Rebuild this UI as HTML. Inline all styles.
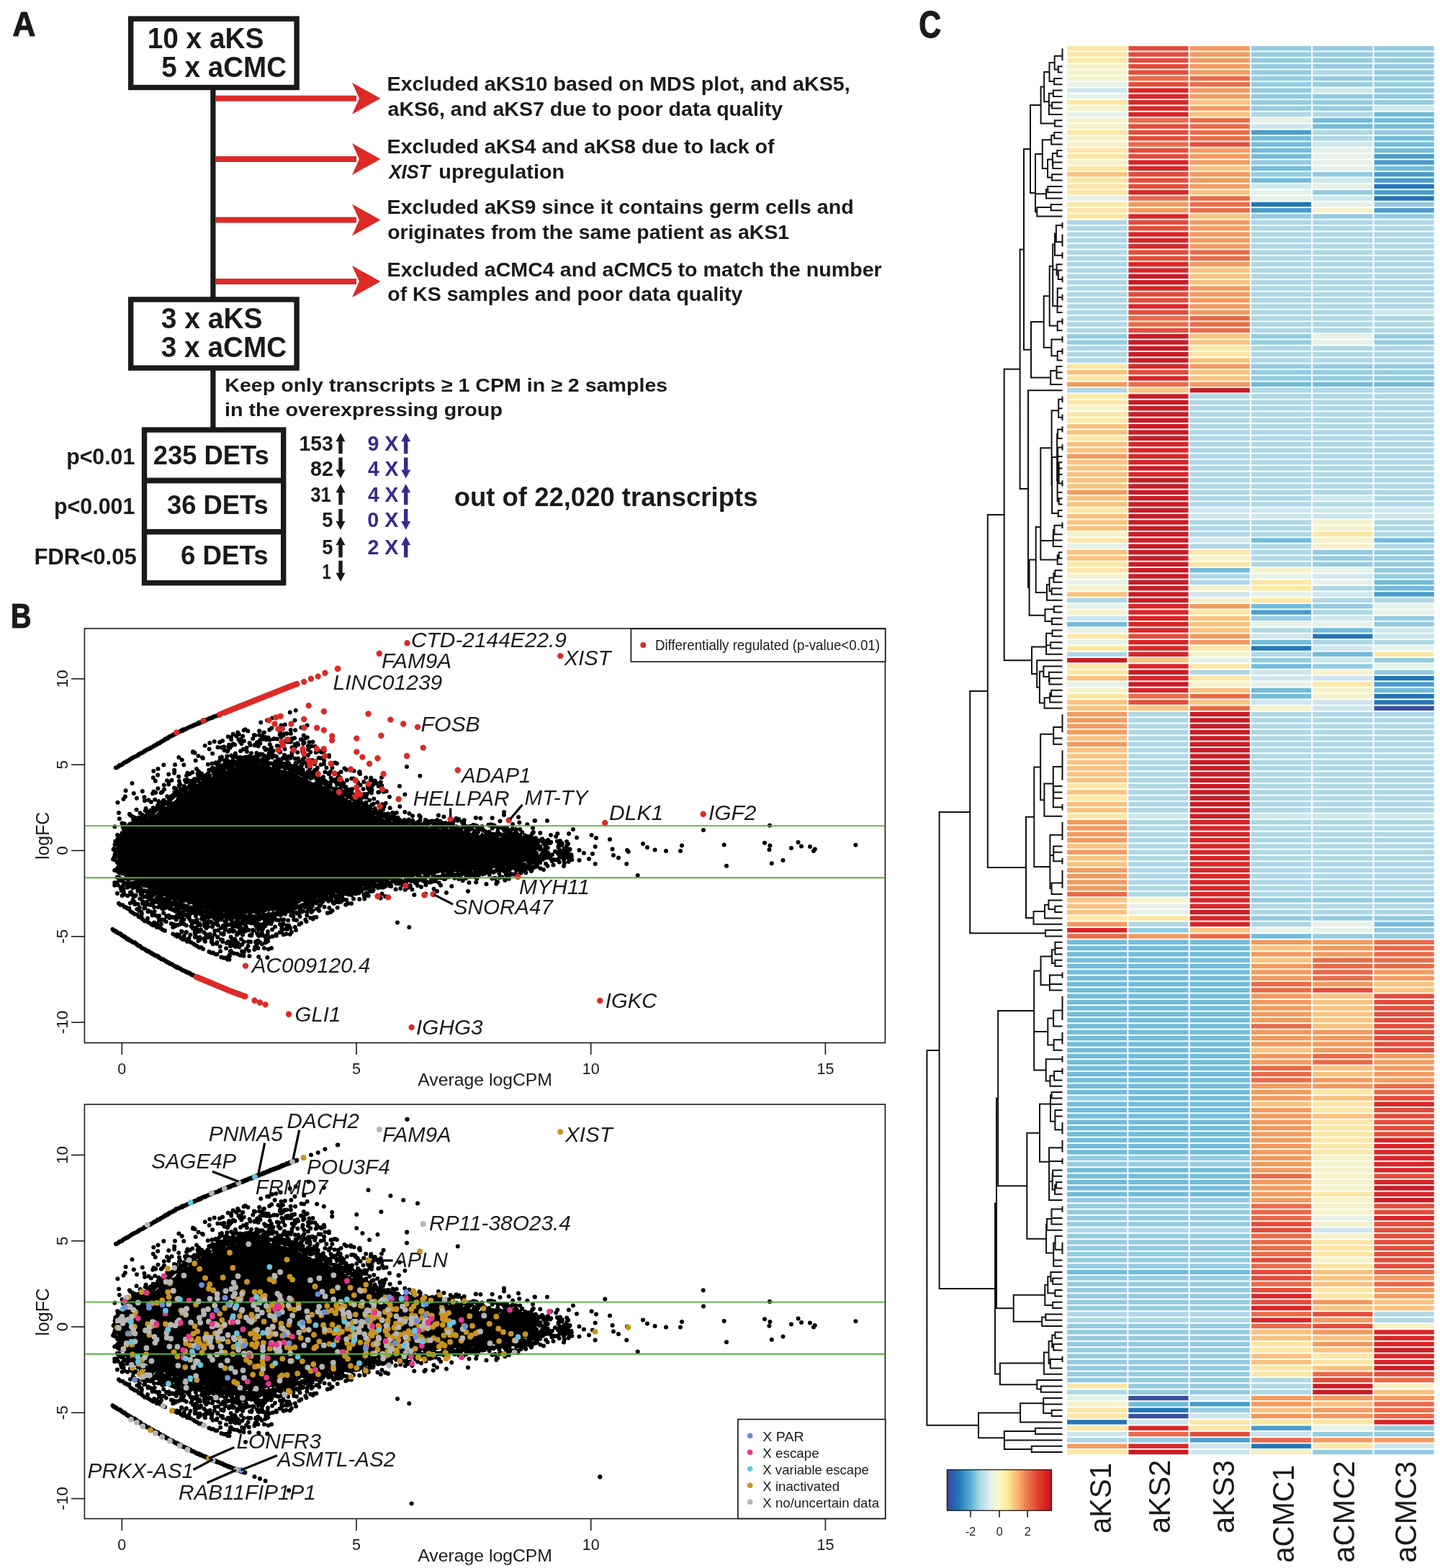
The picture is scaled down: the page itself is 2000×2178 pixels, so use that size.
<!DOCTYPE html>
<html><head><meta charset="utf-8"><title>Figure</title><style>
html,body{margin:0;padding:0;background:#fff;width:2000px;height:2178px;overflow:hidden}
svg{display:block}
.b{font-family:"Liberation Sans",Arial,sans-serif;font-weight:bold}
.r{font-family:"Liberation Sans",Arial,sans-serif;fill:#1a1a1a}
</style></head><body>
<svg width="2000" height="2178" viewBox="0 0 2000 2178">
<rect width="2000" height="2178" fill="#fff"/>
<text x="17.50" y="50.20" class="b" font-size="47.97" fill="#1a1a1a" textLength="31.80" lengthAdjust="spacingAndGlyphs" stroke="#1a1a1a" stroke-width="1.2">A</text>
<rect x="181.70" y="26.10" width="230.40" height="95.40" fill="none" stroke="#1a1a1a" stroke-width="7.4"/>
<rect x="181.70" y="416.00" width="230.40" height="95.10" fill="none" stroke="#1a1a1a" stroke-width="7.4"/>
<rect x="200.50" y="597.10" width="193.20" height="212.60" fill="none" stroke="#1a1a1a" stroke-width="7.4"/>
<rect x="197" y="663.6" width="200" height="7.8" fill="#1a1a1a"/>
<rect x="197" y="734.9" width="200" height="7.6" fill="#1a1a1a"/>
<rect x="292.3" y="124" width="7.2" height="290" fill="#1a1a1a"/>
<rect x="292.3" y="514" width="7.2" height="81" fill="#1a1a1a"/>
<rect x="299" y="132.7" width="196" height="8" fill="#dc2a26"/>
<path d="M489 114.7 L528.5 136.7 L489 158.7 L499 136.7 Z" fill="#dc2a26"/>
<rect x="299" y="217.0" width="196" height="8" fill="#dc2a26"/>
<path d="M489 199.0 L528.5 221.0 L489 243.0 L499 221.0 Z" fill="#dc2a26"/>
<rect x="299" y="301.5" width="196" height="8" fill="#dc2a26"/>
<path d="M489 283.5 L528.5 305.5 L489 327.5 L499 305.5 Z" fill="#dc2a26"/>
<rect x="299" y="387.0" width="196" height="8" fill="#dc2a26"/>
<path d="M489 369.0 L528.5 391.0 L489 413.0 L499 391.0 Z" fill="#dc2a26"/>
<text x="204.67" y="66.80" class="b" font-size="40.12" fill="#1a1a1a" textLength="161.77" lengthAdjust="spacingAndGlyphs">10 x aKS</text>
<text x="224.34" y="107.10" class="b" font-size="40.12" fill="#1a1a1a" textLength="173.78" lengthAdjust="spacingAndGlyphs">5 x aCMC</text>
<text x="223.83" y="456.10" class="b" font-size="40.12" fill="#1a1a1a" textLength="140.77" lengthAdjust="spacingAndGlyphs">3 x aKS</text>
<text x="223.83" y="496.00" class="b" font-size="40.12" fill="#1a1a1a" textLength="174.30" lengthAdjust="spacingAndGlyphs">3 x aCMC</text>
<text x="537.54" y="126.20" class="b" font-size="28.34" fill="#1a1a1a" textLength="643.17" lengthAdjust="spacingAndGlyphs">Excluded aKS10 based on MDS plot, and aKS5,</text>
<text x="538.54" y="160.70" class="b" font-size="28.34" fill="#1a1a1a" textLength="548.63" lengthAdjust="spacingAndGlyphs">aKS6, and aKS7 due to poor data quality</text>
<text x="537.54" y="213.20" class="b" font-size="28.34" fill="#1a1a1a" textLength="538.12" lengthAdjust="spacingAndGlyphs">Excluded aKS4 and aKS8 due to lack of</text>
<text x="537.54" y="297.30" class="b" font-size="28.34" fill="#1a1a1a" textLength="648.11" lengthAdjust="spacingAndGlyphs">Excluded aKS9 since it contains germ cells and</text>
<text x="538.26" y="331.50" class="b" font-size="28.34" fill="#1a1a1a" textLength="557.92" lengthAdjust="spacingAndGlyphs">originates from the same patient as aKS1</text>
<text x="537.54" y="383.80" class="b" font-size="28.34" fill="#1a1a1a" textLength="687.17" lengthAdjust="spacingAndGlyphs">Excluded aCMC4 and aCMC5 to match the number</text>
<text x="538.26" y="418.30" class="b" font-size="28.34" fill="#1a1a1a" textLength="493.12" lengthAdjust="spacingAndGlyphs">of KS samples and poor data quality</text>
<text x="540.16" y="247.50" class="b" font-style="italic" font-size="28.34" fill="#1a1a1a" textLength="57.50" lengthAdjust="spacingAndGlyphs">XIST</text>
<text x="609.27" y="247.50" class="b" font-size="28.34" fill="#1a1a1a" textLength="174.98" lengthAdjust="spacingAndGlyphs">upregulation</text>
<text x="312.24" y="544.20" class="b" font-size="26.16" fill="#1a1a1a" textLength="615.00" lengthAdjust="spacingAndGlyphs">Keep only transcripts ≥ 1 CPM in ≥ 2 samples</text>
<text x="312.09" y="578.30" class="b" font-size="26.16" fill="#1a1a1a" textLength="385.83" lengthAdjust="spacingAndGlyphs">in the overexpressing group</text>
<text x="212.73" y="645.30" class="b" font-size="37.65" fill="#1a1a1a" textLength="160.95" lengthAdjust="spacingAndGlyphs">235 DETs</text>
<text x="231.99" y="713.80" class="b" font-size="37.65" fill="#1a1a1a" textLength="140.74" lengthAdjust="spacingAndGlyphs">36 DETs</text>
<text x="251.02" y="784.00" class="b" font-size="37.65" fill="#1a1a1a" textLength="121.69" lengthAdjust="spacingAndGlyphs">6 DETs</text>
<text x="92.23" y="645.30" class="b" font-size="31.25" fill="#1a1a1a" textLength="95.06" lengthAdjust="spacingAndGlyphs">p&lt;0.01</text>
<text x="75.03" y="713.80" class="b" font-size="31.25" fill="#1a1a1a" textLength="112.30" lengthAdjust="spacingAndGlyphs">p&lt;0.001</text>
<text x="47.38" y="784.00" class="b" font-size="31.25" fill="#1a1a1a" textLength="142.41" lengthAdjust="spacingAndGlyphs">FDR&lt;0.05</text>
<text x="630.74" y="703.10" class="b" font-size="37.06" fill="#1a1a1a" textLength="421.70" lengthAdjust="spacingAndGlyphs">out of 22,020 transcripts</text>
<text x="415.60" y="626.20" class="b" font-size="29.07" fill="#1a1a1a" textLength="47.19" lengthAdjust="spacingAndGlyphs">153</text>
<path d="M470.3 630.2 L470.3 613.2 L466.5 613.2 L473.0 601.2 L479.5 613.2 L475.7 613.2 L475.7 630.2 Z" fill="#1a1a1a"/>
<text x="510.50" y="626.20" class="b" font-size="29.07" fill="#36298f" textLength="42.92" lengthAdjust="spacingAndGlyphs">9 X</text>
<path d="M561.0 630.2 L561.0 613.2 L557.2 613.2 L563.7 601.2 L570.2 613.2 L566.4 613.2 L566.4 630.2 Z" fill="#36298f"/>
<text x="431.04" y="660.50" class="b" font-size="29.07" fill="#1a1a1a" textLength="31.87" lengthAdjust="spacingAndGlyphs">82</text>
<path d="M470.3 635.5 L470.3 652.5 L466.5 652.5 L473.0 664.5 L479.5 652.5 L475.7 652.5 L475.7 635.5 Z" fill="#1a1a1a"/>
<text x="511.08" y="660.50" class="b" font-size="29.07" fill="#36298f" textLength="42.33" lengthAdjust="spacingAndGlyphs">4 X</text>
<path d="M561.0 635.5 L561.0 652.5 L557.2 652.5 L563.7 664.5 L570.2 652.5 L566.4 652.5 L566.4 635.5 Z" fill="#36298f"/>
<text x="431.26" y="697.30" class="b" font-size="29.07" fill="#1a1a1a" textLength="28.44" lengthAdjust="spacingAndGlyphs">31</text>
<path d="M470.3 701.3 L470.3 684.3 L466.5 684.3 L473.0 672.3 L479.5 684.3 L475.7 684.3 L475.7 701.3 Z" fill="#1a1a1a"/>
<text x="511.08" y="697.30" class="b" font-size="29.07" fill="#36298f" textLength="42.33" lengthAdjust="spacingAndGlyphs">4 X</text>
<path d="M561.0 701.3 L561.0 684.3 L557.2 684.3 L563.7 672.3 L570.2 684.3 L566.4 684.3 L566.4 701.3 Z" fill="#36298f"/>
<text x="447.28" y="731.90" class="b" font-size="29.07" fill="#1a1a1a" textLength="15.13" lengthAdjust="spacingAndGlyphs">5</text>
<path d="M470.3 706.9 L470.3 723.9 L466.5 723.9 L473.0 735.9 L479.5 723.9 L475.7 723.9 L475.7 706.9 Z" fill="#1a1a1a"/>
<text x="510.35" y="731.90" class="b" font-size="29.07" fill="#36298f" textLength="43.06" lengthAdjust="spacingAndGlyphs">0 X</text>
<path d="M561.0 706.9 L561.0 723.9 L557.2 723.9 L563.7 735.9 L570.2 723.9 L566.4 723.9 L566.4 706.9 Z" fill="#36298f"/>
<text x="447.28" y="770.30" class="b" font-size="29.07" fill="#1a1a1a" textLength="15.13" lengthAdjust="spacingAndGlyphs">5</text>
<path d="M470.3 774.3 L470.3 757.3 L466.5 757.3 L473.0 745.3 L479.5 757.3 L475.7 757.3 L475.7 774.3 Z" fill="#1a1a1a"/>
<text x="510.50" y="770.30" class="b" font-size="29.07" fill="#36298f" textLength="42.92" lengthAdjust="spacingAndGlyphs">2 X</text>
<path d="M561.0 774.3 L561.0 757.3 L557.2 757.3 L563.7 745.3 L570.2 757.3 L566.4 757.3 L566.4 774.3 Z" fill="#36298f"/>
<text x="447.39" y="803.80" class="b" font-size="29.07" fill="#1a1a1a" textLength="12.19" lengthAdjust="spacingAndGlyphs">1</text>
<path d="M470.3 778.8 L470.3 795.8 L466.5 795.8 L473.0 807.8 L479.5 795.8 L475.7 795.8 L475.7 778.8 Z" fill="#1a1a1a"/>
<text x="14.93" y="871.80" class="b" font-size="47.97" fill="#1a1a1a" textLength="28.53" lengthAdjust="spacingAndGlyphs" stroke="#1a1a1a" stroke-width="1.2">B</text>
<path d="M156.5 1186.8L159.0 1179.3L161.5 1175.7L164.0 1169.7L166.5 1166.3L169.0 1164.5L171.5 1160.1L174.0 1157.0L176.5 1155.0L179.0 1152.9L181.5 1147.6L184.0 1147.3L186.5 1145.8L189.0 1144.4L191.5 1144.0L194.0 1140.6L196.5 1138.5L199.0 1136.6L201.5 1137.1L204.0 1133.8L206.5 1134.9L209.0 1131.6L211.5 1131.5L214.0 1130.6L216.5 1131.1L219.0 1128.6L221.5 1123.2L224.0 1122.6L226.5 1120.0L229.0 1121.1L231.5 1119.5L234.0 1114.9L236.5 1113.4L239.0 1114.1L241.5 1112.6L244.0 1110.9L246.5 1104.4L249.0 1103.5L251.5 1101.1L254.0 1101.5L256.5 1097.1L259.0 1097.8L261.5 1097.4L264.0 1093.3L266.5 1092.0L269.0 1089.3L271.5 1088.6L274.0 1089.1L276.5 1084.8L279.0 1085.0L281.5 1082.4L284.0 1080.0L286.5 1079.3L289.0 1077.5L291.5 1078.9L294.0 1079.6L296.5 1074.4L299.0 1074.0L301.5 1073.4L304.0 1072.6L306.5 1073.2L309.0 1072.3L311.5 1069.4L314.0 1071.1L316.5 1068.8L319.0 1067.0L321.5 1065.1L324.0 1065.0L326.5 1066.0L329.0 1064.3L331.5 1063.9L334.0 1062.3L336.5 1061.3L339.0 1061.8L341.5 1061.6L344.0 1059.4L346.5 1060.1L349.0 1059.7L351.5 1059.3L354.0 1058.9L356.5 1061.0L359.0 1061.3L361.5 1060.5L364.0 1059.2L366.5 1060.5L369.0 1060.6L371.5 1060.7L374.0 1062.8L376.5 1065.5L379.0 1064.6L381.5 1063.2L384.0 1065.9L386.5 1066.8L389.0 1067.9L391.5 1069.2L394.0 1069.6L396.5 1070.0L399.0 1070.7L401.5 1070.7L404.0 1071.4L406.5 1073.6L409.0 1072.6L411.5 1073.5L414.0 1077.0L416.5 1077.9L419.0 1079.5L421.5 1079.2L424.0 1078.4L426.5 1080.8L429.0 1084.2L431.5 1084.8L434.0 1086.7L436.5 1086.6L439.0 1085.4L441.5 1085.5L444.0 1086.3L446.5 1089.5L449.0 1091.9L451.5 1090.9L454.0 1092.3L456.5 1096.0L459.0 1096.4L461.5 1099.0L464.0 1096.1L466.5 1098.0L469.0 1099.8L471.5 1099.8L474.0 1102.8L476.5 1104.4L479.0 1107.9L481.5 1108.3L484.0 1111.6L486.5 1110.5L489.0 1114.0L491.5 1112.3L494.0 1114.0L496.5 1115.2L499.0 1116.4L501.5 1119.4L504.0 1121.4L506.5 1120.0L509.0 1123.0L511.5 1125.4L514.0 1126.8L516.5 1128.6L519.0 1130.9L521.5 1133.1L524.0 1133.2L526.5 1132.2L529.0 1133.5L531.5 1135.9L534.0 1137.7L536.5 1138.4L539.0 1139.6L541.5 1140.8L544.0 1141.0L546.5 1140.1L549.0 1140.5L551.5 1141.8L554.0 1143.6L556.5 1142.4L559.0 1145.4L561.5 1143.3L564.0 1144.7L566.5 1145.0L569.0 1144.5L571.5 1144.5L574.0 1146.1L576.5 1145.3L579.0 1145.9L581.5 1146.0L584.0 1147.5L586.5 1147.0L589.0 1147.9L591.5 1149.4L594.0 1149.1L596.5 1149.5L599.0 1147.1L601.5 1148.7L604.0 1148.7L606.5 1147.5L609.0 1150.1L611.5 1152.0L614.0 1150.0L616.5 1149.3L619.0 1148.6L621.5 1149.4L624.0 1152.1L626.5 1150.0L629.0 1152.1L631.5 1151.2L634.0 1150.4L636.5 1151.9L639.0 1153.2L641.5 1152.4L644.0 1154.0L646.5 1151.9L649.0 1153.6L651.5 1154.6L654.0 1157.0L656.5 1155.3L659.0 1155.6L661.5 1154.9L664.0 1158.3L666.5 1160.3L669.0 1156.0L671.5 1158.1L674.0 1158.6L676.5 1160.1L679.0 1160.0L681.5 1157.6L684.0 1158.5L686.5 1158.4L689.0 1160.4L691.5 1161.8L694.0 1163.1L696.5 1162.4L699.0 1163.0L701.5 1160.5L704.0 1162.8L706.5 1162.3L709.0 1164.2L711.5 1163.7L714.0 1164.6L716.5 1164.5L719.0 1166.2L721.5 1167.0L724.0 1167.0L726.5 1167.5L729.0 1170.6L731.5 1172.5L734.0 1175.5L736.5 1175.6L739.0 1174.1L741.5 1175.1L744.0 1178.4L744.0 1190.4L741.5 1190.6L739.0 1193.1L736.5 1193.8L734.0 1197.1L731.5 1197.1L729.0 1196.7L726.5 1197.5L724.0 1198.1L721.5 1199.8L719.0 1199.5L716.5 1201.1L714.0 1204.0L711.5 1204.9L709.0 1201.0L706.5 1203.6L704.0 1202.4L701.5 1204.6L699.0 1207.6L696.5 1208.4L694.0 1208.1L691.5 1207.7L689.0 1207.8L686.5 1205.6L684.0 1207.1L681.5 1207.3L679.0 1207.7L676.5 1207.9L674.0 1210.3L671.5 1208.6L669.0 1210.5L666.5 1210.1L664.0 1209.5L661.5 1210.9L659.0 1210.1L656.5 1209.3L654.0 1210.4L651.5 1212.0L649.0 1212.2L646.5 1210.3L644.0 1212.1L641.5 1212.9L639.0 1211.0L636.5 1212.1L634.0 1211.6L631.5 1211.3L629.0 1213.8L626.5 1214.8L624.0 1213.2L621.5 1213.5L619.0 1212.6L616.5 1212.8L614.0 1214.9L611.5 1211.7L609.0 1213.6L606.5 1213.2L604.0 1215.9L601.5 1215.4L599.0 1215.6L596.5 1216.4L594.0 1216.2L591.5 1216.3L589.0 1218.2L586.5 1214.1L584.0 1216.7L581.5 1217.8L579.0 1219.0L576.5 1216.7L574.0 1219.6L571.5 1218.9L569.0 1220.2L566.5 1219.9L564.0 1218.3L561.5 1219.8L559.0 1218.4L556.5 1220.3L554.0 1221.2L551.5 1221.0L549.0 1219.3L546.5 1221.6L544.0 1222.1L541.5 1222.0L539.0 1223.8L536.5 1224.0L534.0 1224.3L531.5 1226.3L529.0 1225.6L526.5 1226.5L524.0 1225.8L521.5 1226.3L519.0 1227.3L516.5 1230.5L514.0 1229.9L511.5 1229.9L509.0 1231.3L506.5 1233.6L504.0 1231.2L501.5 1234.2L499.0 1234.4L496.5 1235.3L494.0 1236.7L491.5 1237.0L489.0 1237.4L486.5 1237.5L484.0 1239.2L481.5 1239.6L479.0 1239.1L476.5 1239.8L474.0 1240.6L471.5 1242.6L469.0 1242.6L466.5 1240.8L464.0 1243.2L461.5 1242.3L459.0 1245.1L456.5 1243.8L454.0 1246.6L451.5 1246.3L449.0 1247.8L446.5 1249.5L444.0 1249.3L441.5 1247.8L439.0 1248.1L436.5 1250.7L434.0 1251.4L431.5 1253.6L429.0 1254.6L426.5 1254.1L424.0 1254.4L421.5 1252.9L419.0 1252.2L416.5 1254.2L414.0 1255.4L411.5 1257.3L409.0 1259.0L406.5 1260.3L404.0 1262.1L401.5 1262.6L399.0 1261.8L396.5 1263.4L394.0 1265.3L391.5 1266.1L389.0 1266.6L386.5 1264.8L384.0 1265.9L381.5 1264.7L379.0 1266.1L376.5 1264.7L374.0 1266.4L371.5 1266.1L369.0 1267.1L366.5 1268.2L364.0 1267.9L361.5 1268.8L359.0 1270.1L356.5 1270.5L354.0 1269.6L351.5 1268.5L349.0 1270.5L346.5 1271.0L344.0 1269.6L341.5 1269.4L339.0 1269.8L336.5 1269.8L334.0 1270.9L331.5 1270.8L329.0 1272.0L326.5 1269.9L324.0 1269.7L321.5 1269.0L319.0 1270.8L316.5 1268.1L314.0 1268.7L311.5 1266.8L309.0 1268.1L306.5 1266.2L304.0 1267.4L301.5 1265.4L299.0 1266.1L296.5 1266.3L294.0 1265.7L291.5 1264.1L289.0 1266.1L286.5 1264.9L284.0 1262.8L281.5 1263.5L279.0 1261.9L276.5 1261.8L274.0 1259.9L271.5 1261.1L269.0 1259.6L266.5 1255.7L264.0 1256.2L261.5 1257.3L259.0 1253.3L256.5 1253.7L254.0 1253.9L251.5 1253.6L249.0 1253.9L246.5 1250.4L244.0 1251.5L241.5 1251.7L239.0 1250.5L236.5 1250.6L234.0 1249.8L231.5 1249.7L229.0 1244.7L226.5 1245.5L224.0 1247.1L221.5 1246.0L219.0 1244.8L216.5 1244.4L214.0 1242.5L211.5 1239.3L209.0 1240.6L206.5 1237.9L204.0 1233.0L201.5 1232.9L199.0 1233.1L196.5 1231.2L194.0 1231.8L191.5 1229.2L189.0 1229.1L186.5 1223.1L184.0 1222.3L181.5 1221.8L179.0 1218.3L176.5 1213.5L174.0 1211.3L171.5 1206.2L169.0 1203.7L166.5 1198.8L164.0 1195.8L161.5 1190.7L159.0 1189.1L156.5 1188.5Z" fill="#000"/>
<path d="M157.6 1180.0h0M158.3 1191.0h0M158.1 1178.9h0M157.1 1193.5h0M159.5 1173.3h0M159.5 1193.8h0M160.2 1168.6h0M159.6 1194.5h0M163.1 1159.7h0M163.0 1198.2h0M163.8 1171.3h0M163.5 1197.6h0M164.5 1166.9h0M164.8 1205.7h0M164.6 1163.9h0M165.5 1200.8h0M167.7 1163.1h0M166.7 1202.6h0M168.0 1161.1h0M167.2 1205.2h0M169.9 1159.2h0M170.6 1209.9h0M169.5 1157.2h0M170.1 1213.4h0M172.9 1156.7h0M173.4 1209.2h0M172.2 1152.4h0M171.7 1211.4h0M173.9 1151.2h0M175.3 1215.7h0M175.6 1154.1h0M175.2 1215.9h0M177.4 1150.6h0M177.9 1227.4h0M177.1 1148.7h0M176.3 1220.7h0M179.9 1130.7h0M180.2 1220.8h0M179.4 1146.1h0M178.6 1221.9h0M181.3 1147.5h0M181.1 1228.8h0M181.3 1146.9h0M181.8 1231.2h0M183.6 1143.8h0M184.5 1233.4h0M185.0 1138.2h0M184.0 1226.9h0M186.5 1136.1h0M187.7 1227.3h0M186.2 1143.7h0M186.3 1229.3h0M189.4 1142.1h0M188.2 1230.6h0M188.9 1139.9h0M190.1 1233.1h0M191.6 1138.0h0M192.0 1230.4h0M192.4 1135.8h0M192.3 1236.6h0M193.8 1138.3h0M193.2 1236.0h0M193.1 1140.1h0M193.4 1232.7h0M196.1 1138.7h0M195.4 1234.5h0M195.6 1137.1h0M195.5 1242.1h0M199.0 1137.0h0M198.3 1237.1h0M198.5 1137.1h0M199.5 1255.3h0M201.1 1133.6h0M200.4 1237.0h0M200.9 1135.1h0M201.9 1237.3h0M202.6 1122.9h0M203.7 1238.4h0M203.7 1134.9h0M203.7 1253.1h0M206.7 1128.9h0M205.5 1240.7h0M205.3 1127.7h0M206.1 1244.9h0M208.1 1131.3h0M209.0 1256.9h0M209.1 1125.8h0M209.0 1245.5h0M210.3 1128.1h0M210.5 1241.4h0M209.9 1129.7h0M210.3 1246.0h0M214.1 1127.3h0M214.1 1260.1h0M214.1 1127.8h0M212.6 1243.4h0M215.0 1127.2h0M215.8 1252.7h0M216.3 1125.5h0M215.9 1249.9h0M217.2 1122.1h0M218.8 1250.5h0M218.5 1123.9h0M217.4 1250.6h0M220.1 1118.3h0M221.3 1247.3h0M220.2 1113.0h0M220.8 1246.1h0M222.1 1122.4h0M223.6 1252.8h0M222.1 1116.1h0M223.8 1250.5h0M224.9 1118.2h0M224.5 1247.2h0M226.1 1117.2h0M225.3 1258.0h0M227.5 1111.5h0M228.3 1249.0h0M227.1 1118.3h0M227.1 1251.6h0M229.5 1115.8h0M229.3 1258.6h0M229.7 1115.5h0M230.2 1258.4h0M232.2 1106.2h0M232.4 1252.7h0M232.4 1116.1h0M232.3 1250.5h0M233.8 1107.9h0M234.1 1253.0h0M235.3 1111.1h0M234.5 1253.3h0M237.3 1106.4h0M236.4 1254.4h0M236.7 1111.2h0M237.7 1254.0h0M239.7 1105.0h0M240.4 1254.2h0M239.8 1107.8h0M239.6 1256.5h0M241.9 1105.8h0M242.0 1263.9h0M242.4 1100.5h0M242.9 1253.7h0M244.5 1095.5h0M245.1 1253.8h0M243.6 1104.7h0M243.5 1254.3h0M245.9 1100.7h0M247.4 1263.0h0M246.1 1100.1h0M247.1 1254.6h0M250.0 1089.6h0M248.6 1266.9h0M249.0 1100.7h0M250.2 1261.8h0M250.9 1099.3h0M251.6 1257.1h0M251.0 1100.0h0M252.0 1255.5h0M254.1 1097.4h0M253.0 1257.8h0M254.2 1096.9h0M253.1 1273.0h0M257.0 1083.7h0M255.6 1258.2h0M255.5 1091.9h0M255.9 1257.5h0M258.6 1086.5h0M259.4 1258.9h0M258.1 1086.1h0M258.9 1262.5h0M260.4 1094.1h0M261.6 1260.7h0M260.3 1083.2h0M261.5 1264.9h0M262.8 1084.9h0M262.7 1267.1h0M263.5 1091.0h0M263.7 1269.6h0M265.5 1090.6h0M266.1 1260.8h0M265.2 1090.5h0M265.1 1260.6h0M268.0 1088.3h0M268.9 1261.7h0M268.4 1088.9h0M268.1 1260.4h0M270.3 1088.2h0M271.3 1264.1h0M270.2 1085.7h0M271.7 1261.4h0M273.8 1084.5h0M273.2 1268.7h0M273.0 1084.0h0M273.6 1277.7h0M275.3 1078.2h0M276.0 1266.1h0M275.4 1083.6h0M274.7 1262.6h0M277.1 1078.5h0M277.5 1263.4h0M277.2 1076.5h0M278.7 1267.1h0M280.0 1081.4h0M280.0 1265.7h0M279.7 1080.2h0M279.9 1276.3h0M283.7 1078.2h0M282.3 1277.2h0M282.4 1079.6h0M281.8 1265.7h0M285.1 1077.4h0M284.6 1267.1h0M284.2 1079.0h0M284.4 1266.3h0M286.7 1079.0h0M287.2 1265.9h0M287.8 1076.0h0M288.1 1269.1h0M290.4 1069.4h0M289.8 1267.0h0M291.0 1077.2h0M290.4 1269.5h0M291.5 1069.5h0M293.2 1269.9h0M292.9 1070.0h0M291.7 1268.9h0M294.8 1068.4h0M295.4 1273.5h0M295.0 1066.6h0M295.2 1271.2h0M296.7 1074.4h0M296.5 1268.6h0M296.4 1067.3h0M297.3 1270.8h0M299.9 1069.1h0M299.6 1267.2h0M300.2 1068.1h0M299.6 1270.2h0M302.3 1072.4h0M302.5 1268.7h0M301.1 1071.5h0M302.5 1268.5h0M304.9 1056.9h0M304.4 1269.8h0M304.4 1067.2h0M304.9 1271.7h0M307.1 1070.6h0M306.1 1269.4h0M307.3 1069.4h0M306.9 1268.3h0M308.3 1068.7h0M309.5 1273.3h0M309.6 1068.6h0M309.2 1271.1h0M311.5 1068.6h0M312.4 1269.9h0M312.6 1058.1h0M310.6 1271.4h0M314.6 1054.5h0M313.9 1270.5h0M313.4 1056.7h0M313.4 1272.8h0M315.7 1064.6h0M317.3 1270.1h0M317.0 1064.7h0M317.2 1274.4h0M318.3 1057.7h0M318.8 1270.0h0M317.8 1064.1h0M318.7 1271.3h0M320.5 1064.4h0M320.8 1277.5h0M320.2 1060.5h0M321.9 1270.7h0M324.5 1060.4h0M324.4 1271.8h0M323.3 1063.4h0M324.6 1274.0h0M325.7 1062.4h0M325.6 1271.0h0M325.2 1057.4h0M325.6 1281.7h0M327.9 1062.7h0M328.4 1271.9h0M328.1 1051.4h0M329.2 1277.7h0M331.1 1053.5h0M331.7 1274.4h0M331.2 1063.1h0M331.3 1273.6h0M333.7 1058.6h0M332.8 1271.5h0M334.1 1062.2h0M333.1 1273.0h0M335.2 1056.8h0M336.6 1272.7h0M335.9 1060.7h0M335.7 1273.5h0M337.3 1060.8h0M337.4 1281.1h0M338.0 1060.6h0M338.8 1294.2h0M340.3 1060.4h0M339.8 1272.1h0M340.1 1060.6h0M339.9 1273.0h0M342.9 1051.6h0M343.3 1274.0h0M342.6 1057.4h0M342.6 1273.6h0M344.3 1058.6h0M346.1 1272.5h0M345.2 1056.0h0M345.9 1272.9h0M347.1 1058.6h0M347.4 1274.3h0M348.5 1052.2h0M348.3 1272.0h0M349.1 1054.7h0M350.8 1274.4h0M350.2 1059.6h0M349.8 1282.3h0M353.1 1051.7h0M353.3 1272.9h0M351.6 1058.8h0M352.4 1276.3h0M355.7 1054.2h0M355.1 1277.5h0M354.7 1056.1h0M353.9 1277.8h0M356.7 1049.1h0M357.5 1273.0h0M356.5 1058.0h0M357.5 1276.4h0M358.8 1058.7h0M359.6 1275.0h0M359.4 1058.0h0M359.8 1271.6h0M361.6 1056.9h0M362.9 1275.3h0M362.8 1056.8h0M361.5 1272.3h0M365.3 1055.0h0M364.0 1270.9h0M364.4 1055.4h0M364.2 1272.0h0M367.1 1050.0h0M366.3 1270.6h0M366.5 1058.2h0M367.2 1271.4h0M369.8 1055.4h0M369.2 1271.0h0M370.1 1059.3h0M369.8 1271.2h0M371.0 1055.6h0M371.2 1281.9h0M371.6 1060.4h0M371.0 1271.9h0M374.3 1049.9h0M373.3 1271.4h0M373.4 1047.1h0M373.3 1269.6h0M375.5 1060.2h0M377.2 1277.7h0M376.9 1038.2h0M377.3 1270.7h0M378.2 1051.9h0M379.3 1268.6h0M379.1 1061.0h0M378.5 1270.1h0M380.5 1063.6h0M380.8 1269.6h0M382.1 1063.0h0M382.1 1268.8h0M383.3 1057.4h0M384.2 1269.6h0M382.7 1061.7h0M383.3 1277.4h0M385.4 1063.2h0M386.8 1266.9h0M385.8 1058.3h0M386.5 1266.9h0M387.5 1065.4h0M389.2 1267.3h0M388.9 1056.5h0M388.1 1267.4h0M391.7 1062.5h0M390.3 1270.6h0M390.4 1065.1h0M389.8 1271.2h0M394.0 1063.1h0M394.1 1265.0h0M392.7 1064.5h0M394.1 1277.2h0M395.4 1066.8h0M395.5 1266.9h0M396.5 1067.2h0M396.2 1269.6h0M398.6 1062.9h0M398.2 1265.0h0M397.6 1067.1h0M398.6 1263.8h0M399.8 1064.1h0M399.9 1263.0h0M399.5 1066.5h0M400.1 1278.4h0M403.6 1053.0h0M402.3 1262.3h0M402.0 1067.9h0M403.2 1264.3h0M404.7 1069.4h0M405.4 1265.7h0M405.7 1064.0h0M405.5 1261.8h0M408.3 1071.0h0M407.7 1262.4h0M408.1 1071.5h0M407.1 1261.6h0M409.3 1064.7h0M410.2 1261.3h0M409.8 1053.8h0M410.0 1260.8h0M413.0 1070.0h0M413.4 1259.4h0M412.3 1067.4h0M413.1 1268.8h0M413.9 1073.7h0M414.0 1259.1h0M415.7 1071.6h0M415.7 1260.1h0M417.9 1073.7h0M416.7 1263.5h0M418.1 1075.6h0M417.4 1261.3h0M419.0 1075.1h0M418.9 1257.6h0M419.1 1073.3h0M419.9 1257.6h0M421.0 1076.3h0M422.4 1256.8h0M421.6 1077.0h0M422.6 1259.1h0M423.5 1078.3h0M424.2 1258.4h0M424.7 1078.4h0M423.7 1259.9h0M426.6 1078.4h0M426.4 1266.7h0M426.4 1076.4h0M426.5 1256.6h0M429.9 1058.0h0M428.9 1254.6h0M429.7 1079.8h0M428.2 1263.0h0M431.4 1074.9h0M431.4 1261.6h0M431.5 1081.1h0M430.6 1256.2h0M434.3 1073.1h0M433.2 1256.2h0M433.7 1080.0h0M433.3 1253.6h0M436.4 1073.4h0M435.6 1254.3h0M437.0 1070.1h0M435.8 1252.1h0M439.7 1069.9h0M438.8 1251.1h0M439.7 1082.8h0M439.6 1254.7h0M441.8 1085.1h0M441.8 1251.2h0M441.0 1078.3h0M441.9 1251.0h0M443.0 1084.9h0M443.6 1251.4h0M442.8 1085.8h0M444.0 1258.5h0M445.1 1084.8h0M446.5 1248.8h0M446.7 1087.6h0M446.2 1251.9h0M448.7 1087.8h0M448.2 1251.4h0M448.3 1085.0h0M448.3 1250.3h0M449.8 1086.6h0M450.8 1248.3h0M451.3 1084.4h0M450.7 1248.0h0M453.1 1091.2h0M452.5 1248.7h0M452.4 1089.3h0M453.2 1246.6h0M455.9 1092.5h0M456.1 1251.7h0M455.6 1092.6h0M455.6 1247.6h0M458.9 1093.4h0M458.7 1267.2h0M458.5 1087.3h0M457.4 1261.0h0M460.4 1082.6h0M461.2 1245.1h0M461.0 1084.5h0M459.5 1246.1h0M463.3 1095.7h0M463.6 1245.1h0M463.4 1095.8h0M462.8 1253.9h0M464.6 1096.4h0M465.2 1244.7h0M464.3 1096.8h0M464.5 1254.2h0M468.0 1089.8h0M466.9 1248.7h0M466.8 1095.8h0M467.9 1244.4h0M470.7 1096.8h0M470.2 1250.6h0M469.2 1080.2h0M470.3 1244.0h0M473.0 1100.0h0M473.4 1244.8h0M472.1 1095.4h0M472.3 1242.2h0M475.3 1102.3h0M475.4 1242.0h0M475.1 1085.9h0M475.0 1245.2h0M476.8 1103.8h0M476.3 1240.8h0M477.4 1101.5h0M477.2 1249.2h0M478.9 1104.1h0M479.9 1239.7h0M478.6 1103.4h0M478.8 1241.4h0M481.4 1103.0h0M482.2 1239.9h0M482.2 1103.9h0M481.3 1250.0h0M483.9 1107.2h0M483.6 1242.5h0M485.1 1101.8h0M484.2 1239.6h0M485.8 1105.1h0M486.9 1239.5h0M487.1 1106.9h0M487.7 1243.1h0M488.7 1101.2h0M488.3 1240.2h0M489.0 1109.5h0M488.3 1243.2h0M490.6 1108.8h0M492.5 1237.2h0M491.0 1108.2h0M491.6 1240.7h0M494.6 1112.6h0M493.6 1237.5h0M493.1 1104.6h0M494.6 1241.1h0M495.4 1107.4h0M496.9 1238.0h0M496.9 1112.4h0M495.9 1235.9h0M498.3 1116.1h0M498.5 1240.4h0M499.2 1108.8h0M499.2 1236.1h0M501.3 1115.5h0M501.8 1237.3h0M500.7 1113.6h0M502.1 1235.3h0M504.4 1119.1h0M503.1 1234.8h0M504.1 1107.6h0M504.1 1235.3h0M506.8 1119.0h0M505.5 1242.7h0M506.3 1115.9h0M506.3 1248.6h0M508.3 1114.8h0M508.8 1240.2h0M508.3 1117.0h0M508.5 1233.9h0M510.2 1119.8h0M510.0 1241.3h0M510.1 1123.6h0M510.0 1242.2h0M512.9 1124.7h0M512.3 1231.0h0M513.6 1121.3h0M513.6 1236.2h0M514.7 1123.3h0M515.3 1236.9h0M516.2 1118.0h0M514.7 1238.2h0M518.8 1116.8h0M517.2 1230.2h0M517.2 1128.3h0M518.7 1236.0h0M520.7 1123.0h0M520.7 1229.9h0M519.6 1129.5h0M520.9 1229.4h0M522.4 1129.2h0M521.8 1229.0h0M522.4 1126.3h0M522.5 1229.4h0M526.1 1129.7h0M525.9 1231.1h0M524.3 1130.4h0M525.1 1233.2h0M527.3 1128.8h0M527.7 1227.7h0M528.3 1133.3h0M528.2 1227.4h0M529.0 1133.9h0M530.5 1241.4h0M529.0 1132.1h0M530.0 1232.5h0M531.8 1133.2h0M532.1 1232.7h0M531.9 1124.4h0M532.0 1226.5h0M535.2 1134.3h0M534.0 1229.0h0M534.0 1130.8h0M535.2 1231.2h0M537.5 1136.4h0M537.0 1226.4h0M538.0 1137.8h0M538.0 1224.5h0M539.0 1137.9h0M540.4 1226.7h0M539.4 1130.5h0M539.1 1226.4h0M542.1 1134.1h0M542.5 1227.6h0M541.7 1138.2h0M541.3 1230.8h0M544.7 1134.9h0M543.7 1225.3h0M544.9 1136.9h0M543.7 1225.5h0M547.6 1139.9h0M546.2 1224.0h0M547.2 1133.5h0M546.1 1223.2h0M548.7 1140.0h0M549.2 1222.8h0M548.9 1140.7h0M550.2 1227.3h0M550.8 1129.0h0M550.8 1223.6h0M552.6 1135.8h0M552.1 1223.9h0M553.4 1138.7h0M553.2 1222.1h0M553.8 1142.6h0M553.8 1227.4h0M556.8 1140.4h0M556.7 1223.3h0M555.7 1139.5h0M556.2 1226.2h0M559.6 1141.2h0M558.9 1226.1h0M558.6 1142.4h0M559.2 1229.0h0M561.7 1138.9h0M561.9 1224.8h0M561.5 1141.3h0M560.8 1224.2h0M562.8 1141.9h0M564.2 1225.0h0M563.9 1142.9h0M563.4 1222.4h0M566.2 1142.2h0M566.4 1230.3h0M565.4 1140.1h0M566.6 1221.6h0M568.4 1129.9h0M567.5 1222.5h0M567.7 1138.5h0M569.3 1222.3h0M570.0 1141.5h0M570.9 1224.1h0M570.8 1140.8h0M571.5 1222.0h0M573.0 1133.3h0M572.6 1223.5h0M573.0 1139.4h0M572.4 1235.5h0M575.3 1145.1h0M575.1 1220.7h0M574.6 1143.2h0M575.4 1223.4h0M577.7 1144.4h0M577.4 1223.8h0M578.9 1142.6h0M577.4 1224.9h0M580.2 1144.9h0M579.7 1224.2h0M581.0 1141.8h0M580.3 1221.5h0M582.3 1132.7h0M582.5 1222.0h0M583.4 1139.2h0M582.7 1219.4h0M585.3 1145.7h0M585.9 1219.5h0M585.9 1145.0h0M585.0 1218.9h0M587.5 1145.6h0M586.6 1222.7h0M587.2 1145.3h0M587.2 1220.1h0M589.9 1142.6h0M590.3 1219.1h0M590.9 1139.0h0M589.1 1224.4h0M593.2 1140.8h0M591.7 1224.2h0M592.7 1146.9h0M591.4 1229.2h0M595.1 1146.0h0M594.0 1217.5h0M594.3 1141.1h0M594.5 1217.5h0M598.0 1141.1h0M596.5 1225.5h0M597.4 1141.3h0M597.5 1225.6h0M600.2 1140.3h0M599.0 1221.1h0M599.7 1142.2h0M599.5 1225.0h0M602.1 1146.6h0M601.5 1216.8h0M602.0 1147.6h0M601.9 1216.8h0M604.4 1145.3h0M604.5 1223.9h0M603.4 1140.7h0M604.3 1219.3h0M607.1 1140.9h0M606.5 1217.9h0M607.7 1147.9h0M607.1 1219.8h0M608.3 1144.7h0M609.6 1226.2h0M608.9 1132.5h0M609.2 1218.2h0M612.4 1148.6h0M612.0 1219.2h0M611.3 1140.8h0M611.3 1217.9h0M614.1 1143.0h0M613.4 1217.4h0M613.8 1145.7h0M614.7 1216.5h0M617.1 1147.1h0M616.4 1216.1h0M616.4 1134.4h0M616.7 1221.1h0M618.5 1147.8h0M618.4 1218.2h0M619.1 1143.2h0M617.9 1219.8h0M622.0 1146.4h0M620.3 1215.8h0M620.2 1148.7h0M622.0 1218.2h0M623.9 1143.6h0M624.4 1218.0h0M623.8 1145.9h0M624.0 1217.8h0M626.4 1149.1h0M626.3 1216.4h0M626.5 1149.6h0M625.4 1214.1h0M628.9 1140.4h0M628.7 1215.6h0M629.0 1144.1h0M628.5 1214.9h0M630.4 1148.3h0M630.4 1215.8h0M631.1 1139.6h0M629.9 1216.9h0M632.3 1150.2h0M633.8 1216.7h0M634.0 1148.3h0M632.2 1215.3h0M635.8 1139.8h0M636.6 1215.7h0M635.4 1150.5h0M635.9 1214.0h0M637.3 1151.2h0M637.0 1217.5h0M637.2 1137.7h0M637.2 1221.0h0M639.7 1151.6h0M640.8 1213.7h0M640.9 1150.9h0M639.5 1218.6h0M643.2 1144.4h0M643.3 1212.8h0M643.1 1147.2h0M642.7 1223.2h0M644.7 1139.3h0M645.6 1212.2h0M644.2 1148.4h0M645.8 1212.5h0M647.2 1147.8h0M646.9 1219.9h0M647.6 1152.8h0M647.3 1215.4h0M649.9 1149.0h0M649.3 1218.1h0M649.7 1149.4h0M650.3 1213.9h0M652.2 1147.8h0M653.3 1217.7h0M652.5 1152.6h0M651.5 1226.1h0M655.2 1147.4h0M654.5 1215.0h0M655.8 1147.3h0M655.0 1212.8h0M657.1 1146.1h0M657.0 1215.7h0M657.4 1145.8h0M657.8 1212.4h0M658.6 1154.0h0M659.4 1214.4h0M660.2 1146.5h0M658.7 1218.0h0M662.6 1147.6h0M662.1 1211.9h0M662.7 1149.1h0M662.4 1220.4h0M664.1 1155.8h0M664.5 1216.8h0M663.8 1150.6h0M665.3 1211.5h0M667.0 1152.1h0M666.7 1211.1h0M666.3 1151.0h0M667.4 1212.7h0M668.4 1150.5h0M669.7 1211.0h0M669.4 1147.9h0M670.0 1212.9h0M671.6 1153.8h0M671.0 1210.6h0M671.0 1152.5h0M671.3 1213.1h0M673.8 1154.7h0M673.3 1209.7h0M675.0 1155.7h0M673.2 1213.5h0M677.0 1157.2h0M676.6 1211.0h0M676.4 1157.8h0M675.5 1227.9h0M679.5 1155.5h0M678.9 1210.3h0M679.4 1156.0h0M679.7 1214.9h0M681.8 1145.2h0M680.7 1209.0h0M680.6 1157.7h0M680.4 1209.1h0M683.7 1150.6h0M683.5 1220.4h0M684.4 1158.5h0M683.8 1210.7h0M685.2 1146.3h0M685.5 1211.8h0M686.3 1146.5h0M686.3 1210.4h0M688.3 1158.7h0M689.3 1227.4h0M687.8 1159.2h0M687.9 1209.9h0M691.6 1150.2h0M691.5 1208.2h0M691.4 1154.7h0M691.1 1224.9h0M692.3 1159.3h0M693.7 1219.0h0M693.6 1158.5h0M693.4 1213.4h0M694.8 1158.7h0M695.1 1208.1h0M695.6 1159.5h0M695.1 1208.2h0M698.4 1160.5h0M698.4 1208.2h0M697.1 1150.0h0M697.4 1218.2h0M701.1 1152.0h0M699.7 1209.5h0M699.6 1150.2h0M701.1 1211.1h0M702.7 1159.5h0M703.4 1209.3h0M703.1 1160.6h0M702.2 1206.9h0M705.6 1158.6h0M704.5 1214.2h0M704.7 1159.7h0M704.5 1207.3h0M708.3 1160.8h0M706.9 1208.1h0M707.2 1153.1h0M706.8 1220.8h0M709.1 1154.1h0M710.3 1205.8h0M710.0 1161.7h0M709.5 1205.7h0M712.1 1144.9h0M713.4 1214.6h0M711.6 1162.3h0M713.2 1204.5h0M715.3 1162.9h0M715.8 1203.7h0M715.4 1162.7h0M714.1 1203.6h0M717.9 1162.0h0M716.6 1205.3h0M718.0 1164.0h0M717.3 1203.6h0M719.0 1159.7h0M720.0 1203.3h0M718.8 1165.2h0M719.8 1205.1h0M721.5 1165.3h0M722.2 1206.7h0M722.6 1162.7h0M721.4 1202.0h0M724.9 1164.7h0M724.8 1201.4h0M725.0 1165.2h0M725.1 1209.1h0M726.8 1167.8h0M727.6 1202.9h0M727.5 1166.7h0M726.2 1207.4h0M728.9 1168.4h0M728.9 1202.9h0M728.2 1166.2h0M729.1 1202.2h0M730.8 1165.3h0M732.2 1206.4h0M731.2 1165.3h0M731.4 1203.9h0M733.1 1163.3h0M734.9 1200.1h0M734.0 1168.5h0M734.1 1197.5h0M737.3 1171.7h0M735.8 1196.9h0M735.9 1165.9h0M735.5 1196.8h0M739.2 1173.0h0M737.8 1199.1h0M739.0 1170.9h0M739.2 1195.9h0M741.9 1170.0h0M740.3 1195.0h0M741.2 1172.3h0M740.8 1195.0h0M743.4 1175.7h0M743.8 1201.5h0M742.9 1172.9h0M744.1 1194.3h0M183.5 1088.0h0M213.3 1070.9h0M219.5 1067.9h0M227.3 1062.6h0M248.4 1052.1h0M268.1 1043.9h0M284.7 1035.8h0M291.3 1031.9h0M297.7 1030.0h0M316.8 1023.2h0M323.7 1019.7h0M330.2 1017.5h0M340.7 1013.2h0M362.3 1003.5h0M371.1 1000.5h0M378.0 997.4h0M402.7 989.4h0M410.7 986.8h0M163.4 1114.8h0M171.5 1110.0h0M185.8 1101.9h0M215.7 1084.7h0M234.2 1075.6h0M242.1 1069.7h0M255.3 1062.6h0M271.7 1056.4h0M281.0 1052.2h0M295.1 1046.7h0M310.5 1039.9h0M317.4 1037.3h0M326.2 1034.5h0M333.4 1030.2h0M338.8 1029.3h0M360.2 1021.1h0M366.1 1017.7h0M374.2 1013.7h0M390.5 1007.6h0M395.8 1006.6h0M409.5 1000.6h0M200.4 1107.3h0M213.5 1099.5h0M219.4 1095.3h0M227.8 1090.4h0M234.7 1086.6h0M260.3 1073.7h0M267.2 1072.8h0M272.9 1068.0h0M288.8 1061.8h0M294.5 1060.6h0M307.9 1054.5h0M315.3 1050.5h0M321.1 1049.4h0M326.8 1046.4h0M334.1 1043.3h0M353.8 1035.6h0M361.4 1032.7h0M374.7 1027.7h0M388.7 1020.8h0M395.1 1019.2h0M410.1 1014.3h0M418.5 1010.6h0M426.6 1007.5h0M165.9 1137.3h0M209.9 1114.1h0M215.2 1110.8h0M242.0 1094.6h0M248.8 1091.1h0M260.6 1085.6h0M270.0 1082.1h0M275.5 1080.1h0M282.4 1077.4h0M297.6 1069.4h0M303.2 1066.9h0M311.2 1064.7h0M317.7 1061.7h0M335.9 1054.1h0M342.4 1052.9h0M356.4 1046.1h0M368.8 1041.5h0M384.8 1036.1h0M393.7 1031.8h0M399.3 1030.4h0M421.8 1021.4h0M172.9 1144.3h0M189.3 1136.7h0M197.1 1131.7h0M212.6 1122.0h0M219.3 1118.2h0M359.9 1056.0h0M365.7 1054.4h0M372.4 1050.3h0M380.2 1049.5h0M410.0 1037.6h0M414.0 1034.5h0M422.5 1031.7h0M429.5 1030.9h0M386.7 1054.8h0M393.5 1053.3h0M398.0 1051.3h0M405.1 1049.6h0M413.3 1045.1h0M420.1 1043.6h0M428.8 1039.1h0M399.5 1059.4h0M414.2 1053.7h0M422.5 1052.4h0M427.9 1049.0h0M407.9 1065.1h0M420.0 1060.9h0M426.4 1058.8h0M414.1 1069.3h0M418.8 1068.0h0M429.6 1071.2h0M169.6 1244.0h0M187.2 1256.1h0M193.8 1260.2h0M200.1 1261.7h0M205.5 1266.3h0M213.1 1271.0h0M220.4 1275.0h0M225.5 1277.5h0M230.7 1280.3h0M237.7 1282.9h0M243.3 1286.5h0M258.9 1294.8h0M264.4 1298.4h0M270.8 1301.8h0M278.0 1304.8h0M295.6 1311.3h0M319.7 1321.3h0M325.0 1324.3h0M338.4 1327.7h0M346.4 1328.0h0M359.2 1329.0h0M371.3 1329.9h0M164.1 1229.5h0M171.4 1234.6h0M182.7 1242.4h0M187.7 1244.5h0M194.2 1248.3h0M198.1 1252.2h0M204.4 1254.7h0M227.2 1268.3h0M239.1 1273.8h0M244.9 1277.6h0M251.6 1279.7h0M255.4 1283.6h0M267.2 1288.3h0M273.4 1290.2h0M277.3 1293.8h0M283.4 1295.2h0M302.1 1302.0h0M307.0 1305.3h0M319.2 1310.8h0M325.7 1313.9h0M332.3 1315.5h0M342.1 1318.1h0M353.3 1319.0h0M367.0 1316.9h0M372.7 1318.6h0M377.0 1317.0h0M165.9 1221.7h0M170.8 1223.9h0M175.3 1227.1h0M182.7 1230.1h0M194.0 1237.1h0M197.7 1240.9h0M204.2 1243.7h0M209.3 1247.0h0M221.4 1254.7h0M226.9 1257.7h0M231.4 1260.5h0M236.1 1262.2h0M243.2 1265.4h0M255.3 1271.3h0M272.7 1281.6h0M277.3 1282.8h0M284.2 1286.2h0M289.1 1287.1h0M309.5 1297.1h0M320.6 1301.5h0M348.1 1308.2h0M355.1 1308.9h0M361.2 1309.1h0M372.1 1307.3h0M240.2 1256.2h0M246.5 1259.2h0M252.4 1261.3h0M260.8 1264.9h0M272.0 1272.6h0M284.5 1277.6h0M294.6 1281.9h0M313.0 1289.1h0M318.9 1292.2h0M325.4 1293.2h0M333.1 1296.1h0M337.1 1298.6h0M349.2 1299.6h0M358.6 1299.2h0M364.7 1299.6h0M371.7 1298.5h0M292.8 1272.3h0M303.4 1276.4h0M322.2 1283.8h0M329.4 1287.3h0M334.4 1288.2h0M345.5 1292.1h0M351.0 1291.7h0M358.8 1291.1h0M365.1 1290.1h0M378.1 1291.2h0M312.2 1273.4h0M322.2 1276.6h0M329.2 1279.7h0M335.7 1282.5h0M354.9 1285.2h0M360.1 1283.9h0M365.5 1283.6h0M371.0 1283.3h0M376.3 1283.3h0M339.8 1276.2h0M344.5 1277.8h0M348.5 1277.9h0M360.2 1277.3h0M367.9 1276.7h0M372.8 1276.3h0M378.4 1277.5h0M159.3 1148.3h0M164.2 1163.4h0M163.5 1164.8h0M165.0 1129.0h0M170.4 1157.8h0M169.5 1143.4h0M170.7 1149.0h0M173.9 1106.4h0M174.6 1098.2h0M178.9 1146.8h0M181.1 1132.4h0M180.2 1144.7h0M183.6 1134.1h0M186.1 1135.2h0M189.6 1124.8h0M189.9 1108.7h0M193.5 1138.8h0M194.6 1129.3h0M198.9 1133.0h0M197.8 1098.9h0M201.0 1112.3h0M201.8 1126.2h0M204.6 1131.4h0M206.3 1111.3h0M207.2 1129.6h0M212.1 1102.2h0M212.8 1080.3h0M216.2 1101.0h0M219.1 1076.5h0M219.3 1121.8h0M223.7 1101.2h0M225.5 1099.8h0M226.5 1112.7h0M230.5 1114.2h0M228.0 1096.4h0M232.0 1084.3h0M231.9 1115.0h0M234.2 1089.4h0M238.5 1083.7h0M242.3 1069.9h0M242.1 1073.8h0M243.0 1062.2h0M248.2 1078.7h0M246.2 1102.1h0M248.9 1085.1h0M250.7 1096.1h0M252.7 1055.6h0M257.3 1097.1h0M259.0 1077.5h0M263.5 1074.9h0M266.0 1084.7h0M267.9 1045.0h0M270.5 1045.8h0M274.5 1074.6h0M276.0 1071.6h0M275.5 1050.1h0M279.9 1074.5h0M281.9 1053.2h0M287.4 1076.1h0M289.1 1074.2h0M290.7 1040.4h0M295.3 1070.4h0M299.2 1060.3h0M302.4 1038.0h0M302.3 1064.6h0M299.7 1059.2h0M302.6 1068.8h0M303.4 1062.7h0M305.1 1031.1h0M308.0 1051.6h0M307.5 1038.2h0M305.8 1052.3h0M307.5 1063.2h0M311.2 1037.3h0M309.1 1028.9h0M311.2 1067.2h0M313.6 1063.1h0M312.2 1060.5h0M313.1 1056.2h0M311.7 1042.3h0M315.9 1043.7h0M316.9 1041.4h0M315.9 1066.6h0M319.4 1038.4h0M320.4 1061.2h0M318.2 1034.5h0M321.1 1024.1h0M323.4 1051.4h0M321.2 1027.3h0M321.6 1036.0h0M323.9 1033.2h0M324.1 1057.8h0M323.6 1056.2h0M324.7 1060.7h0M328.2 1061.4h0M328.2 1022.5h0M328.6 1051.6h0M327.0 1048.1h0M331.5 1062.0h0M330.6 1058.1h0M331.8 1020.1h0M331.4 1027.2h0M335.4 1033.1h0M334.8 1056.1h0M333.3 1052.1h0M334.3 1026.8h0M337.3 1022.6h0M335.5 1055.3h0M337.7 1040.7h0M335.7 1052.4h0M340.6 1055.3h0M339.2 1060.0h0M340.6 1051.8h0M338.6 1014.4h0M344.4 1015.5h0M342.5 1055.3h0M342.5 1038.8h0M342.9 1044.0h0M344.8 1057.8h0M344.8 1054.2h0M346.6 1032.1h0M346.9 1050.2h0M349.0 1046.2h0M350.3 1052.9h0M347.7 1034.9h0M349.6 1054.3h0M351.2 1025.9h0M352.9 1021.1h0M352.3 1056.2h0M352.6 1052.7h0M354.2 1021.6h0M355.5 1056.0h0M353.9 1034.6h0M355.2 1052.5h0M357.2 1030.9h0M357.8 1049.6h0M358.7 1036.4h0M358.7 1057.6h0M357.4 1051.2h0M361.3 1027.8h0M360.1 1015.3h0M361.5 1047.4h0M360.0 1049.6h0M365.0 1023.5h0M365.4 1026.7h0M363.4 1022.1h0M364.7 1047.7h0M364.3 1057.6h0M367.0 1058.4h0M368.3 1055.1h0M366.9 1017.4h0M365.9 1053.3h0M367.1 1038.8h0M370.1 1027.5h0M368.8 1023.9h0M369.7 1058.4h0M369.3 1040.5h0M372.5 1053.4h0M373.6 1041.3h0M372.6 1024.6h0M374.3 1042.8h0M374.8 1033.9h0M376.4 1042.8h0M374.6 1051.5h0M377.2 1011.5h0M379.4 1042.9h0M377.7 1051.2h0M379.8 1026.5h0M377.8 1044.4h0M377.8 1046.6h0M381.4 1061.7h0M380.9 1025.9h0M380.7 1060.0h0M382.1 1057.8h0M384.0 1058.4h0M384.8 1026.4h0M383.9 1050.8h0M386.4 1055.3h0M388.7 1055.3h0M389.2 1018.5h0M389.4 1044.4h0M387.4 1036.8h0M388.6 1044.8h0M390.1 1061.6h0M389.8 1014.3h0M390.5 1024.1h0M390.3 1056.6h0M392.9 1012.2h0M393.5 1021.7h0M394.7 1060.8h0M393.1 1052.8h0M395.0 1048.7h0M395.5 1040.4h0M397.3 1028.3h0M398.4 1019.0h0M398.0 1054.5h0M399.6 1058.5h0M399.6 1052.8h0M398.8 1052.6h0M401.2 1060.4h0M400.4 1050.8h0M402.2 1030.5h0M403.9 1019.1h0M403.7 1014.0h0M403.9 1030.6h0M405.6 1038.3h0M404.9 1026.0h0M405.5 1045.6h0M405.5 1027.3h0M407.0 1025.7h0M410.3 1067.6h0M409.5 1033.8h0M407.6 1039.8h0M409.1 1025.2h0M412.8 1059.4h0M413.1 1032.5h0M411.5 1065.5h0M410.8 1063.9h0M410.6 1060.0h0M413.7 1066.1h0M415.7 1072.5h0M414.9 1067.4h0M415.9 1057.2h0M418.4 1063.2h0M417.9 1027.3h0M418.7 1026.9h0M419.1 1063.1h0M421.3 1073.5h0M421.1 1033.1h0M420.7 1054.9h0M421.5 1029.5h0M420.6 1069.3h0M424.6 1025.3h0M425.2 1073.9h0M424.3 1076.9h0M424.7 1059.1h0M422.8 1059.2h0M427.9 1036.2h0M426.2 1064.4h0M427.9 1041.2h0M428.1 1071.2h0M426.8 1024.2h0M431.3 1044.8h0M429.4 1073.2h0M430.7 1067.1h0M430.1 1073.9h0M430.5 1057.7h0M434.5 1030.5h0M433.9 1056.0h0M434.2 1075.4h0M433.8 1056.5h0M432.6 1036.5h0M434.6 1075.8h0M437.2 1061.1h0M437.4 1036.7h0M437.3 1060.7h0M439.4 1079.7h0M438.8 1045.3h0M438.3 1057.3h0M438.8 1074.2h0M440.8 1066.5h0M441.5 1085.1h0M442.7 1052.7h0M441.3 1077.4h0M445.3 1081.5h0M444.1 1043.6h0M445.7 1062.2h0M445.6 1052.9h0M449.0 1079.2h0M446.7 1044.8h0M447.8 1043.6h0M446.7 1086.1h0M449.9 1061.3h0M451.4 1072.5h0M450.5 1042.8h0M450.2 1056.4h0M453.7 1086.8h0M453.4 1066.5h0M453.2 1086.7h0M453.1 1089.2h0M456.1 1074.1h0M456.8 1075.3h0M457.0 1049.3h0M456.9 1050.9h0M458.9 1071.9h0M458.7 1089.7h0M461.4 1066.4h0M459.6 1080.6h0M463.6 1084.5h0M462.0 1082.9h0M463.2 1060.1h0M464.0 1095.4h0M466.4 1086.2h0M465.7 1059.5h0M465.4 1083.0h0M469.7 1074.7h0M467.9 1060.5h0M470.1 1087.5h0M472.5 1080.0h0M473.3 1090.2h0M471.7 1081.8h0M476.2 1099.2h0M473.6 1072.2h0M474.9 1092.5h0M474.6 1085.8h0M478.1 1093.1h0M478.4 1067.2h0M477.5 1088.1h0M481.9 1083.8h0M480.6 1097.9h0M480.6 1093.2h0M481.1 1069.2h0M485.0 1096.9h0M484.6 1102.9h0M483.1 1106.3h0M484.9 1105.6h0M485.7 1102.3h0M487.7 1101.0h0M488.2 1081.4h0M487.2 1069.9h0M491.3 1108.2h0M489.1 1095.9h0M491.1 1081.4h0M494.1 1109.9h0M493.3 1082.5h0M491.6 1070.7h0M491.9 1110.8h0M496.4 1086.1h0M495.0 1111.1h0M496.3 1109.0h0M497.4 1087.9h0M498.8 1073.0h0M498.3 1102.6h0M500.4 1108.9h0M499.6 1072.1h0M501.0 1112.5h0M502.7 1105.9h0M502.1 1116.1h0M500.6 1090.4h0M505.2 1085.9h0M506.1 1103.1h0M504.5 1095.9h0M506.3 1105.6h0M508.2 1080.3h0M507.0 1117.3h0M508.6 1107.8h0M508.9 1120.9h0M509.5 1103.3h0M510.7 1088.3h0M511.2 1095.3h0M510.7 1092.1h0M515.3 1080.4h0M513.4 1099.7h0M513.3 1111.6h0M514.9 1083.5h0M518.5 1089.7h0M516.5 1097.3h0M516.3 1093.3h0M516.0 1101.5h0M519.3 1109.5h0M518.7 1084.8h0M520.8 1084.4h0M520.8 1124.6h0M523.3 1087.9h0M524.3 1114.5h0M523.8 1128.4h0M522.3 1128.0h0M525.8 1092.1h0M525.3 1100.5h0M526.4 1100.3h0M526.0 1129.6h0M529.5 1127.0h0M528.6 1124.4h0M530.3 1091.3h0M528.8 1086.6h0M532.8 1099.8h0M533.1 1118.1h0M533.4 1120.6h0M530.9 1117.3h0M535.5 1132.4h0M536.5 1135.1h0M535.7 1115.7h0M535.4 1132.9h0M538.9 1130.2h0M537.9 1137.0h0M539.1 1135.7h0M536.6 1099.0h0M541.7 1122.3h0M545.3 1128.8h0M547.9 1136.9h0M550.0 1136.4h0M554.3 1138.1h0M555.3 1120.3h0M562.3 1128.1h0M583.9 1134.7h0M607.2 1139.1h0M612.9 1146.8h0M633.6 1136.7h0M644.4 1143.0h0M651.1 1152.7h0M655.4 1149.8h0M667.4 1136.4h0M678.4 1145.8h0M683.7 1136.3h0M687.1 1147.8h0M694.5 1140.5h0M711.8 1162.1h0M716.5 1151.8h0M721.3 1142.5h0M726.0 1163.7h0M732.3 1145.3h0M740.4 1166.5h0M740.7 1156.4h0M750.3 1157.1h0M754.5 1168.8h0M772.2 1161.9h0M774.3 1158.1h0M776.9 1174.2h0M787.2 1169.1h0M160.1 1208.6h0M158.7 1194.2h0M159.2 1209.0h0M159.2 1226.0h0M159.2 1229.8h0M162.7 1218.5h0M163.8 1210.8h0M163.5 1205.2h0M162.9 1241.1h0M164.3 1220.0h0M162.0 1226.1h0M165.5 1202.9h0M166.4 1203.1h0M165.4 1218.4h0M167.3 1223.3h0M165.0 1209.4h0M165.5 1212.3h0M168.8 1237.6h0M167.6 1209.7h0M170.0 1208.0h0M168.0 1234.1h0M167.7 1232.8h0M170.8 1221.0h0M172.7 1242.6h0M171.0 1229.7h0M171.8 1238.3h0M170.8 1237.9h0M174.2 1213.6h0M174.1 1227.7h0M175.6 1215.6h0M174.5 1259.9h0M177.2 1244.3h0M178.6 1231.5h0M177.0 1232.8h0M178.1 1219.4h0M179.3 1261.6h0M181.0 1239.5h0M181.5 1227.4h0M181.9 1239.2h0M182.3 1230.9h0M180.9 1254.4h0M182.9 1241.3h0M184.6 1250.3h0M185.4 1245.4h0M184.6 1226.2h0M186.5 1230.1h0M187.2 1228.6h0M186.5 1254.1h0M186.6 1252.8h0M191.4 1237.5h0M188.5 1243.6h0M190.7 1231.8h0M190.4 1263.0h0M193.7 1265.3h0M192.6 1234.6h0M191.5 1255.8h0M192.6 1232.9h0M195.5 1273.5h0M196.9 1269.1h0M196.3 1266.9h0M196.4 1272.1h0M198.1 1255.1h0M198.9 1253.1h0M198.6 1246.0h0M201.2 1257.8h0M202.0 1245.4h0M201.8 1254.2h0M201.1 1261.2h0M205.8 1246.9h0M205.8 1264.7h0M204.2 1256.4h0M205.0 1275.5h0M207.7 1248.9h0M209.0 1266.5h0M208.7 1256.4h0M207.9 1246.2h0M210.6 1250.9h0M211.7 1270.0h0M210.2 1247.5h0M211.5 1271.4h0M214.6 1265.9h0M212.7 1251.2h0M212.6 1254.4h0M214.1 1281.6h0M217.9 1283.2h0M216.5 1250.9h0M217.9 1247.2h0M217.0 1271.9h0M220.0 1253.5h0M221.2 1271.9h0M221.1 1278.6h0M219.8 1259.9h0M222.1 1286.3h0M222.3 1251.0h0M224.1 1283.6h0M224.1 1256.9h0M225.1 1261.9h0M225.6 1277.4h0M227.2 1251.0h0M225.7 1262.4h0M227.6 1256.5h0M228.6 1261.6h0M228.6 1249.7h0M228.5 1278.1h0M231.1 1272.8h0M232.5 1250.8h0M231.4 1272.2h0M233.1 1255.7h0M235.3 1257.7h0M234.5 1271.7h0M234.5 1252.0h0M235.3 1274.9h0M237.1 1255.1h0M237.7 1261.6h0M239.2 1263.6h0M239.5 1254.9h0M240.2 1287.9h0M240.6 1274.5h0M241.9 1253.8h0M240.3 1285.5h0M240.9 1283.8h0M243.6 1255.1h0M244.4 1260.4h0M245.0 1285.1h0M243.7 1273.8h0M246.3 1257.3h0M246.8 1285.0h0M245.8 1298.0h0M246.1 1270.9h0M248.8 1258.0h0M249.8 1267.9h0M249.4 1274.1h0M250.0 1283.7h0M249.0 1298.8h0M252.6 1274.6h0M252.1 1293.4h0M252.6 1294.3h0M253.3 1267.6h0M254.8 1266.5h0M255.6 1300.1h0M256.5 1260.5h0M255.5 1277.6h0M258.5 1295.2h0M260.4 1273.3h0M258.7 1270.8h0M259.5 1263.0h0M258.8 1285.4h0M262.9 1266.6h0M263.0 1276.3h0M262.7 1272.5h0M261.2 1260.1h0M262.5 1303.2h0M264.9 1279.2h0M264.0 1266.1h0M265.6 1286.8h0M265.4 1268.5h0M265.3 1264.0h0M267.4 1280.8h0M266.9 1282.9h0M268.3 1279.5h0M267.4 1264.7h0M268.1 1289.7h0M271.2 1296.6h0M270.8 1268.7h0M271.2 1299.5h0M270.6 1295.0h0M272.4 1278.8h0M272.8 1290.6h0M272.6 1288.3h0M275.4 1307.1h0M273.3 1294.8h0M273.0 1301.7h0M275.5 1284.5h0M276.8 1305.7h0M277.6 1302.1h0M278.1 1285.1h0M278.2 1269.6h0M279.5 1264.6h0M278.7 1265.6h0M278.9 1291.2h0M279.4 1268.7h0M281.3 1273.6h0M284.5 1307.1h0M283.9 1282.2h0M284.3 1274.5h0M283.7 1303.4h0M281.8 1272.2h0M286.3 1289.2h0M284.9 1307.8h0M285.9 1297.7h0M285.9 1303.0h0M287.4 1271.7h0M290.0 1301.7h0M289.6 1274.6h0M288.2 1281.8h0M290.4 1273.3h0M289.0 1280.4h0M292.8 1267.3h0M293.1 1302.8h0M291.1 1280.7h0M292.7 1280.2h0M291.7 1297.5h0M296.3 1272.2h0M295.0 1287.6h0M294.1 1306.7h0M294.6 1302.5h0M293.8 1308.3h0M297.9 1298.1h0M298.2 1283.2h0M297.8 1275.4h0M298.9 1268.0h0M299.0 1277.1h0M298.3 1293.1h0M301.8 1272.1h0M302.1 1279.6h0M301.5 1308.9h0M300.8 1310.8h0M302.4 1301.5h0M303.7 1271.7h0M302.9 1292.3h0M305.1 1276.8h0M302.9 1285.3h0M304.2 1275.0h0M303.9 1275.3h0M307.0 1288.9h0M305.6 1314.7h0M306.1 1321.3h0M307.8 1270.1h0M307.1 1296.8h0M307.8 1277.2h0M309.2 1308.1h0M310.4 1297.9h0M309.9 1285.8h0M310.4 1271.4h0M309.0 1305.7h0M310.7 1296.5h0M314.1 1317.2h0M312.2 1271.4h0M312.3 1272.5h0M313.0 1272.6h0M312.4 1279.9h0M312.6 1291.8h0M314.8 1309.9h0M314.5 1279.1h0M314.8 1284.7h0M316.8 1308.1h0M315.1 1330.3h0M316.8 1271.3h0M318.7 1326.6h0M317.7 1284.4h0M319.0 1327.9h0M318.8 1292.0h0M320.0 1314.3h0M318.0 1294.2h0M321.7 1323.1h0M322.2 1306.4h0M322.2 1293.3h0M322.2 1280.9h0M320.7 1321.1h0M323.1 1287.7h0M325.4 1271.8h0M326.0 1304.3h0M323.9 1293.8h0M325.6 1284.0h0M324.1 1310.9h0M325.5 1305.0h0M327.8 1272.4h0M328.3 1285.5h0M326.9 1286.2h0M327.4 1306.7h0M327.4 1314.9h0M328.9 1298.5h0M329.7 1310.5h0M329.6 1325.0h0M330.6 1310.0h0M330.7 1278.4h0M330.7 1295.6h0M331.1 1275.9h0M333.6 1326.7h0M333.2 1291.6h0M333.5 1326.9h0M335.0 1304.6h0M334.8 1289.2h0M332.8 1283.2h0M338.1 1292.3h0M336.8 1279.6h0M336.3 1312.0h0M337.1 1277.4h0M338.3 1291.0h0M336.2 1321.2h0M338.6 1290.4h0M341.2 1292.0h0M340.3 1284.4h0M338.7 1308.2h0M338.8 1322.6h0M340.6 1284.4h0M341.9 1287.8h0M341.5 1293.1h0M342.2 1277.5h0M341.8 1275.0h0M343.1 1279.3h0M344.0 1276.9h0M345.2 1281.5h0M344.6 1313.9h0M344.8 1307.9h0M345.7 1320.7h0M347.1 1299.3h0M349.6 1274.2h0M349.7 1297.8h0M349.0 1282.3h0M348.8 1278.5h0M349.3 1282.4h0M352.4 1281.7h0M352.9 1274.7h0M351.2 1292.1h0M352.0 1275.6h0M352.7 1292.5h0M356.2 1287.3h0M356.4 1281.3h0M356.5 1312.6h0M354.3 1315.6h0M355.3 1308.1h0M358.4 1317.1h0M358.2 1306.5h0M359.1 1274.2h0M357.3 1277.2h0M357.1 1296.4h0M359.8 1300.1h0M359.8 1297.5h0M361.4 1288.7h0M359.6 1298.8h0M363.7 1311.5h0M363.6 1285.6h0M364.7 1297.9h0M363.7 1295.7h0M364.0 1292.0h0M368.4 1309.6h0M368.5 1300.8h0M368.0 1286.5h0M367.7 1277.9h0M371.0 1307.9h0M369.3 1304.9h0M369.9 1300.3h0M369.6 1279.8h0M374.0 1302.0h0M372.0 1293.9h0M373.2 1274.1h0M372.5 1275.8h0M376.7 1273.5h0M377.0 1275.6h0M377.0 1279.2h0M375.3 1278.3h0M378.8 1269.6h0M377.5 1280.3h0M378.6 1300.8h0M380.4 1269.5h0M380.6 1275.0h0M382.6 1270.6h0M382.0 1287.3h0M381.4 1274.8h0M386.5 1278.3h0M383.9 1299.7h0M383.6 1297.9h0M388.6 1295.1h0M388.9 1284.1h0M388.1 1270.5h0M390.1 1277.5h0M391.2 1289.6h0M391.4 1292.7h0M392.3 1285.1h0M393.5 1282.8h0M393.6 1298.2h0M393.5 1267.5h0M397.4 1297.2h0M398.3 1285.6h0M396.8 1290.4h0M399.5 1288.6h0M400.4 1265.8h0M399.2 1290.7h0M401.2 1285.4h0M403.0 1265.5h0M404.3 1271.4h0M402.8 1297.8h0M403.4 1288.9h0M405.0 1294.8h0M405.9 1263.2h0M405.9 1262.2h0M407.4 1272.8h0M409.8 1287.8h0M408.2 1277.6h0M409.0 1268.1h0M412.0 1278.3h0M412.3 1267.5h0M411.1 1292.1h0M413.8 1259.3h0M414.8 1259.9h0M415.6 1283.9h0M418.3 1282.2h0M416.5 1273.1h0M417.3 1266.9h0M421.1 1258.1h0M421.0 1265.4h0M419.8 1266.3h0M424.3 1277.4h0M424.3 1258.0h0M425.5 1279.9h0M428.1 1255.9h0M426.3 1271.4h0M431.2 1274.9h0M430.2 1258.8h0M433.8 1258.8h0M432.5 1267.0h0M434.3 1265.0h0M436.2 1274.2h0M434.6 1276.6h0M439.7 1262.5h0M439.4 1274.0h0M442.1 1263.1h0M443.3 1264.9h0M446.1 1255.0h0M445.9 1250.6h0M445.4 1250.2h0M447.6 1252.5h0M448.6 1252.3h0M450.5 1259.7h0M454.8 1268.2h0M457.0 1249.9h0M460.9 1251.1h0M463.8 1255.1h0M461.6 1265.1h0M467.3 1252.8h0M468.7 1260.8h0M470.3 1253.3h0M471.0 1247.7h0M471.4 1244.1h0M473.9 1252.4h0M476.9 1249.9h0M480.2 1256.7h0M483.2 1255.0h0M488.0 1255.1h0M487.8 1239.7h0M491.0 1248.4h0M494.0 1241.5h0M496.6 1240.4h0M499.2 1249.0h0M502.1 1237.7h0M506.2 1246.4h0M508.5 1242.7h0M511.8 1244.2h0M513.3 1232.5h0M517.9 1237.7h0M519.5 1230.8h0M521.7 1230.8h0M526.5 1229.1h0M529.5 1231.3h0M528.7 1247.5h0M531.5 1226.9h0M535.6 1245.3h0M535.1 1245.2h0M537.7 1227.1h0M541.7 1230.2h0M543.3 1231.0h0M549.6 1235.2h0M556.2 1233.9h0M558.3 1227.4h0M562.8 1235.7h0M566.5 1233.1h0M569.0 1231.2h0M569.9 1230.2h0M575.3 1243.0h0M577.0 1226.6h0M579.9 1230.1h0M590.9 1241.5h0M602.6 1234.8h0M612.1 1229.8h0M618.1 1221.0h0M627.2 1230.9h0M631.2 1219.7h0M641.7 1214.3h0M657.8 1215.9h0M661.3 1225.5h0M670.0 1214.2h0M681.0 1210.1h0M686.2 1220.0h0M687.8 1219.6h0M697.5 1208.8h0M704.0 1220.1h0M706.2 1207.3h0M712.0 1205.6h0M715.4 1214.4h0M717.2 1208.9h0M721.9 1204.6h0M730.3 1212.2h0M735.1 1205.8h0M750.2 1198.3h0M758.1 1199.8h0M766.6 1195.9h0M768.5 1201.5h0M160.9 1066.2h0M161.6 1066.4h0M162.6 1065.8h0M164.4 1064.7h0M165.6 1063.7h0M166.0 1063.1h0M168.0 1062.8h0M169.1 1062.2h0M170.1 1061.4h0M171.0 1060.4h0M172.1 1059.7h0M173.8 1058.8h0M174.5 1058.8h0M175.7 1057.5h0M177.1 1057.6h0M178.3 1056.7h0M179.8 1055.5h0M181.4 1054.5h0M181.9 1054.0h0M183.7 1053.1h0M184.3 1052.4h0M185.5 1052.0h0M186.8 1051.2h0M187.9 1051.0h0M189.1 1050.3h0M190.7 1049.4h0M192.0 1048.9h0M192.7 1047.7h0M194.2 1047.0h0M195.7 1046.2h0M196.2 1046.1h0M197.6 1045.4h0M198.6 1044.9h0M200.6 1043.7h0M200.8 1043.1h0M202.1 1042.7h0M204.0 1041.5h0M205.3 1040.8h0M206.4 1040.5h0M207.1 1039.8h0M208.3 1039.8h0M209.4 1038.6h0M210.5 1038.2h0M212.3 1037.2h0M213.8 1036.0h0M214.7 1035.5h0M215.6 1035.4h0M217.3 1034.2h0M218.1 1034.0h0M219.3 1032.4h0M220.1 1032.7h0M221.6 1032.2h0M223.4 1030.4h0M224.3 1030.3h0M225.7 1029.5h0M226.8 1028.6h0M228.1 1027.9h0M228.5 1028.1h0M229.8 1026.3h0M231.5 1026.2h0M232.4 1025.9h0M233.6 1024.2h0M234.5 1024.6h0M236.3 1022.8h0M237.3 1022.6h0M238.5 1022.3h0M240.1 1021.2h0M240.6 1020.5h0M242.2 1020.3h0M243.3 1019.8h0M244.0 1018.3h0M245.3 1017.7h0M247.3 1017.3h0M248.3 1017.0h0M249.1 1016.5h0M250.6 1015.8h0M251.4 1015.0h0M253.2 1015.2h0M253.8 1013.6h0M255.5 1013.8h0M256.5 1013.1h0M257.8 1012.7h0M258.9 1012.3h0M259.7 1011.4h0M261.2 1011.0h0M262.4 1010.3h0M264.2 1009.4h0M265.1 1009.3h0M266.2 1008.7h0M266.8 1008.8h0M268.3 1007.8h0M269.3 1007.8h0M270.6 1006.5h0M272.4 1006.2h0M273.0 1006.1h0M274.9 1004.7h0M276.2 1004.9h0M276.5 1003.6h0M277.7 1004.0h0M279.3 1003.5h0M280.6 1002.1h0M281.6 1001.7h0M283.1 1001.1h0M283.9 1001.1h0M285.2 1000.9h0M286.7 999.8h0M288.2 999.3h0M288.5 998.9h0M290.2 998.3h0M290.9 998.1h0M292.3 997.7h0M293.7 996.8h0M294.7 996.9h0M295.9 996.0h0M297.0 995.2h0M298.2 994.9h0M300.0 994.5h0M300.8 994.4h0M302.0 994.1h0M303.8 993.1h0M304.4 992.3h0M306.1 991.9h0M306.9 991.7h0M307.8 991.0h0M309.3 990.1h0M310.4 989.7h0M311.4 990.1h0M312.7 988.9h0M313.9 988.6h0M315.6 988.5h0M316.7 987.3h0M317.4 987.0h0M319.2 987.0h0M319.8 987.0h0M321.1 985.4h0M322.3 985.8h0M323.9 984.8h0M324.7 984.0h0M326.4 984.6h0M327.5 983.3h0M328.1 983.6h0M329.8 982.4h0M330.8 982.6h0M331.8 981.8h0M333.3 980.8h0M334.1 980.3h0M335.7 980.2h0M337.1 980.2h0M337.6 979.6h0M339.1 978.3h0M340.8 977.8h0M342.1 978.0h0M343.1 977.7h0M343.8 977.0h0M344.9 976.0h0M346.1 975.8h0M347.8 975.3h0M348.5 974.7h0M350.5 975.0h0M351.3 974.3h0M352.1 973.2h0M354.1 972.8h0M354.9 972.1h0M356.4 972.4h0M357.1 971.2h0M358.7 971.0h0M359.4 971.0h0M361.2 970.0h0M362.1 970.0h0M363.2 969.5h0M364.9 969.1h0M365.6 968.0h0M367.2 967.6h0M367.8 967.9h0M369.6 966.9h0M370.5 966.3h0M371.3 966.4h0M372.5 965.6h0M374.4 965.2h0M374.9 963.9h0M376.8 963.6h0M378.0 963.1h0M379.3 963.3h0M380.1 962.3h0M381.6 962.3h0M382.7 961.6h0M383.6 961.6h0M384.9 960.7h0M386.1 960.7h0M387.7 959.9h0M388.8 958.8h0M389.9 959.1h0M391.4 958.4h0M391.7 957.3h0M393.1 957.0h0M394.1 957.3h0M395.8 956.3h0M397.0 955.7h0M398.6 955.7h0M398.9 954.5h0M400.1 954.4h0M402.0 954.5h0M402.6 952.9h0M403.7 953.0h0M405.5 952.6h0M406.3 952.4h0M407.9 951.6h0M408.7 950.7h0M410.2 950.4h0M411.7 950.8h0M156.5 1290.8h0M157.9 1292.5h0M158.4 1292.5h0M160.2 1292.9h0M161.1 1294.6h0M162.3 1294.5h0M163.8 1296.0h0M164.9 1296.6h0M166.5 1296.6h0M167.8 1297.9h0M168.3 1298.0h0M169.5 1299.4h0M171.0 1300.6h0M172.5 1300.5h0M172.8 1301.4h0M174.3 1302.1h0M175.4 1303.3h0M176.5 1304.2h0M178.3 1304.3h0M178.9 1305.8h0M180.5 1306.3h0M182.1 1306.7h0M182.9 1308.0h0M184.3 1308.6h0M185.4 1309.3h0M186.9 1309.1h0M187.8 1310.0h0M188.8 1310.7h0M190.2 1311.8h0M190.9 1312.8h0M192.3 1313.7h0M194.1 1313.7h0M195.2 1314.9h0M195.6 1315.5h0M197.4 1316.9h0M198.1 1317.2h0M199.4 1317.7h0M200.7 1318.3h0M201.8 1319.1h0M203.1 1320.3h0M204.1 1320.9h0M206.1 1321.0h0M207.1 1322.0h0M208.2 1323.1h0M209.3 1323.7h0M210.4 1323.7h0M211.7 1325.2h0M213.0 1325.2h0M214.2 1326.4h0M215.5 1327.4h0M216.9 1327.3h0M218.1 1327.7h0M219.4 1328.2h0M220.1 1329.7h0M221.7 1330.3h0M222.1 1330.2h0M223.2 1331.4h0M224.6 1332.5h0M226.6 1332.6h0M227.3 1333.1h0M228.0 1333.8h0M230.1 1334.7h0M230.7 1335.5h0M231.7 1336.4h0M233.3 1336.6h0M235.0 1337.9h0M235.9 1338.3h0M236.4 1339.1h0M238.2 1339.1h0M239.7 1340.1h0M240.3 1340.5h0M242.2 1341.8h0M242.4 1341.9h0M244.3 1343.0h0M245.6 1342.8h0M246.1 1344.3h0M247.7 1344.1h0M248.5 1344.8h0M250.6 1345.5h0M251.6 1346.3h0M252.8 1347.4h0M253.3 1347.8h0M254.7 1347.9h0M255.7 1348.6h0M257.8 1349.2h0M258.5 1350.2h0M259.6 1350.7h0M261.3 1350.8h0M262.3 1351.7h0M263.4 1351.7h0M264.3 1352.4h0M265.9 1353.7h0M266.6 1354.3h0M268.2 1354.3h0M269.2 1355.0h0M270.9 1356.0h0M271.4 1356.2h0M272.5 1356.7h0M274.1 1358.0h0M275.4 1358.1h0M276.4 1357.9h0M278.0 1358.5h0M278.6 1359.7h0M279.6 1360.0h0M281.1 1360.3h0M282.0 1360.7h0M283.5 1361.4h0M284.7 1361.4h0M286.3 1362.5h0M287.0 1363.5h0M288.2 1363.9h0M289.3 1364.0h0M290.5 1364.3h0M292.3 1365.2h0M293.2 1365.0h0M294.8 1366.4h0M295.3 1366.8h0M296.7 1366.6h0M298.4 1367.9h0M299.7 1367.7h0M300.7 1368.2h0M301.3 1369.4h0M302.5 1369.2h0M304.2 1370.0h0M305.6 1370.2h0M306.2 1370.7h0M307.3 1371.3h0M309.1 1371.5h0M310.2 1372.6h0M310.9 1373.1h0M312.1 1373.8h0M313.8 1374.1h0M315.3 1374.4h0M316.1 1375.4h0M317.6 1375.6h0M318.6 1376.6h0M320.0 1376.2h0M320.8 1376.6h0M321.8 1377.6h0M323.2 1378.1h0M325.0 1378.9h0M325.5 1378.9h0M327.3 1379.1h0M327.6 1379.5h0M329.1 1379.5h0M330.1 1380.1h0M331.5 1380.9h0M332.8 1380.9h0M334.2 1382.3h0M335.2 1382.0h0M336.5 1383.0h0M337.3 1382.7h0M338.8 1383.4h0M340.0 1384.1h0M164.9 1254.7h0M167.1 1256.8h0M170.5 1257.2h0M173.1 1260.0h0M176.4 1261.5h0M179.2 1263.1h0M181.6 1266.2h0M184.1 1267.8h0M187.1 1269.7h0M190.3 1270.5h0M192.7 1273.5h0M196.0 1274.8h0M198.1 1276.7h0M200.9 1279.2h0M204.4 1279.9h0M206.8 1281.5h0M210.0 1283.8h0M212.5 1285.3h0M217.6 1287.8h0M220.5 1287.9h0M223.7 1289.7h0M226.0 1291.4h0M229.0 1292.8h0M240.3 1297.3h0M243.4 1299.3h0M246.0 1300.7h0M248.8 1300.8h0M251.6 1303.2h0M254.2 1305.0h0M257.3 1304.9h0M259.9 1307.7h0M263.2 1307.9h0M265.2 1309.1h0M268.9 1310.9h0M270.7 1312.6h0M273.6 1314.1h0M276.6 1315.9h0M279.2 1316.1h0M282.2 1318.3h0M290.4 1322.1h0M293.6 1323.6h0M296.0 1323.6h0M299.3 1325.4h0M301.5 1325.6h0M307.4 1329.4h0M310.7 1330.6h0M313.3 1330.4h0M316.1 1332.8h0M318.4 1333.1h0M754.6 1170.8h0M715.7 1201.3h0M724.9 1209.9h0M714.7 1187.9h0M725.9 1179.9h0M793.4 1187.3h0M747.0 1176.3h0M761.2 1166.8h0M721.1 1189.9h0M735.3 1189.5h0M716.2 1183.9h0M713.5 1199.3h0M724.8 1167.8h0M783.1 1194.4h0M703.1 1189.7h0M777.6 1189.2h0M732.8 1191.4h0M725.6 1200.5h0M747.4 1169.3h0M716.2 1153.8h0M746.0 1203.1h0M785.0 1184.0h0M718.3 1180.9h0M737.4 1161.5h0M711.6 1190.9h0M736.2 1207.4h0M704.0 1149.4h0M748.6 1190.5h0M701.3 1179.3h0M749.1 1168.3h0M783.4 1185.7h0M760.5 1202.7h0M753.8 1193.9h0M735.0 1197.9h0M707.6 1208.7h0M700.2 1152.9h0M789.4 1188.0h0M705.1 1187.2h0M722.7 1164.3h0M701.7 1194.2h0M783.4 1190.0h0M779.1 1186.1h0M737.8 1161.6h0M709.7 1213.9h0M783.1 1184.6h0M755.6 1192.2h0M717.8 1178.2h0M713.9 1162.9h0M755.1 1169.1h0M791.5 1179.4h0M720.3 1160.0h0M779.2 1190.5h0M760.1 1188.7h0M755.9 1184.9h0M759.3 1171.7h0M777.1 1186.6h0M760.9 1184.0h0M743.9 1164.0h0M701.4 1222.7h0M754.7 1168.2h0M718.4 1202.4h0M749.4 1193.0h0M775.1 1186.0h0M775.7 1177.8h0M725.3 1156.2h0M758.2 1183.8h0M780.4 1174.1h0M758.2 1185.5h0M716.4 1165.6h0M723.5 1212.6h0M791.3 1180.2h0M705.0 1175.9h0M738.7 1208.4h0M725.5 1168.8h0M702.1 1209.9h0M702.9 1214.9h0M727.8 1179.4h0M741.3 1204.3h0M722.2 1152.1h0M754.0 1189.0h0M703.3 1207.4h0M735.9 1203.4h0M752.7 1165.8h0M764.1 1170.9h0M791.1 1192.8h0M788.5 1189.8h0M773.9 1194.3h0M756.3 1172.7h0M722.1 1206.4h0M719.1 1205.6h0M702.5 1174.1h0M788.9 1181.9h0M777.5 1185.6h0M732.7 1181.2h0M717.9 1184.8h0M707.4 1160.6h0M770.9 1182.8h0M787.1 1174.8h0M701.7 1191.2h0M716.5 1178.1h0M732.2 1179.7h0M740.7 1171.3h0M711.0 1160.0h0M724.4 1192.9h0M757.2 1177.9h0M719.9 1179.9h0M742.0 1173.0h0M730.0 1193.3h0M734.3 1186.9h0M754.5 1181.9h0M705.5 1164.0h0M710.5 1192.5h0M783.8 1179.0h0M710.4 1159.2h0M746.6 1171.4h0M757.1 1181.3h0M755.0 1182.3h0M725.6 1206.2h0M753.1 1165.2h0M778.6 1181.4h0M739.9 1173.9h0M706.6 1195.1h0M789.6 1196.9h0M788.2 1190.7h0M706.7 1219.2h0M750.6 1188.9h0M731.2 1165.0h0M717.7 1157.3h0M746.2 1198.8h0M746.5 1172.6h0M712.4 1192.5h0M722.1 1160.1h0M740.9 1196.5h0M710.6 1169.4h0M714.2 1189.5h0M703.7 1196.7h0M705.6 1181.0h0M728.0 1186.5h0M739.1 1158.0h0M746.8 1178.0h0M710.7 1214.6h0M726.9 1189.2h0M711.7 1151.3h0M709.0 1186.3h0M700.7 1158.8h0M750.3 1206.2h0M740.8 1156.0h0M737.5 1197.1h0M775.2 1184.0h0M729.4 1160.5h0M713.2 1193.5h0M758.6 1189.1h0M788.9 1179.9h0M728.6 1207.8h0M766.9 1187.3h0M783.8 1199.0h0M723.2 1202.9h0M775.7 1193.1h0M728.4 1200.4h0M742.6 1197.0h0M700.3 1181.1h0M776.0 1170.5h0M713.7 1158.4h0M757.3 1180.6h0M744.0 1204.2h0M742.6 1182.2h0M758.6 1168.2h0M786.3 1191.1h0M724.6 1166.0h0M742.6 1204.4h0M710.5 1201.0h0M736.6 1198.5h0M723.0 1184.4h0M733.5 1171.9h0M728.1 1179.9h0M736.9 1193.1h0M755.6 1184.0h0M790.4 1180.2h0M790.0 1179.9h0M712.1 1158.3h0M740.3 1164.9h0M739.7 1170.0h0M783.4 1183.6h0M748.6 1167.4h0M754.0 1167.3h0M720.7 1198.1h0M784.0 1187.0h0M710.6 1197.8h0M702.6 1178.2h0M735.3 1202.7h0M764.7 1192.5h0M750.9 1179.0h0M741.7 1190.3h0M775.5 1175.7h0M776.8 1197.5h0M789.1 1172.3h0M711.8 1151.0h0M708.9 1195.1h0M706.3 1175.9h0M735.7 1175.3h0M737.9 1210.0h0M709.6 1214.4h0M745.2 1184.9h0M721.7 1170.1h0M750.4 1175.8h0M746.1 1195.4h0M776.6 1184.8h0M714.7 1194.5h0M762.1 1186.8h0M719.9 1194.3h0M752.3 1186.2h0M722.4 1182.2h0M765.3 1169.7h0M716.5 1188.0h0M712.2 1163.6h0M725.5 1206.6h0M717.2 1185.7h0M786.8 1187.3h0M740.5 1183.6h0M718.9 1208.5h0M703.1 1208.0h0M720.2 1197.6h0M780.7 1171.4h0M715.5 1202.9h0M735.2 1206.6h0M794.3 1194.3h0M763.7 1190.0h0M738.5 1184.1h0M716.6 1207.1h0M759.5 1191.3h0M746.1 1189.5h0M733.0 1203.9h0M735.4 1165.5h0M773.9 1168.5h0M770.8 1194.6h0M786.6 1181.9h0M789.0 1186.0h0M705.4 1154.9h0M705.1 1201.4h0M789.8 1188.2h0M760.9 1177.6h0M703.3 1208.0h0M746.9 1191.6h0M706.5 1170.6h0M745.0 1169.8h0M736.1 1165.4h0M733.6 1161.8h0M706.6 1201.4h0M721.2 1186.4h0M750.7 1178.3h0M716.5 1207.6h0M730.9 1173.4h0M780.7 1188.9h0M793.8 1189.4h0M776.9 1172.9h0M769.5 1194.1h0M702.6 1181.8h0M749.7 1179.8h0M742.4 1188.7h0M718.3 1172.4h0M796.0 1152.0h0M801.0 1163.5h0M804.5 1181.0h0M804.5 1195.0h0M811.0 1185.0h0M818.0 1193.0h0M821.6 1160.0h0M823.0 1186.0h0M826.7 1200.0h0M828.0 1164.0h0M826.7 1176.0h0M847.0 1166.0h0M850.6 1179.5h0M852.0 1188.0h0M859.0 1191.5h0M871.0 1181.0h0M872.7 1183.0h0M870.3 1200.0h0M893.0 1172.0h0M899.0 1177.0h0M909.6 1180.6h0M925.0 1182.0h0M947.0 1174.4h0M945.0 1182.0h0M977.0 1153.0h0M1005.7 1173.4h0M1009.0 1202.7h0M1062.0 1170.7h0M1069.4 1174.4h0M1068.4 1180.2h0M1071.8 1199.3h0M1087.5 1195.0h0M1069.0 1146.5h0M1099.0 1178.0h0M1108.6 1170.0h0M1113.0 1175.5h0M1125.0 1176.0h0M1130.0 1182.0h0M1131.8 1179.5h0M1188.4 1173.7h0M885.7 1216.0h0M742.5 1140.0h0M660.7 1136.0h0M641.6 1141.4h0M679.8 1146.0h0M552.0 1281.5h0M568.3 1288.0h0M583.4 1077.7h0M661.0 1136.0h0M743.0 1140.0h0M562.4 1103.6h0M541.0 1107.0h0M833.3 1390.0h0M565.5 893.2h0M526.8 907.8h0M778.3 911.1h0M778.0 1168.0h0M790.0 1158.0h0M760.0 1140.0h0M720.0 1135.0h0M700.0 1132.0h0M690.0 1225.0h0M650.0 1238.0h0M620.0 1240.0h0M585.0 1232.0h0M607.0 1238.0h0M720.0 1215.0h0M755.0 1208.0h0M783.0 1203.0h0M555.0 1092.0h0M530.0 1080.0h0M500.0 1075.0h0M565.0 1065.0h0M700.0 1128.0h0M740.0 1150.0h0M765.0 1160.0h0M587.8 1038.6h0M565.1 1050.0h0M553.7 1110.0h0M527.7 1119.8h0" stroke="#000" stroke-width="6" stroke-linecap="round" fill="none"/>
<path d="M156.5 1848.3L159.0 1840.8L161.5 1837.2L164.0 1831.2L166.5 1827.8L169.0 1826.0L171.5 1821.6L174.0 1818.5L176.5 1816.5L179.0 1814.4L181.5 1809.1L184.0 1808.8L186.5 1807.3L189.0 1805.9L191.5 1805.5L194.0 1802.1L196.5 1800.0L199.0 1798.1L201.5 1798.6L204.0 1795.3L206.5 1796.4L209.0 1793.1L211.5 1793.0L214.0 1792.1L216.5 1792.6L219.0 1790.1L221.5 1784.7L224.0 1784.1L226.5 1781.5L229.0 1782.6L231.5 1781.0L234.0 1776.4L236.5 1774.9L239.0 1775.6L241.5 1774.1L244.0 1772.4L246.5 1765.9L249.0 1765.0L251.5 1762.6L254.0 1763.0L256.5 1758.6L259.0 1759.3L261.5 1758.9L264.0 1754.8L266.5 1753.5L269.0 1750.8L271.5 1750.1L274.0 1750.6L276.5 1746.3L279.0 1746.5L281.5 1743.9L284.0 1741.5L286.5 1740.8L289.0 1739.0L291.5 1740.4L294.0 1741.1L296.5 1735.9L299.0 1735.5L301.5 1734.9L304.0 1734.1L306.5 1734.7L309.0 1733.8L311.5 1730.9L314.0 1732.6L316.5 1730.3L319.0 1728.5L321.5 1726.6L324.0 1726.5L326.5 1727.5L329.0 1725.8L331.5 1725.4L334.0 1723.8L336.5 1722.8L339.0 1723.3L341.5 1723.1L344.0 1720.9L346.5 1721.6L349.0 1721.2L351.5 1720.8L354.0 1720.4L356.5 1722.5L359.0 1722.8L361.5 1722.0L364.0 1720.7L366.5 1722.0L369.0 1722.1L371.5 1722.2L374.0 1724.3L376.5 1727.0L379.0 1726.1L381.5 1724.7L384.0 1727.4L386.5 1728.3L389.0 1729.4L391.5 1730.7L394.0 1731.1L396.5 1731.5L399.0 1732.2L401.5 1732.2L404.0 1732.9L406.5 1735.1L409.0 1734.1L411.5 1735.0L414.0 1738.5L416.5 1739.4L419.0 1741.0L421.5 1740.7L424.0 1739.9L426.5 1742.3L429.0 1745.7L431.5 1746.3L434.0 1748.2L436.5 1748.1L439.0 1746.9L441.5 1747.0L444.0 1747.8L446.5 1751.0L449.0 1753.4L451.5 1752.4L454.0 1753.8L456.5 1757.5L459.0 1757.9L461.5 1760.5L464.0 1757.6L466.5 1759.5L469.0 1761.3L471.5 1761.3L474.0 1764.3L476.5 1765.9L479.0 1769.4L481.5 1769.8L484.0 1773.1L486.5 1772.0L489.0 1775.5L491.5 1773.8L494.0 1775.5L496.5 1776.7L499.0 1777.9L501.5 1780.9L504.0 1782.9L506.5 1781.5L509.0 1784.5L511.5 1786.9L514.0 1788.3L516.5 1790.1L519.0 1792.4L521.5 1794.6L524.0 1794.7L526.5 1793.7L529.0 1795.0L531.5 1797.4L534.0 1799.2L536.5 1799.9L539.0 1801.1L541.5 1802.3L544.0 1802.5L546.5 1801.6L549.0 1802.0L551.5 1803.3L554.0 1805.1L556.5 1803.9L559.0 1806.9L561.5 1804.8L564.0 1806.2L566.5 1806.5L569.0 1806.0L571.5 1806.0L574.0 1807.6L576.5 1806.8L579.0 1807.4L581.5 1807.5L584.0 1809.0L586.5 1808.5L589.0 1809.4L591.5 1810.9L594.0 1810.6L596.5 1811.0L599.0 1808.6L601.5 1810.2L604.0 1810.2L606.5 1809.0L609.0 1811.6L611.5 1813.5L614.0 1811.5L616.5 1810.8L619.0 1810.1L621.5 1810.9L624.0 1813.6L626.5 1811.5L629.0 1813.6L631.5 1812.7L634.0 1811.9L636.5 1813.4L639.0 1814.7L641.5 1813.9L644.0 1815.5L646.5 1813.4L649.0 1815.1L651.5 1816.1L654.0 1818.5L656.5 1816.8L659.0 1817.1L661.5 1816.4L664.0 1819.8L666.5 1821.8L669.0 1817.5L671.5 1819.6L674.0 1820.1L676.5 1821.6L679.0 1821.5L681.5 1819.1L684.0 1820.0L686.5 1819.9L689.0 1821.9L691.5 1823.3L694.0 1824.6L696.5 1823.9L699.0 1824.5L701.5 1822.0L704.0 1824.3L706.5 1823.8L709.0 1825.7L711.5 1825.2L714.0 1826.1L716.5 1826.0L719.0 1827.7L721.5 1828.5L724.0 1828.5L726.5 1829.0L729.0 1832.1L731.5 1834.0L734.0 1837.0L736.5 1837.1L739.0 1835.6L741.5 1836.6L744.0 1839.9L744.0 1851.9L741.5 1852.1L739.0 1854.6L736.5 1855.3L734.0 1858.6L731.5 1858.6L729.0 1858.2L726.5 1859.0L724.0 1859.6L721.5 1861.3L719.0 1861.0L716.5 1862.6L714.0 1865.5L711.5 1866.4L709.0 1862.5L706.5 1865.1L704.0 1863.9L701.5 1866.1L699.0 1869.1L696.5 1869.9L694.0 1869.6L691.5 1869.2L689.0 1869.3L686.5 1867.1L684.0 1868.6L681.5 1868.8L679.0 1869.2L676.5 1869.4L674.0 1871.8L671.5 1870.1L669.0 1872.0L666.5 1871.6L664.0 1871.0L661.5 1872.4L659.0 1871.6L656.5 1870.8L654.0 1871.9L651.5 1873.5L649.0 1873.7L646.5 1871.8L644.0 1873.6L641.5 1874.4L639.0 1872.5L636.5 1873.6L634.0 1873.1L631.5 1872.8L629.0 1875.3L626.5 1876.3L624.0 1874.7L621.5 1875.0L619.0 1874.1L616.5 1874.3L614.0 1876.4L611.5 1873.2L609.0 1875.1L606.5 1874.7L604.0 1877.4L601.5 1876.9L599.0 1877.1L596.5 1877.9L594.0 1877.7L591.5 1877.8L589.0 1879.7L586.5 1875.6L584.0 1878.2L581.5 1879.3L579.0 1880.5L576.5 1878.2L574.0 1881.1L571.5 1880.4L569.0 1881.7L566.5 1881.4L564.0 1879.8L561.5 1881.3L559.0 1879.9L556.5 1881.8L554.0 1882.7L551.5 1882.5L549.0 1880.8L546.5 1883.1L544.0 1883.6L541.5 1883.5L539.0 1885.3L536.5 1885.5L534.0 1885.8L531.5 1887.8L529.0 1887.1L526.5 1888.0L524.0 1887.3L521.5 1887.8L519.0 1888.8L516.5 1892.0L514.0 1891.4L511.5 1891.4L509.0 1892.8L506.5 1895.1L504.0 1892.7L501.5 1895.7L499.0 1895.9L496.5 1896.8L494.0 1898.2L491.5 1898.5L489.0 1898.9L486.5 1899.0L484.0 1900.7L481.5 1901.1L479.0 1900.6L476.5 1901.3L474.0 1902.1L471.5 1904.1L469.0 1904.1L466.5 1902.3L464.0 1904.7L461.5 1903.8L459.0 1906.6L456.5 1905.3L454.0 1908.1L451.5 1907.8L449.0 1909.3L446.5 1911.0L444.0 1910.8L441.5 1909.3L439.0 1909.6L436.5 1912.2L434.0 1912.9L431.5 1915.1L429.0 1916.1L426.5 1915.6L424.0 1915.9L421.5 1914.4L419.0 1913.7L416.5 1915.7L414.0 1916.9L411.5 1918.8L409.0 1920.5L406.5 1921.8L404.0 1923.6L401.5 1924.1L399.0 1923.3L396.5 1924.9L394.0 1926.8L391.5 1927.6L389.0 1928.1L386.5 1926.3L384.0 1927.4L381.5 1926.2L379.0 1927.6L376.5 1926.2L374.0 1927.9L371.5 1927.6L369.0 1928.6L366.5 1929.7L364.0 1929.4L361.5 1930.3L359.0 1931.6L356.5 1932.0L354.0 1931.1L351.5 1930.0L349.0 1932.0L346.5 1932.5L344.0 1931.1L341.5 1930.9L339.0 1931.3L336.5 1931.3L334.0 1932.4L331.5 1932.3L329.0 1933.5L326.5 1931.4L324.0 1931.2L321.5 1930.5L319.0 1932.3L316.5 1929.6L314.0 1930.2L311.5 1928.3L309.0 1929.6L306.5 1927.7L304.0 1928.9L301.5 1926.9L299.0 1927.6L296.5 1927.8L294.0 1927.2L291.5 1925.6L289.0 1927.6L286.5 1926.4L284.0 1924.3L281.5 1925.0L279.0 1923.4L276.5 1923.3L274.0 1921.4L271.5 1922.6L269.0 1921.1L266.5 1917.2L264.0 1917.7L261.5 1918.8L259.0 1914.8L256.5 1915.2L254.0 1915.4L251.5 1915.1L249.0 1915.4L246.5 1911.9L244.0 1913.0L241.5 1913.2L239.0 1912.0L236.5 1912.1L234.0 1911.3L231.5 1911.2L229.0 1906.2L226.5 1907.0L224.0 1908.6L221.5 1907.5L219.0 1906.3L216.5 1905.9L214.0 1904.0L211.5 1900.8L209.0 1902.1L206.5 1899.4L204.0 1894.5L201.5 1894.4L199.0 1894.6L196.5 1892.7L194.0 1893.3L191.5 1890.7L189.0 1890.6L186.5 1884.6L184.0 1883.8L181.5 1883.3L179.0 1879.8L176.5 1875.0L174.0 1872.8L171.5 1867.7L169.0 1865.2L166.5 1860.3L164.0 1857.3L161.5 1852.2L159.0 1850.6L156.5 1850.0Z" fill="#000"/>
<path d="M157.6 1841.5h0M158.3 1852.5h0M158.1 1840.4h0M157.1 1855.0h0M159.5 1834.8h0M159.5 1855.3h0M160.2 1830.1h0M159.6 1856.0h0M163.1 1821.2h0M163.0 1859.7h0M163.8 1832.8h0M163.5 1859.1h0M164.5 1828.4h0M164.8 1867.2h0M164.6 1825.4h0M165.5 1862.3h0M167.7 1824.6h0M166.7 1864.1h0M168.0 1822.6h0M167.2 1866.7h0M169.9 1820.7h0M170.6 1871.4h0M169.5 1818.7h0M170.1 1874.9h0M172.9 1818.2h0M173.4 1870.7h0M172.2 1813.9h0M171.7 1872.9h0M173.9 1812.7h0M175.3 1877.2h0M175.6 1815.6h0M175.2 1877.4h0M177.4 1812.1h0M177.9 1888.9h0M177.1 1810.2h0M176.3 1882.2h0M179.9 1792.2h0M180.2 1882.3h0M179.4 1807.6h0M178.6 1883.4h0M181.3 1809.0h0M181.1 1890.3h0M181.3 1808.4h0M181.8 1892.7h0M183.6 1805.3h0M184.5 1894.9h0M185.0 1799.7h0M184.0 1888.4h0M186.5 1797.6h0M187.7 1888.8h0M186.2 1805.2h0M186.3 1890.8h0M189.4 1803.6h0M188.2 1892.1h0M188.9 1801.4h0M190.1 1894.6h0M191.6 1799.5h0M192.0 1891.9h0M192.4 1797.3h0M192.3 1898.1h0M193.8 1799.8h0M193.2 1897.5h0M193.1 1801.6h0M193.4 1894.2h0M196.1 1800.2h0M195.4 1896.0h0M195.6 1798.6h0M195.5 1903.6h0M199.0 1798.5h0M198.3 1898.6h0M198.5 1798.6h0M199.5 1916.8h0M201.1 1795.1h0M200.4 1898.5h0M200.9 1796.6h0M201.9 1898.8h0M202.6 1784.4h0M203.7 1899.9h0M203.7 1796.4h0M203.7 1914.6h0M206.7 1790.4h0M205.5 1902.2h0M205.3 1789.2h0M206.1 1906.4h0M208.1 1792.8h0M209.0 1918.4h0M209.1 1787.3h0M209.0 1907.0h0M210.3 1789.6h0M210.5 1902.9h0M209.9 1791.2h0M210.3 1907.5h0M214.1 1788.8h0M214.1 1921.6h0M214.1 1789.3h0M212.6 1904.9h0M215.0 1788.7h0M215.8 1914.2h0M216.3 1787.0h0M215.9 1911.4h0M217.2 1783.6h0M218.8 1912.0h0M218.5 1785.4h0M217.4 1912.1h0M220.1 1779.8h0M221.3 1908.8h0M220.2 1774.5h0M220.8 1907.6h0M222.1 1783.9h0M223.6 1914.3h0M222.1 1777.6h0M223.8 1912.0h0M224.9 1779.7h0M224.5 1908.7h0M226.1 1778.7h0M225.3 1919.5h0M227.5 1773.0h0M228.3 1910.5h0M227.1 1779.8h0M227.1 1913.1h0M229.5 1777.3h0M229.3 1920.1h0M229.7 1777.0h0M230.2 1919.9h0M232.2 1767.7h0M232.4 1914.2h0M232.4 1777.6h0M232.3 1912.0h0M233.8 1769.4h0M234.1 1914.5h0M235.3 1772.6h0M234.5 1914.8h0M237.3 1767.9h0M236.4 1915.9h0M236.7 1772.7h0M237.7 1915.5h0M239.7 1766.5h0M240.4 1915.7h0M239.8 1769.3h0M239.6 1918.0h0M241.9 1767.3h0M242.0 1925.4h0M242.4 1762.0h0M242.9 1915.2h0M244.5 1757.0h0M245.1 1915.3h0M243.6 1766.2h0M243.5 1915.8h0M245.9 1762.2h0M247.4 1924.5h0M246.1 1761.6h0M247.1 1916.1h0M250.0 1751.1h0M248.6 1928.4h0M249.0 1762.2h0M250.2 1923.3h0M250.9 1760.8h0M251.6 1918.6h0M251.0 1761.5h0M252.0 1917.0h0M254.1 1758.9h0M253.0 1919.3h0M254.2 1758.4h0M253.1 1934.5h0M257.0 1745.2h0M255.6 1919.7h0M255.5 1753.4h0M255.9 1919.0h0M258.6 1748.0h0M259.4 1920.4h0M258.1 1747.6h0M258.9 1924.0h0M260.4 1755.6h0M261.6 1922.2h0M260.3 1744.7h0M261.5 1926.4h0M262.8 1746.4h0M262.7 1928.6h0M263.5 1752.5h0M263.7 1931.1h0M265.5 1752.1h0M266.1 1922.3h0M265.2 1752.0h0M265.1 1922.1h0M268.0 1749.8h0M268.9 1923.2h0M268.4 1750.4h0M268.1 1921.9h0M270.3 1749.7h0M271.3 1925.6h0M270.2 1747.2h0M271.7 1922.9h0M273.8 1746.0h0M273.2 1930.2h0M273.0 1745.5h0M273.6 1939.2h0M275.3 1739.7h0M276.0 1927.6h0M275.4 1745.1h0M274.7 1924.1h0M277.1 1740.0h0M277.5 1924.9h0M277.2 1738.0h0M278.7 1928.6h0M280.0 1742.9h0M280.0 1927.2h0M279.7 1741.7h0M279.9 1937.8h0M283.7 1739.7h0M282.3 1938.7h0M282.4 1741.1h0M281.8 1927.2h0M285.1 1738.9h0M284.6 1928.6h0M284.2 1740.5h0M284.4 1927.8h0M286.7 1740.5h0M287.2 1927.4h0M287.8 1737.5h0M288.1 1930.6h0M290.4 1730.9h0M289.8 1928.5h0M291.0 1738.7h0M290.4 1931.0h0M291.5 1731.0h0M293.2 1931.4h0M292.9 1731.5h0M291.7 1930.4h0M294.8 1729.9h0M295.4 1935.0h0M295.0 1728.1h0M295.2 1932.7h0M296.7 1735.9h0M296.5 1930.1h0M296.4 1728.8h0M297.3 1932.3h0M299.9 1730.6h0M299.6 1928.7h0M300.2 1729.6h0M299.6 1931.7h0M302.3 1733.9h0M302.5 1930.2h0M301.1 1733.0h0M302.5 1930.0h0M304.9 1718.4h0M304.4 1931.3h0M304.4 1728.7h0M304.9 1933.2h0M307.1 1732.1h0M306.1 1930.9h0M307.3 1730.9h0M306.9 1929.8h0M308.3 1730.2h0M309.5 1934.8h0M309.6 1730.1h0M309.2 1932.6h0M311.5 1730.1h0M312.4 1931.4h0M312.6 1719.6h0M310.6 1932.9h0M314.6 1716.0h0M313.9 1932.0h0M313.4 1718.2h0M313.4 1934.3h0M315.7 1726.1h0M317.3 1931.6h0M317.0 1726.2h0M317.2 1935.9h0M318.3 1719.2h0M318.8 1931.5h0M317.8 1725.6h0M318.7 1932.8h0M320.5 1725.9h0M320.8 1939.0h0M320.2 1722.0h0M321.9 1932.2h0M324.5 1721.9h0M324.4 1933.3h0M323.3 1724.9h0M324.6 1935.5h0M325.7 1723.9h0M325.6 1932.5h0M325.2 1718.9h0M325.6 1943.2h0M327.9 1724.2h0M328.4 1933.4h0M328.1 1712.9h0M329.2 1939.2h0M331.1 1715.0h0M331.7 1935.9h0M331.2 1724.6h0M331.3 1935.1h0M333.7 1720.1h0M332.8 1933.0h0M334.1 1723.7h0M333.1 1934.5h0M335.2 1718.3h0M336.6 1934.2h0M335.9 1722.2h0M335.7 1935.0h0M337.3 1722.3h0M337.4 1942.6h0M338.0 1722.1h0M338.8 1955.7h0M340.3 1721.9h0M339.8 1933.6h0M340.1 1722.1h0M339.9 1934.5h0M342.9 1713.1h0M343.3 1935.5h0M342.6 1718.9h0M342.6 1935.1h0M344.3 1720.1h0M346.1 1934.0h0M345.2 1717.5h0M345.9 1934.4h0M347.1 1720.1h0M347.4 1935.8h0M348.5 1713.7h0M348.3 1933.5h0M349.1 1716.2h0M350.8 1935.9h0M350.2 1721.1h0M349.8 1943.8h0M353.1 1713.2h0M353.3 1934.4h0M351.6 1720.3h0M352.4 1937.8h0M355.7 1715.7h0M355.1 1939.0h0M354.7 1717.6h0M353.9 1939.3h0M356.7 1710.6h0M357.5 1934.5h0M356.5 1719.5h0M357.5 1937.9h0M358.8 1720.2h0M359.6 1936.5h0M359.4 1719.5h0M359.8 1933.1h0M361.6 1718.4h0M362.9 1936.8h0M362.8 1718.3h0M361.5 1933.8h0M365.3 1716.5h0M364.0 1932.4h0M364.4 1716.9h0M364.2 1933.5h0M367.1 1711.5h0M366.3 1932.1h0M366.5 1719.7h0M367.2 1932.9h0M369.8 1716.9h0M369.2 1932.5h0M370.1 1720.8h0M369.8 1932.7h0M371.0 1717.1h0M371.2 1943.4h0M371.6 1721.9h0M371.0 1933.4h0M374.3 1711.4h0M373.3 1932.9h0M373.4 1708.6h0M373.3 1931.1h0M375.5 1721.7h0M377.2 1939.2h0M376.9 1699.7h0M377.3 1932.2h0M378.2 1713.4h0M379.3 1930.1h0M379.1 1722.5h0M378.5 1931.6h0M380.5 1725.1h0M380.8 1931.1h0M382.1 1724.5h0M382.1 1930.3h0M383.3 1718.9h0M384.2 1931.1h0M382.7 1723.2h0M383.3 1938.9h0M385.4 1724.7h0M386.8 1928.4h0M385.8 1719.8h0M386.5 1928.4h0M387.5 1726.9h0M389.2 1928.8h0M388.9 1718.0h0M388.1 1928.9h0M391.7 1724.0h0M390.3 1932.1h0M390.4 1726.6h0M389.8 1932.7h0M394.0 1724.6h0M394.1 1926.5h0M392.7 1726.0h0M394.1 1938.7h0M395.4 1728.3h0M395.5 1928.4h0M396.5 1728.7h0M396.2 1931.1h0M398.6 1724.4h0M398.2 1926.5h0M397.6 1728.6h0M398.6 1925.3h0M399.8 1725.6h0M399.9 1924.5h0M399.5 1728.0h0M400.1 1939.9h0M403.6 1714.5h0M402.3 1923.8h0M402.0 1729.4h0M403.2 1925.8h0M404.7 1730.9h0M405.4 1927.2h0M405.7 1725.5h0M405.5 1923.3h0M408.3 1732.5h0M407.7 1923.9h0M408.1 1733.0h0M407.1 1923.1h0M409.3 1726.2h0M410.2 1922.8h0M409.8 1715.3h0M410.0 1922.3h0M413.0 1731.5h0M413.4 1920.9h0M412.3 1728.9h0M413.1 1930.3h0M413.9 1735.2h0M414.0 1920.6h0M415.7 1733.1h0M415.7 1921.6h0M417.9 1735.2h0M416.7 1925.0h0M418.1 1737.1h0M417.4 1922.8h0M419.0 1736.6h0M418.9 1919.1h0M419.1 1734.8h0M419.9 1919.1h0M421.0 1737.8h0M422.4 1918.3h0M421.6 1738.5h0M422.6 1920.6h0M423.5 1739.8h0M424.2 1919.9h0M424.7 1739.9h0M423.7 1921.4h0M426.6 1739.9h0M426.4 1928.2h0M426.4 1737.9h0M426.5 1918.1h0M429.9 1719.5h0M428.9 1916.1h0M429.7 1741.3h0M428.2 1924.5h0M431.4 1736.4h0M431.4 1923.1h0M431.5 1742.6h0M430.6 1917.7h0M434.3 1734.6h0M433.2 1917.7h0M433.7 1741.5h0M433.3 1915.1h0M436.4 1734.9h0M435.6 1915.8h0M437.0 1731.6h0M435.8 1913.6h0M439.7 1731.4h0M438.8 1912.6h0M439.7 1744.3h0M439.6 1916.2h0M441.8 1746.6h0M441.8 1912.7h0M441.0 1739.8h0M441.9 1912.5h0M443.0 1746.4h0M443.6 1912.9h0M442.8 1747.3h0M444.0 1920.0h0M445.1 1746.3h0M446.5 1910.3h0M446.7 1749.1h0M446.2 1913.4h0M448.7 1749.3h0M448.2 1912.9h0M448.3 1746.5h0M448.3 1911.8h0M449.8 1748.1h0M450.8 1909.8h0M451.3 1745.9h0M450.7 1909.5h0M453.1 1752.7h0M452.5 1910.2h0M452.4 1750.8h0M453.2 1908.1h0M455.9 1754.0h0M456.1 1913.2h0M455.6 1754.1h0M455.6 1909.1h0M458.9 1754.9h0M458.7 1928.7h0M458.5 1748.8h0M457.4 1922.5h0M460.4 1744.1h0M461.2 1906.6h0M461.0 1746.0h0M459.5 1907.6h0M463.3 1757.2h0M463.6 1906.6h0M463.4 1757.3h0M462.8 1915.4h0M464.6 1757.9h0M465.2 1906.2h0M464.3 1758.3h0M464.5 1915.7h0M468.0 1751.3h0M466.9 1910.2h0M466.8 1757.3h0M467.9 1905.9h0M470.7 1758.3h0M470.2 1912.1h0M469.2 1741.7h0M470.3 1905.5h0M473.0 1761.5h0M473.4 1906.3h0M472.1 1756.9h0M472.3 1903.7h0M475.3 1763.8h0M475.4 1903.5h0M475.1 1747.4h0M475.0 1906.7h0M476.8 1765.3h0M476.3 1902.3h0M477.4 1763.0h0M477.2 1910.7h0M478.9 1765.6h0M479.9 1901.2h0M478.6 1764.9h0M478.8 1902.9h0M481.4 1764.5h0M482.2 1901.4h0M482.2 1765.4h0M481.3 1911.5h0M483.9 1768.7h0M483.6 1904.0h0M485.1 1763.3h0M484.2 1901.1h0M485.8 1766.6h0M486.9 1901.0h0M487.1 1768.4h0M487.7 1904.6h0M488.7 1762.7h0M488.3 1901.7h0M489.0 1771.0h0M488.3 1904.7h0M490.6 1770.3h0M492.5 1898.7h0M491.0 1769.7h0M491.6 1902.2h0M494.6 1774.1h0M493.6 1899.0h0M493.1 1766.1h0M494.6 1902.6h0M495.4 1768.9h0M496.9 1899.5h0M496.9 1773.9h0M495.9 1897.4h0M498.3 1777.6h0M498.5 1901.9h0M499.2 1770.3h0M499.2 1897.6h0M501.3 1777.0h0M501.8 1898.8h0M500.7 1775.1h0M502.1 1896.8h0M504.4 1780.6h0M503.1 1896.3h0M504.1 1769.1h0M504.1 1896.8h0M506.8 1780.5h0M505.5 1904.2h0M506.3 1777.4h0M506.3 1910.1h0M508.3 1776.3h0M508.8 1901.7h0M508.3 1778.5h0M508.5 1895.4h0M510.2 1781.3h0M510.0 1902.8h0M510.1 1785.1h0M510.0 1903.7h0M512.9 1786.2h0M512.3 1892.5h0M513.6 1782.8h0M513.6 1897.7h0M514.7 1784.8h0M515.3 1898.4h0M516.2 1779.5h0M514.7 1899.7h0M518.8 1778.3h0M517.2 1891.7h0M517.2 1789.8h0M518.7 1897.5h0M520.7 1784.5h0M520.7 1891.4h0M519.6 1791.0h0M520.9 1890.9h0M522.4 1790.7h0M521.8 1890.5h0M522.4 1787.8h0M522.5 1890.9h0M526.1 1791.2h0M525.9 1892.6h0M524.3 1791.9h0M525.1 1894.7h0M527.3 1790.3h0M527.7 1889.2h0M528.3 1794.8h0M528.2 1888.9h0M529.0 1795.4h0M530.5 1902.9h0M529.0 1793.6h0M530.0 1894.0h0M531.8 1794.7h0M532.1 1894.2h0M531.9 1785.9h0M532.0 1888.0h0M535.2 1795.8h0M534.0 1890.5h0M534.0 1792.3h0M535.2 1892.7h0M537.5 1797.9h0M537.0 1887.9h0M538.0 1799.3h0M538.0 1886.0h0M539.0 1799.4h0M540.4 1888.2h0M539.4 1792.0h0M539.1 1887.9h0M542.1 1795.6h0M542.5 1889.1h0M541.7 1799.7h0M541.3 1892.3h0M544.7 1796.4h0M543.7 1886.8h0M544.9 1798.4h0M543.7 1887.0h0M547.6 1801.4h0M546.2 1885.5h0M547.2 1795.0h0M546.1 1884.7h0M548.7 1801.5h0M549.2 1884.3h0M548.9 1802.2h0M550.2 1888.8h0M550.8 1790.5h0M550.8 1885.1h0M552.6 1797.3h0M552.1 1885.4h0M553.4 1800.2h0M553.2 1883.6h0M553.8 1804.1h0M553.8 1888.9h0M556.8 1801.9h0M556.7 1884.8h0M555.7 1801.0h0M556.2 1887.7h0M559.6 1802.7h0M558.9 1887.6h0M558.6 1803.9h0M559.2 1890.5h0M561.7 1800.4h0M561.9 1886.3h0M561.5 1802.8h0M560.8 1885.7h0M562.8 1803.4h0M564.2 1886.5h0M563.9 1804.4h0M563.4 1883.9h0M566.2 1803.7h0M566.4 1891.8h0M565.4 1801.6h0M566.6 1883.1h0M568.4 1791.4h0M567.5 1884.0h0M567.7 1800.0h0M569.3 1883.8h0M570.0 1803.0h0M570.9 1885.6h0M570.8 1802.3h0M571.5 1883.5h0M573.0 1794.8h0M572.6 1885.0h0M573.0 1800.9h0M572.4 1897.0h0M575.3 1806.6h0M575.1 1882.2h0M574.6 1804.7h0M575.4 1884.9h0M577.7 1805.9h0M577.4 1885.3h0M578.9 1804.1h0M577.4 1886.4h0M580.2 1806.4h0M579.7 1885.7h0M581.0 1803.3h0M580.3 1883.0h0M582.3 1794.2h0M582.5 1883.5h0M583.4 1800.7h0M582.7 1880.9h0M585.3 1807.2h0M585.9 1881.0h0M585.9 1806.5h0M585.0 1880.4h0M587.5 1807.1h0M586.6 1884.2h0M587.2 1806.8h0M587.2 1881.6h0M589.9 1804.1h0M590.3 1880.6h0M590.9 1800.5h0M589.1 1885.9h0M593.2 1802.3h0M591.7 1885.7h0M592.7 1808.4h0M591.4 1890.7h0M595.1 1807.5h0M594.0 1879.0h0M594.3 1802.6h0M594.5 1879.0h0M598.0 1802.6h0M596.5 1887.0h0M597.4 1802.8h0M597.5 1887.1h0M600.2 1801.8h0M599.0 1882.6h0M599.7 1803.7h0M599.5 1886.5h0M602.1 1808.1h0M601.5 1878.3h0M602.0 1809.1h0M601.9 1878.3h0M604.4 1806.8h0M604.5 1885.4h0M603.4 1802.2h0M604.3 1880.8h0M607.1 1802.4h0M606.5 1879.4h0M607.7 1809.4h0M607.1 1881.3h0M608.3 1806.2h0M609.6 1887.7h0M608.9 1794.0h0M609.2 1879.7h0M612.4 1810.1h0M612.0 1880.7h0M611.3 1802.3h0M611.3 1879.4h0M614.1 1804.5h0M613.4 1878.9h0M613.8 1807.2h0M614.7 1878.0h0M617.1 1808.6h0M616.4 1877.6h0M616.4 1795.9h0M616.7 1882.6h0M618.5 1809.3h0M618.4 1879.7h0M619.1 1804.7h0M617.9 1881.3h0M622.0 1807.9h0M620.3 1877.3h0M620.2 1810.2h0M622.0 1879.7h0M623.9 1805.1h0M624.4 1879.5h0M623.8 1807.4h0M624.0 1879.3h0M626.4 1810.6h0M626.3 1877.9h0M626.5 1811.1h0M625.4 1875.6h0M628.9 1801.9h0M628.7 1877.1h0M629.0 1805.6h0M628.5 1876.4h0M630.4 1809.8h0M630.4 1877.3h0M631.1 1801.1h0M629.9 1878.4h0M632.3 1811.7h0M633.8 1878.2h0M634.0 1809.8h0M632.2 1876.8h0M635.8 1801.3h0M636.6 1877.2h0M635.4 1812.0h0M635.9 1875.5h0M637.3 1812.7h0M637.0 1879.0h0M637.2 1799.2h0M637.2 1882.5h0M639.7 1813.1h0M640.8 1875.2h0M640.9 1812.4h0M639.5 1880.1h0M643.2 1805.9h0M643.3 1874.3h0M643.1 1808.7h0M642.7 1884.7h0M644.7 1800.8h0M645.6 1873.7h0M644.2 1809.9h0M645.8 1874.0h0M647.2 1809.3h0M646.9 1881.4h0M647.6 1814.3h0M647.3 1876.9h0M649.9 1810.5h0M649.3 1879.6h0M649.7 1810.9h0M650.3 1875.4h0M652.2 1809.3h0M653.3 1879.2h0M652.5 1814.1h0M651.5 1887.6h0M655.2 1808.9h0M654.5 1876.5h0M655.8 1808.8h0M655.0 1874.3h0M657.1 1807.6h0M657.0 1877.2h0M657.4 1807.3h0M657.8 1873.9h0M658.6 1815.5h0M659.4 1875.9h0M660.2 1808.0h0M658.7 1879.5h0M662.6 1809.1h0M662.1 1873.4h0M662.7 1810.6h0M662.4 1881.9h0M664.1 1817.3h0M664.5 1878.3h0M663.8 1812.1h0M665.3 1873.0h0M667.0 1813.6h0M666.7 1872.6h0M666.3 1812.5h0M667.4 1874.2h0M668.4 1812.0h0M669.7 1872.5h0M669.4 1809.4h0M670.0 1874.4h0M671.6 1815.3h0M671.0 1872.1h0M671.0 1814.0h0M671.3 1874.6h0M673.8 1816.2h0M673.3 1871.2h0M675.0 1817.2h0M673.2 1875.0h0M677.0 1818.7h0M676.6 1872.5h0M676.4 1819.3h0M675.5 1889.4h0M679.5 1817.0h0M678.9 1871.8h0M679.4 1817.5h0M679.7 1876.4h0M681.8 1806.7h0M680.7 1870.5h0M680.6 1819.2h0M680.4 1870.6h0M683.7 1812.1h0M683.5 1881.9h0M684.4 1820.0h0M683.8 1872.2h0M685.2 1807.8h0M685.5 1873.3h0M686.3 1808.0h0M686.3 1871.9h0M688.3 1820.2h0M689.3 1888.9h0M687.8 1820.7h0M687.9 1871.4h0M691.6 1811.7h0M691.5 1869.7h0M691.4 1816.2h0M691.1 1886.4h0M692.3 1820.8h0M693.7 1880.5h0M693.6 1820.0h0M693.4 1874.9h0M694.8 1820.2h0M695.1 1869.6h0M695.6 1821.0h0M695.1 1869.7h0M698.4 1822.0h0M698.4 1869.7h0M697.1 1811.5h0M697.4 1879.7h0M701.1 1813.5h0M699.7 1871.0h0M699.6 1811.7h0M701.1 1872.6h0M702.7 1821.0h0M703.4 1870.8h0M703.1 1822.1h0M702.2 1868.4h0M705.6 1820.1h0M704.5 1875.7h0M704.7 1821.2h0M704.5 1868.8h0M708.3 1822.3h0M706.9 1869.6h0M707.2 1814.6h0M706.8 1882.3h0M709.1 1815.6h0M710.3 1867.3h0M710.0 1823.2h0M709.5 1867.2h0M712.1 1806.4h0M713.4 1876.1h0M711.6 1823.8h0M713.2 1866.0h0M715.3 1824.4h0M715.8 1865.2h0M715.4 1824.2h0M714.1 1865.1h0M717.9 1823.5h0M716.6 1866.8h0M718.0 1825.5h0M717.3 1865.1h0M719.0 1821.2h0M720.0 1864.8h0M718.8 1826.7h0M719.8 1866.6h0M721.5 1826.8h0M722.2 1868.2h0M722.6 1824.2h0M721.4 1863.5h0M724.9 1826.2h0M724.8 1862.9h0M725.0 1826.7h0M725.1 1870.6h0M726.8 1829.3h0M727.6 1864.4h0M727.5 1828.2h0M726.2 1868.9h0M728.9 1829.9h0M728.9 1864.4h0M728.2 1827.7h0M729.1 1863.7h0M730.8 1826.8h0M732.2 1867.9h0M731.2 1826.8h0M731.4 1865.4h0M733.1 1824.8h0M734.9 1861.6h0M734.0 1830.0h0M734.1 1859.0h0M737.3 1833.2h0M735.8 1858.4h0M735.9 1827.4h0M735.5 1858.3h0M739.2 1834.5h0M737.8 1860.6h0M739.0 1832.4h0M739.2 1857.4h0M741.9 1831.5h0M740.3 1856.5h0M741.2 1833.8h0M740.8 1856.5h0M743.4 1837.2h0M743.8 1863.0h0M742.9 1834.4h0M744.1 1855.8h0M183.5 1749.5h0M213.3 1732.4h0M219.5 1729.4h0M227.3 1724.1h0M248.4 1713.6h0M268.1 1705.4h0M284.7 1697.3h0M291.3 1693.4h0M297.7 1691.5h0M316.8 1684.7h0M323.7 1681.2h0M330.2 1679.0h0M340.7 1674.7h0M362.3 1665.0h0M371.1 1662.0h0M378.0 1658.9h0M402.7 1650.9h0M410.7 1648.3h0M163.4 1776.3h0M171.5 1771.5h0M185.8 1763.4h0M215.7 1746.2h0M234.2 1737.1h0M242.1 1731.2h0M255.3 1724.1h0M271.7 1717.9h0M281.0 1713.7h0M295.1 1708.2h0M310.5 1701.4h0M317.4 1698.8h0M326.2 1696.0h0M333.4 1691.7h0M338.8 1690.8h0M360.2 1682.6h0M366.1 1679.2h0M374.2 1675.2h0M390.5 1669.1h0M395.8 1668.1h0M409.5 1662.1h0M200.4 1768.8h0M213.5 1761.0h0M219.4 1756.8h0M227.8 1751.9h0M234.7 1748.1h0M260.3 1735.2h0M267.2 1734.3h0M272.9 1729.5h0M288.8 1723.3h0M294.5 1722.1h0M307.9 1716.0h0M315.3 1712.0h0M321.1 1710.9h0M326.8 1707.9h0M334.1 1704.8h0M353.8 1697.1h0M361.4 1694.2h0M374.7 1689.2h0M388.7 1682.3h0M395.1 1680.7h0M410.1 1675.8h0M418.5 1672.1h0M426.6 1669.0h0M165.9 1798.8h0M209.9 1775.6h0M215.2 1772.3h0M242.0 1756.1h0M248.8 1752.6h0M260.6 1747.1h0M270.0 1743.6h0M275.5 1741.6h0M282.4 1738.9h0M297.6 1730.9h0M303.2 1728.4h0M311.2 1726.2h0M317.7 1723.2h0M335.9 1715.6h0M342.4 1714.4h0M356.4 1707.6h0M368.8 1703.0h0M384.8 1697.6h0M393.7 1693.3h0M399.3 1691.9h0M421.8 1682.9h0M172.9 1805.8h0M189.3 1798.2h0M197.1 1793.2h0M212.6 1783.5h0M219.3 1779.7h0M359.9 1717.5h0M365.7 1715.9h0M372.4 1711.8h0M380.2 1711.0h0M410.0 1699.1h0M414.0 1696.0h0M422.5 1693.2h0M429.5 1692.4h0M386.7 1716.3h0M393.5 1714.8h0M398.0 1712.8h0M405.1 1711.1h0M413.3 1706.6h0M420.1 1705.1h0M428.8 1700.6h0M399.5 1720.9h0M414.2 1715.2h0M422.5 1713.9h0M427.9 1710.5h0M407.9 1726.6h0M420.0 1722.4h0M426.4 1720.3h0M414.1 1730.8h0M418.8 1729.5h0M429.6 1732.7h0M169.6 1905.5h0M187.2 1917.6h0M193.8 1921.7h0M200.1 1923.2h0M205.5 1927.8h0M213.1 1932.5h0M220.4 1936.5h0M225.5 1939.0h0M230.7 1941.8h0M237.7 1944.4h0M243.3 1948.0h0M258.9 1956.3h0M264.4 1959.9h0M270.8 1963.3h0M278.0 1966.3h0M295.6 1972.8h0M319.7 1982.8h0M325.0 1985.8h0M338.4 1989.2h0M346.4 1989.5h0M359.2 1990.5h0M371.3 1991.4h0M164.1 1891.0h0M171.4 1896.1h0M182.7 1903.9h0M187.7 1906.0h0M194.2 1909.8h0M198.1 1913.7h0M204.4 1916.2h0M227.2 1929.8h0M239.1 1935.3h0M244.9 1939.1h0M251.6 1941.2h0M255.4 1945.1h0M267.2 1949.8h0M273.4 1951.7h0M277.3 1955.3h0M283.4 1956.7h0M302.1 1963.5h0M307.0 1966.8h0M319.2 1972.3h0M325.7 1975.4h0M332.3 1977.0h0M342.1 1979.6h0M353.3 1980.5h0M367.0 1978.4h0M372.7 1980.1h0M377.0 1978.5h0M165.9 1883.2h0M170.8 1885.4h0M175.3 1888.6h0M182.7 1891.6h0M194.0 1898.6h0M197.7 1902.4h0M204.2 1905.2h0M209.3 1908.5h0M221.4 1916.2h0M226.9 1919.2h0M231.4 1922.0h0M236.1 1923.7h0M243.2 1926.9h0M255.3 1932.8h0M272.7 1943.1h0M277.3 1944.3h0M284.2 1947.7h0M289.1 1948.6h0M309.5 1958.6h0M320.6 1963.0h0M348.1 1969.7h0M355.1 1970.4h0M361.2 1970.6h0M372.1 1968.8h0M240.2 1917.7h0M246.5 1920.7h0M252.4 1922.8h0M260.8 1926.4h0M272.0 1934.1h0M284.5 1939.1h0M294.6 1943.4h0M313.0 1950.6h0M318.9 1953.7h0M325.4 1954.7h0M333.1 1957.6h0M337.1 1960.1h0M349.2 1961.1h0M358.6 1960.7h0M364.7 1961.1h0M371.7 1960.0h0M292.8 1933.8h0M303.4 1937.9h0M322.2 1945.3h0M329.4 1948.8h0M334.4 1949.7h0M345.5 1953.6h0M351.0 1953.2h0M358.8 1952.6h0M365.1 1951.6h0M378.1 1952.7h0M312.2 1934.9h0M322.2 1938.1h0M329.2 1941.2h0M335.7 1944.0h0M354.9 1946.7h0M360.1 1945.4h0M365.5 1945.1h0M371.0 1944.8h0M376.3 1944.8h0M339.8 1937.7h0M344.5 1939.3h0M348.5 1939.4h0M360.2 1938.8h0M367.9 1938.2h0M372.8 1937.8h0M378.4 1939.0h0M159.3 1809.8h0M164.2 1824.9h0M163.5 1826.3h0M165.0 1790.5h0M170.4 1819.3h0M169.5 1804.9h0M170.7 1810.5h0M173.9 1767.9h0M174.6 1759.7h0M178.9 1808.3h0M181.1 1793.9h0M180.2 1806.2h0M183.6 1795.6h0M186.1 1796.7h0M189.6 1786.3h0M189.9 1770.2h0M193.5 1800.3h0M194.6 1790.8h0M198.9 1794.5h0M197.8 1760.4h0M201.0 1773.8h0M201.8 1787.7h0M204.6 1792.9h0M206.3 1772.8h0M207.2 1791.1h0M212.1 1763.7h0M212.8 1741.8h0M216.2 1762.5h0M219.1 1738.0h0M219.3 1783.3h0M223.7 1762.7h0M225.5 1761.3h0M226.5 1774.2h0M230.5 1775.7h0M228.0 1757.9h0M232.0 1745.8h0M231.9 1776.5h0M234.2 1750.9h0M238.5 1745.2h0M242.3 1731.4h0M242.1 1735.3h0M243.0 1723.7h0M248.2 1740.2h0M246.2 1763.6h0M248.9 1746.6h0M250.7 1757.6h0M252.7 1717.1h0M257.3 1758.6h0M259.0 1739.0h0M263.5 1736.4h0M266.0 1746.2h0M267.9 1706.5h0M270.5 1707.3h0M274.5 1736.1h0M276.0 1733.1h0M275.5 1711.6h0M279.9 1736.0h0M281.9 1714.7h0M287.4 1737.6h0M289.1 1735.7h0M290.7 1701.9h0M295.3 1731.9h0M299.2 1721.8h0M302.4 1699.5h0M302.3 1726.1h0M299.7 1720.7h0M302.6 1730.3h0M303.4 1724.2h0M305.1 1692.6h0M308.0 1713.1h0M307.5 1699.7h0M305.8 1713.8h0M307.5 1724.7h0M311.2 1698.8h0M309.1 1690.4h0M311.2 1728.7h0M313.6 1724.6h0M312.2 1722.0h0M313.1 1717.7h0M311.7 1703.8h0M315.9 1705.2h0M316.9 1702.9h0M315.9 1728.1h0M319.4 1699.9h0M320.4 1722.7h0M318.2 1696.0h0M321.1 1685.6h0M323.4 1712.9h0M321.2 1688.8h0M321.6 1697.5h0M323.9 1694.7h0M324.1 1719.3h0M323.6 1717.7h0M324.7 1722.2h0M328.2 1722.9h0M328.2 1684.0h0M328.6 1713.1h0M327.0 1709.6h0M331.5 1723.5h0M330.6 1719.6h0M331.8 1681.6h0M331.4 1688.7h0M335.4 1694.6h0M334.8 1717.6h0M333.3 1713.6h0M334.3 1688.3h0M337.3 1684.1h0M335.5 1716.8h0M337.7 1702.2h0M335.7 1713.9h0M340.6 1716.8h0M339.2 1721.5h0M340.6 1713.3h0M338.6 1675.9h0M344.4 1677.0h0M342.5 1716.8h0M342.5 1700.3h0M342.9 1705.5h0M344.8 1719.3h0M344.8 1715.7h0M346.6 1693.6h0M346.9 1711.7h0M349.0 1707.7h0M350.3 1714.4h0M347.7 1696.4h0M349.6 1715.8h0M351.2 1687.4h0M352.9 1682.6h0M352.3 1717.7h0M352.6 1714.2h0M354.2 1683.1h0M355.5 1717.5h0M353.9 1696.1h0M355.2 1714.0h0M357.2 1692.4h0M357.8 1711.1h0M358.7 1697.9h0M358.7 1719.1h0M357.4 1712.7h0M361.3 1689.3h0M360.1 1676.8h0M361.5 1708.9h0M360.0 1711.1h0M365.0 1685.0h0M365.4 1688.2h0M363.4 1683.6h0M364.7 1709.2h0M364.3 1719.1h0M367.0 1719.9h0M368.3 1716.6h0M366.9 1678.9h0M365.9 1714.8h0M367.1 1700.3h0M370.1 1689.0h0M368.8 1685.4h0M369.7 1719.9h0M369.3 1702.0h0M372.5 1714.9h0M373.6 1702.8h0M372.6 1686.1h0M374.3 1704.3h0M374.8 1695.4h0M376.4 1704.3h0M374.6 1713.0h0M377.2 1673.0h0M379.4 1704.4h0M377.7 1712.7h0M379.8 1688.0h0M377.8 1705.9h0M377.8 1708.1h0M381.4 1723.2h0M380.9 1687.4h0M380.7 1721.5h0M382.1 1719.3h0M384.0 1719.9h0M384.8 1687.9h0M383.9 1712.3h0M386.4 1716.8h0M388.7 1716.8h0M389.2 1680.0h0M389.4 1705.9h0M387.4 1698.3h0M388.6 1706.3h0M390.1 1723.1h0M389.8 1675.8h0M390.5 1685.6h0M390.3 1718.1h0M392.9 1673.7h0M393.5 1683.2h0M394.7 1722.3h0M393.1 1714.3h0M395.0 1710.2h0M395.5 1701.9h0M397.3 1689.8h0M398.4 1680.5h0M398.0 1716.0h0M399.6 1720.0h0M399.6 1714.3h0M398.8 1714.1h0M401.2 1721.9h0M400.4 1712.3h0M402.2 1692.0h0M403.9 1680.6h0M403.7 1675.5h0M403.9 1692.1h0M405.6 1699.8h0M404.9 1687.5h0M405.5 1707.1h0M405.5 1688.8h0M407.0 1687.2h0M410.3 1729.1h0M409.5 1695.3h0M407.6 1701.3h0M409.1 1686.7h0M412.8 1720.9h0M413.1 1694.0h0M411.5 1727.0h0M410.8 1725.4h0M410.6 1721.5h0M413.7 1727.6h0M415.7 1734.0h0M414.9 1728.9h0M415.9 1718.7h0M418.4 1724.7h0M417.9 1688.8h0M418.7 1688.4h0M419.1 1724.6h0M421.3 1735.0h0M421.1 1694.6h0M420.7 1716.4h0M421.5 1691.0h0M420.6 1730.8h0M424.6 1686.8h0M425.2 1735.4h0M424.3 1738.4h0M424.7 1720.6h0M422.8 1720.7h0M427.9 1697.7h0M426.2 1725.9h0M427.9 1702.7h0M428.1 1732.7h0M426.8 1685.7h0M431.3 1706.3h0M429.4 1734.7h0M430.7 1728.6h0M430.1 1735.4h0M430.5 1719.2h0M434.5 1692.0h0M433.9 1717.5h0M434.2 1736.9h0M433.8 1718.0h0M432.6 1698.0h0M434.6 1737.3h0M437.2 1722.6h0M437.4 1698.2h0M437.3 1722.2h0M439.4 1741.2h0M438.8 1706.8h0M438.3 1718.8h0M438.8 1735.7h0M440.8 1728.0h0M441.5 1746.6h0M442.7 1714.2h0M441.3 1738.9h0M445.3 1743.0h0M444.1 1705.1h0M445.7 1723.7h0M445.6 1714.4h0M449.0 1740.7h0M446.7 1706.3h0M447.8 1705.1h0M446.7 1747.6h0M449.9 1722.8h0M451.4 1734.0h0M450.5 1704.3h0M450.2 1717.9h0M453.7 1748.3h0M453.4 1728.0h0M453.2 1748.2h0M453.1 1750.7h0M456.1 1735.6h0M456.8 1736.8h0M457.0 1710.8h0M456.9 1712.4h0M458.9 1733.4h0M458.7 1751.2h0M461.4 1727.9h0M459.6 1742.1h0M463.6 1746.0h0M462.0 1744.4h0M463.2 1721.6h0M464.0 1756.9h0M466.4 1747.7h0M465.7 1721.0h0M465.4 1744.5h0M469.7 1736.2h0M467.9 1722.0h0M470.1 1749.0h0M472.5 1741.5h0M473.3 1751.7h0M471.7 1743.3h0M476.2 1760.7h0M473.6 1733.7h0M474.9 1754.0h0M474.6 1747.3h0M478.1 1754.6h0M478.4 1728.7h0M477.5 1749.6h0M481.9 1745.3h0M480.6 1759.4h0M480.6 1754.7h0M481.1 1730.7h0M485.0 1758.4h0M484.6 1764.4h0M483.1 1767.8h0M484.9 1767.1h0M485.7 1763.8h0M487.7 1762.5h0M488.2 1742.9h0M487.2 1731.4h0M491.3 1769.7h0M489.1 1757.4h0M491.1 1742.9h0M494.1 1771.4h0M493.3 1744.0h0M491.6 1732.2h0M491.9 1772.3h0M496.4 1747.6h0M495.0 1772.6h0M496.3 1770.5h0M497.4 1749.4h0M498.8 1734.5h0M498.3 1764.1h0M500.4 1770.4h0M499.6 1733.6h0M501.0 1774.0h0M502.7 1767.4h0M502.1 1777.6h0M500.6 1751.9h0M505.2 1747.4h0M506.1 1764.6h0M504.5 1757.4h0M506.3 1767.1h0M508.2 1741.8h0M507.0 1778.8h0M508.6 1769.3h0M508.9 1782.4h0M509.5 1764.8h0M510.7 1749.8h0M511.2 1756.8h0M510.7 1753.6h0M515.3 1741.9h0M513.4 1761.2h0M513.3 1773.1h0M514.9 1745.0h0M518.5 1751.2h0M516.5 1758.8h0M516.3 1754.8h0M516.0 1763.0h0M519.3 1771.0h0M518.7 1746.3h0M520.8 1745.9h0M520.8 1786.1h0M523.3 1749.4h0M524.3 1776.0h0M523.8 1789.9h0M522.3 1789.5h0M525.8 1753.6h0M525.3 1762.0h0M526.4 1761.8h0M526.0 1791.1h0M529.5 1788.5h0M528.6 1785.9h0M530.3 1752.8h0M528.8 1748.1h0M532.8 1761.3h0M533.1 1779.6h0M533.4 1782.1h0M530.9 1778.8h0M535.5 1793.9h0M536.5 1796.6h0M535.7 1777.2h0M535.4 1794.4h0M538.9 1791.7h0M537.9 1798.5h0M539.1 1797.2h0M536.6 1760.5h0M541.7 1783.8h0M545.3 1790.3h0M547.9 1798.4h0M550.0 1797.9h0M554.3 1799.6h0M555.3 1781.8h0M562.3 1789.6h0M583.9 1796.2h0M607.2 1800.6h0M612.9 1808.3h0M633.6 1798.2h0M644.4 1804.5h0M651.1 1814.2h0M655.4 1811.3h0M667.4 1797.9h0M678.4 1807.3h0M683.7 1797.8h0M687.1 1809.3h0M694.5 1802.0h0M711.8 1823.6h0M716.5 1813.3h0M721.3 1804.0h0M726.0 1825.2h0M732.3 1806.8h0M740.4 1828.0h0M740.7 1817.9h0M750.3 1818.6h0M754.5 1830.3h0M772.2 1823.4h0M774.3 1819.6h0M776.9 1835.7h0M787.2 1830.6h0M160.1 1870.1h0M158.7 1855.7h0M159.2 1870.5h0M159.2 1887.5h0M159.2 1891.3h0M162.7 1880.0h0M163.8 1872.3h0M163.5 1866.7h0M162.9 1902.6h0M164.3 1881.5h0M162.0 1887.6h0M165.5 1864.4h0M166.4 1864.6h0M165.4 1879.9h0M167.3 1884.8h0M165.0 1870.9h0M165.5 1873.8h0M168.8 1899.1h0M167.6 1871.2h0M170.0 1869.5h0M168.0 1895.6h0M167.7 1894.3h0M170.8 1882.5h0M172.7 1904.1h0M171.0 1891.2h0M171.8 1899.8h0M170.8 1899.4h0M174.2 1875.1h0M174.1 1889.2h0M175.6 1877.1h0M174.5 1921.4h0M177.2 1905.8h0M178.6 1893.0h0M177.0 1894.3h0M178.1 1880.9h0M179.3 1923.1h0M181.0 1901.0h0M181.5 1888.9h0M181.9 1900.7h0M182.3 1892.4h0M180.9 1915.9h0M182.9 1902.8h0M184.6 1911.8h0M185.4 1906.9h0M184.6 1887.7h0M186.5 1891.6h0M187.2 1890.1h0M186.5 1915.6h0M186.6 1914.3h0M191.4 1899.0h0M188.5 1905.1h0M190.7 1893.3h0M190.4 1924.5h0M193.7 1926.8h0M192.6 1896.1h0M191.5 1917.3h0M192.6 1894.4h0M195.5 1935.0h0M196.9 1930.6h0M196.3 1928.4h0M196.4 1933.6h0M198.1 1916.6h0M198.9 1914.6h0M198.6 1907.5h0M201.2 1919.3h0M202.0 1906.9h0M201.8 1915.7h0M201.1 1922.7h0M205.8 1908.4h0M205.8 1926.2h0M204.2 1917.9h0M205.0 1937.0h0M207.7 1910.4h0M209.0 1928.0h0M208.7 1917.9h0M207.9 1907.7h0M210.6 1912.4h0M211.7 1931.5h0M210.2 1909.0h0M211.5 1932.9h0M214.6 1927.4h0M212.7 1912.7h0M212.6 1915.9h0M214.1 1943.1h0M217.9 1944.7h0M216.5 1912.4h0M217.9 1908.7h0M217.0 1933.4h0M220.0 1915.0h0M221.2 1933.4h0M221.1 1940.1h0M219.8 1921.4h0M222.1 1947.8h0M222.3 1912.5h0M224.1 1945.1h0M224.1 1918.4h0M225.1 1923.4h0M225.6 1938.9h0M227.2 1912.5h0M225.7 1923.9h0M227.6 1918.0h0M228.6 1923.1h0M228.6 1911.2h0M228.5 1939.6h0M231.1 1934.3h0M232.5 1912.3h0M231.4 1933.7h0M233.1 1917.2h0M235.3 1919.2h0M234.5 1933.2h0M234.5 1913.5h0M235.3 1936.4h0M237.1 1916.6h0M237.7 1923.1h0M239.2 1925.1h0M239.5 1916.4h0M240.2 1949.4h0M240.6 1936.0h0M241.9 1915.3h0M240.3 1947.0h0M240.9 1945.3h0M243.6 1916.6h0M244.4 1921.9h0M245.0 1946.6h0M243.7 1935.3h0M246.3 1918.8h0M246.8 1946.5h0M245.8 1959.5h0M246.1 1932.4h0M248.8 1919.5h0M249.8 1929.4h0M249.4 1935.6h0M250.0 1945.2h0M249.0 1960.3h0M252.6 1936.1h0M252.1 1954.9h0M252.6 1955.8h0M253.3 1929.1h0M254.8 1928.0h0M255.6 1961.6h0M256.5 1922.0h0M255.5 1939.1h0M258.5 1956.7h0M260.4 1934.8h0M258.7 1932.3h0M259.5 1924.5h0M258.8 1946.9h0M262.9 1928.1h0M263.0 1937.8h0M262.7 1934.0h0M261.2 1921.6h0M262.5 1964.7h0M264.9 1940.7h0M264.0 1927.6h0M265.6 1948.3h0M265.4 1930.0h0M265.3 1925.5h0M267.4 1942.3h0M266.9 1944.4h0M268.3 1941.0h0M267.4 1926.2h0M268.1 1951.2h0M271.2 1958.1h0M270.8 1930.2h0M271.2 1961.0h0M270.6 1956.5h0M272.4 1940.3h0M272.8 1952.1h0M272.6 1949.8h0M275.4 1968.6h0M273.3 1956.3h0M273.0 1963.2h0M275.5 1946.0h0M276.8 1967.2h0M277.6 1963.6h0M278.1 1946.6h0M278.2 1931.1h0M279.5 1926.1h0M278.7 1927.1h0M278.9 1952.7h0M279.4 1930.2h0M281.3 1935.1h0M284.5 1968.6h0M283.9 1943.7h0M284.3 1936.0h0M283.7 1964.9h0M281.8 1933.7h0M286.3 1950.7h0M284.9 1969.3h0M285.9 1959.2h0M285.9 1964.5h0M287.4 1933.2h0M290.0 1963.2h0M289.6 1936.1h0M288.2 1943.3h0M290.4 1934.8h0M289.0 1941.9h0M292.8 1928.8h0M293.1 1964.3h0M291.1 1942.2h0M292.7 1941.7h0M291.7 1959.0h0M296.3 1933.7h0M295.0 1949.1h0M294.1 1968.2h0M294.6 1964.0h0M293.8 1969.8h0M297.9 1959.6h0M298.2 1944.7h0M297.8 1936.9h0M298.9 1929.5h0M299.0 1938.6h0M298.3 1954.6h0M301.8 1933.6h0M302.1 1941.1h0M301.5 1970.4h0M300.8 1972.3h0M302.4 1963.0h0M303.7 1933.2h0M302.9 1953.8h0M305.1 1938.3h0M302.9 1946.8h0M304.2 1936.5h0M303.9 1936.8h0M307.0 1950.4h0M305.6 1976.2h0M306.1 1982.8h0M307.8 1931.6h0M307.1 1958.3h0M307.8 1938.7h0M309.2 1969.6h0M310.4 1959.4h0M309.9 1947.3h0M310.4 1932.9h0M309.0 1967.2h0M310.7 1958.0h0M314.1 1978.7h0M312.2 1932.9h0M312.3 1934.0h0M313.0 1934.1h0M312.4 1941.4h0M312.6 1953.3h0M314.8 1971.4h0M314.5 1940.6h0M314.8 1946.2h0M316.8 1969.6h0M315.1 1991.8h0M316.8 1932.8h0M318.7 1988.1h0M317.7 1945.9h0M319.0 1989.4h0M318.8 1953.5h0M320.0 1975.8h0M318.0 1955.7h0M321.7 1984.6h0M322.2 1967.9h0M322.2 1954.8h0M322.2 1942.4h0M320.7 1982.6h0M323.1 1949.2h0M325.4 1933.3h0M326.0 1965.8h0M323.9 1955.3h0M325.6 1945.5h0M324.1 1972.4h0M325.5 1966.5h0M327.8 1933.9h0M328.3 1947.0h0M326.9 1947.7h0M327.4 1968.2h0M327.4 1976.4h0M328.9 1960.0h0M329.7 1972.0h0M329.6 1986.5h0M330.6 1971.5h0M330.7 1939.9h0M330.7 1957.1h0M331.1 1937.4h0M333.6 1988.2h0M333.2 1953.1h0M333.5 1988.4h0M335.0 1966.1h0M334.8 1950.7h0M332.8 1944.7h0M338.1 1953.8h0M336.8 1941.1h0M336.3 1973.5h0M337.1 1938.9h0M338.3 1952.5h0M336.2 1982.7h0M338.6 1951.9h0M341.2 1953.5h0M340.3 1945.9h0M338.7 1969.7h0M338.8 1984.1h0M340.6 1945.9h0M341.9 1949.3h0M341.5 1954.6h0M342.2 1939.0h0M341.8 1936.5h0M343.1 1940.8h0M344.0 1938.4h0M345.2 1943.0h0M344.6 1975.4h0M344.8 1969.4h0M345.7 1982.2h0M347.1 1960.8h0M349.6 1935.7h0M349.7 1959.3h0M349.0 1943.8h0M348.8 1940.0h0M349.3 1943.9h0M352.4 1943.2h0M352.9 1936.2h0M351.2 1953.6h0M352.0 1937.1h0M352.7 1954.0h0M356.2 1948.8h0M356.4 1942.8h0M356.5 1974.1h0M354.3 1977.1h0M355.3 1969.6h0M358.4 1978.6h0M358.2 1968.0h0M359.1 1935.7h0M357.3 1938.7h0M357.1 1957.9h0M359.8 1961.6h0M359.8 1959.0h0M361.4 1950.2h0M359.6 1960.3h0M363.7 1973.0h0M363.6 1947.1h0M364.7 1959.4h0M363.7 1957.2h0M364.0 1953.5h0M368.4 1971.1h0M368.5 1962.3h0M368.0 1948.0h0M367.7 1939.4h0M371.0 1969.4h0M369.3 1966.4h0M369.9 1961.8h0M369.6 1941.3h0M374.0 1963.5h0M372.0 1955.4h0M373.2 1935.6h0M372.5 1937.3h0M376.7 1935.0h0M377.0 1937.1h0M377.0 1940.7h0M375.3 1939.8h0M378.8 1931.1h0M377.5 1941.8h0M378.6 1962.3h0M380.4 1931.0h0M380.6 1936.5h0M382.6 1932.1h0M382.0 1948.8h0M381.4 1936.3h0M386.5 1939.8h0M383.9 1961.2h0M383.6 1959.4h0M388.6 1956.6h0M388.9 1945.6h0M388.1 1932.0h0M390.1 1939.0h0M391.2 1951.1h0M391.4 1954.2h0M392.3 1946.6h0M393.5 1944.3h0M393.6 1959.7h0M393.5 1929.0h0M397.4 1958.7h0M398.3 1947.1h0M396.8 1951.9h0M399.5 1950.1h0M400.4 1927.3h0M399.2 1952.2h0M401.2 1946.9h0M403.0 1927.0h0M404.3 1932.9h0M402.8 1959.3h0M403.4 1950.4h0M405.0 1956.3h0M405.9 1924.7h0M405.9 1923.7h0M407.4 1934.3h0M409.8 1949.3h0M408.2 1939.1h0M409.0 1929.6h0M412.0 1939.8h0M412.3 1929.0h0M411.1 1953.6h0M413.8 1920.8h0M414.8 1921.4h0M415.6 1945.4h0M418.3 1943.7h0M416.5 1934.6h0M417.3 1928.4h0M421.1 1919.6h0M421.0 1926.9h0M419.8 1927.8h0M424.3 1938.9h0M424.3 1919.5h0M425.5 1941.4h0M428.1 1917.4h0M426.3 1932.9h0M431.2 1936.4h0M430.2 1920.3h0M433.8 1920.3h0M432.5 1928.5h0M434.3 1926.5h0M436.2 1935.7h0M434.6 1938.1h0M439.7 1924.0h0M439.4 1935.5h0M442.1 1924.6h0M443.3 1926.4h0M446.1 1916.5h0M445.9 1912.1h0M445.4 1911.7h0M447.6 1914.0h0M448.6 1913.8h0M450.5 1921.2h0M454.8 1929.7h0M457.0 1911.4h0M460.9 1912.6h0M463.8 1916.6h0M461.6 1926.6h0M467.3 1914.3h0M468.7 1922.3h0M470.3 1914.8h0M471.0 1909.2h0M471.4 1905.6h0M473.9 1913.9h0M476.9 1911.4h0M480.2 1918.2h0M483.2 1916.5h0M488.0 1916.6h0M487.8 1901.2h0M491.0 1909.9h0M494.0 1903.0h0M496.6 1901.9h0M499.2 1910.5h0M502.1 1899.2h0M506.2 1907.9h0M508.5 1904.2h0M511.8 1905.7h0M513.3 1894.0h0M517.9 1899.2h0M519.5 1892.3h0M521.7 1892.3h0M526.5 1890.6h0M529.5 1892.8h0M528.7 1909.0h0M531.5 1888.4h0M535.6 1906.8h0M535.1 1906.7h0M537.7 1888.6h0M541.7 1891.7h0M543.3 1892.5h0M549.6 1896.7h0M556.2 1895.4h0M558.3 1888.9h0M562.8 1897.2h0M566.5 1894.6h0M569.0 1892.7h0M569.9 1891.7h0M575.3 1904.5h0M577.0 1888.1h0M579.9 1891.6h0M590.9 1903.0h0M602.6 1896.3h0M612.1 1891.3h0M618.1 1882.5h0M627.2 1892.4h0M631.2 1881.2h0M641.7 1875.8h0M657.8 1877.4h0M661.3 1887.0h0M670.0 1875.7h0M681.0 1871.6h0M686.2 1881.5h0M687.8 1881.1h0M697.5 1870.3h0M704.0 1881.6h0M706.2 1868.8h0M712.0 1867.1h0M715.4 1875.9h0M717.2 1870.4h0M721.9 1866.1h0M730.3 1873.7h0M735.1 1867.3h0M750.2 1859.8h0M758.1 1861.3h0M766.6 1857.4h0M768.5 1863.0h0M160.9 1727.7h0M161.6 1727.9h0M162.6 1727.3h0M164.4 1726.2h0M165.6 1725.2h0M166.0 1724.6h0M168.0 1724.3h0M169.1 1723.7h0M170.1 1722.9h0M171.0 1721.9h0M172.1 1721.2h0M173.8 1720.3h0M174.5 1720.3h0M175.7 1719.0h0M177.1 1719.1h0M178.3 1718.2h0M179.8 1717.0h0M181.4 1716.0h0M181.9 1715.5h0M183.7 1714.6h0M184.3 1713.9h0M185.5 1713.5h0M186.8 1712.7h0M187.9 1712.5h0M189.1 1711.8h0M190.7 1710.9h0M192.0 1710.4h0M192.7 1709.2h0M194.2 1708.5h0M195.7 1707.7h0M196.2 1707.6h0M197.6 1706.9h0M198.6 1706.4h0M200.6 1705.2h0M200.8 1704.6h0M202.1 1704.2h0M204.0 1703.0h0M205.3 1702.3h0M206.4 1702.0h0M207.1 1701.3h0M208.3 1701.3h0M209.4 1700.1h0M210.5 1699.7h0M212.3 1698.7h0M213.8 1697.5h0M214.7 1697.0h0M215.6 1696.9h0M217.3 1695.7h0M218.1 1695.5h0M219.3 1693.9h0M220.1 1694.2h0M221.6 1693.7h0M223.4 1691.9h0M224.3 1691.8h0M225.7 1691.0h0M226.8 1690.1h0M228.1 1689.4h0M228.5 1689.6h0M229.8 1687.8h0M231.5 1687.7h0M232.4 1687.4h0M233.6 1685.7h0M234.5 1686.1h0M236.3 1684.3h0M237.3 1684.1h0M238.5 1683.8h0M240.1 1682.7h0M240.6 1682.0h0M242.2 1681.8h0M243.3 1681.3h0M244.0 1679.8h0M245.3 1679.2h0M247.3 1678.8h0M248.3 1678.5h0M249.1 1678.0h0M250.6 1677.3h0M251.4 1676.5h0M253.2 1676.7h0M253.8 1675.1h0M255.5 1675.3h0M256.5 1674.6h0M257.8 1674.2h0M258.9 1673.8h0M259.7 1672.9h0M261.2 1672.5h0M262.4 1671.8h0M264.2 1670.9h0M265.1 1670.8h0M266.2 1670.2h0M266.8 1670.3h0M268.3 1669.3h0M269.3 1669.3h0M270.6 1668.0h0M272.4 1667.7h0M273.0 1667.6h0M274.9 1666.2h0M276.2 1666.4h0M276.5 1665.1h0M277.7 1665.5h0M279.3 1665.0h0M280.6 1663.6h0M281.6 1663.2h0M283.1 1662.6h0M283.9 1662.6h0M285.2 1662.4h0M286.7 1661.3h0M288.2 1660.8h0M288.5 1660.4h0M290.2 1659.8h0M290.9 1659.6h0M292.3 1659.2h0M293.7 1658.3h0M294.7 1658.4h0M295.9 1657.5h0M297.0 1656.7h0M298.2 1656.4h0M300.0 1656.0h0M300.8 1655.9h0M302.0 1655.6h0M303.8 1654.6h0M304.4 1653.8h0M306.1 1653.4h0M306.9 1653.2h0M307.8 1652.5h0M309.3 1651.6h0M310.4 1651.2h0M311.4 1651.6h0M312.7 1650.4h0M313.9 1650.1h0M315.6 1650.0h0M316.7 1648.8h0M317.4 1648.5h0M319.2 1648.5h0M319.8 1648.5h0M321.1 1646.9h0M322.3 1647.3h0M323.9 1646.3h0M324.7 1645.5h0M326.4 1646.1h0M327.5 1644.8h0M328.1 1645.1h0M329.8 1643.9h0M330.8 1644.1h0M331.8 1643.3h0M333.3 1642.3h0M334.1 1641.8h0M335.7 1641.7h0M337.1 1641.7h0M337.6 1641.1h0M339.1 1639.8h0M340.8 1639.3h0M342.1 1639.5h0M343.1 1639.2h0M343.8 1638.5h0M344.9 1637.5h0M346.1 1637.3h0M347.8 1636.8h0M348.5 1636.2h0M350.5 1636.5h0M351.3 1635.8h0M352.1 1634.7h0M354.1 1634.3h0M354.9 1633.6h0M356.4 1633.9h0M357.1 1632.7h0M358.7 1632.5h0M359.4 1632.5h0M361.2 1631.5h0M362.1 1631.5h0M363.2 1631.0h0M364.9 1630.6h0M365.6 1629.5h0M367.2 1629.1h0M367.8 1629.4h0M369.6 1628.4h0M370.5 1627.8h0M371.3 1627.9h0M372.5 1627.1h0M374.4 1626.7h0M374.9 1625.4h0M376.8 1625.1h0M378.0 1624.6h0M379.3 1624.8h0M380.1 1623.8h0M381.6 1623.8h0M382.7 1623.1h0M383.6 1623.1h0M384.9 1622.2h0M386.1 1622.2h0M387.7 1621.4h0M388.8 1620.3h0M389.9 1620.6h0M391.4 1619.9h0M391.7 1618.8h0M393.1 1618.5h0M394.1 1618.8h0M395.8 1617.8h0M397.0 1617.2h0M398.6 1617.2h0M398.9 1616.0h0M400.1 1615.9h0M402.0 1616.0h0M402.6 1614.4h0M403.7 1614.5h0M405.5 1614.1h0M406.3 1613.9h0M407.9 1613.1h0M408.7 1612.2h0M410.2 1611.9h0M411.7 1612.3h0M156.5 1952.3h0M157.9 1954.0h0M158.4 1954.0h0M160.2 1954.4h0M161.1 1956.1h0M162.3 1956.0h0M163.8 1957.5h0M164.9 1958.1h0M166.5 1958.1h0M167.8 1959.4h0M168.3 1959.5h0M169.5 1960.9h0M171.0 1962.1h0M172.5 1962.0h0M172.8 1962.9h0M174.3 1963.6h0M175.4 1964.8h0M176.5 1965.7h0M178.3 1965.8h0M178.9 1967.3h0M180.5 1967.8h0M182.1 1968.2h0M182.9 1969.5h0M184.3 1970.1h0M185.4 1970.8h0M186.9 1970.6h0M187.8 1971.5h0M188.8 1972.2h0M190.2 1973.3h0M190.9 1974.3h0M192.3 1975.2h0M194.1 1975.2h0M195.2 1976.4h0M195.6 1977.0h0M197.4 1978.4h0M198.1 1978.7h0M199.4 1979.2h0M200.7 1979.8h0M201.8 1980.6h0M203.1 1981.8h0M204.1 1982.4h0M206.1 1982.5h0M207.1 1983.5h0M208.2 1984.6h0M209.3 1985.2h0M210.4 1985.2h0M211.7 1986.7h0M213.0 1986.7h0M214.2 1987.9h0M215.5 1988.9h0M216.9 1988.8h0M218.1 1989.2h0M219.4 1989.7h0M220.1 1991.2h0M221.7 1991.8h0M222.1 1991.7h0M223.2 1992.9h0M224.6 1994.0h0M226.6 1994.1h0M227.3 1994.6h0M228.0 1995.3h0M230.1 1996.2h0M230.7 1997.0h0M231.7 1997.9h0M233.3 1998.1h0M235.0 1999.4h0M235.9 1999.8h0M236.4 2000.6h0M238.2 2000.6h0M239.7 2001.6h0M240.3 2002.0h0M242.2 2003.3h0M242.4 2003.4h0M244.3 2004.5h0M245.6 2004.3h0M246.1 2005.8h0M247.7 2005.6h0M248.5 2006.3h0M250.6 2007.0h0M251.6 2007.8h0M252.8 2008.9h0M253.3 2009.3h0M254.7 2009.4h0M255.7 2010.1h0M257.8 2010.7h0M258.5 2011.7h0M259.6 2012.2h0M261.3 2012.3h0M262.3 2013.2h0M263.4 2013.2h0M264.3 2013.9h0M265.9 2015.2h0M266.6 2015.8h0M268.2 2015.8h0M269.2 2016.5h0M270.9 2017.5h0M271.4 2017.7h0M272.5 2018.2h0M274.1 2019.5h0M275.4 2019.6h0M276.4 2019.4h0M278.0 2020.0h0M278.6 2021.2h0M279.6 2021.5h0M281.1 2021.8h0M282.0 2022.2h0M283.5 2022.9h0M284.7 2022.9h0M286.3 2024.0h0M287.0 2025.0h0M288.2 2025.4h0M289.3 2025.5h0M290.5 2025.8h0M292.3 2026.7h0M293.2 2026.5h0M294.8 2027.9h0M295.3 2028.3h0M296.7 2028.1h0M298.4 2029.4h0M299.7 2029.2h0M300.7 2029.7h0M301.3 2030.9h0M302.5 2030.7h0M304.2 2031.5h0M305.6 2031.7h0M306.2 2032.2h0M307.3 2032.8h0M309.1 2033.0h0M310.2 2034.1h0M310.9 2034.6h0M312.1 2035.3h0M313.8 2035.6h0M315.3 2035.9h0M316.1 2036.9h0M317.6 2037.1h0M318.6 2038.1h0M320.0 2037.7h0M320.8 2038.1h0M321.8 2039.1h0M323.2 2039.6h0M325.0 2040.4h0M325.5 2040.4h0M327.3 2040.6h0M327.6 2041.0h0M329.1 2041.0h0M330.1 2041.6h0M331.5 2042.4h0M332.8 2042.4h0M334.2 2043.8h0M335.2 2043.5h0M336.5 2044.5h0M337.3 2044.2h0M338.8 2044.9h0M340.0 2045.6h0M164.9 1916.2h0M167.1 1918.3h0M170.5 1918.7h0M173.1 1921.5h0M176.4 1923.0h0M179.2 1924.6h0M181.6 1927.7h0M184.1 1929.3h0M187.1 1931.2h0M190.3 1932.0h0M192.7 1935.0h0M196.0 1936.3h0M198.1 1938.2h0M200.9 1940.7h0M204.4 1941.4h0M206.8 1943.0h0M210.0 1945.3h0M212.5 1946.8h0M217.6 1949.3h0M220.5 1949.4h0M223.7 1951.2h0M226.0 1952.9h0M229.0 1954.3h0M240.3 1958.8h0M243.4 1960.8h0M246.0 1962.2h0M248.8 1962.3h0M251.6 1964.7h0M254.2 1966.5h0M257.3 1966.4h0M259.9 1969.2h0M263.2 1969.4h0M265.2 1970.6h0M268.9 1972.4h0M270.7 1974.1h0M273.6 1975.6h0M276.6 1977.4h0M279.2 1977.6h0M282.2 1979.8h0M290.4 1983.6h0M293.6 1985.1h0M296.0 1985.1h0M299.3 1986.9h0M301.5 1987.1h0M307.4 1990.9h0M310.7 1992.1h0M313.3 1991.9h0M316.1 1994.3h0M318.4 1994.6h0M754.6 1832.3h0M715.7 1862.8h0M724.9 1871.4h0M714.7 1849.4h0M725.9 1841.4h0M793.4 1848.8h0M747.0 1837.8h0M761.2 1828.3h0M721.1 1851.4h0M735.3 1851.0h0M716.2 1845.4h0M713.5 1860.8h0M724.8 1829.3h0M783.1 1855.9h0M703.1 1851.2h0M777.6 1850.7h0M732.8 1852.9h0M725.6 1862.0h0M747.4 1830.8h0M716.2 1815.3h0M746.0 1864.6h0M785.0 1845.5h0M718.3 1842.4h0M737.4 1823.0h0M711.6 1852.4h0M736.2 1868.9h0M704.0 1810.9h0M748.6 1852.0h0M701.3 1840.8h0M749.1 1829.8h0M783.4 1847.2h0M760.5 1864.2h0M753.8 1855.4h0M735.0 1859.4h0M707.6 1870.2h0M700.2 1814.4h0M789.4 1849.5h0M705.1 1848.7h0M722.7 1825.8h0M701.7 1855.7h0M783.4 1851.5h0M779.1 1847.6h0M737.8 1823.1h0M709.7 1875.4h0M783.1 1846.1h0M755.6 1853.7h0M717.8 1839.7h0M713.9 1824.4h0M755.1 1830.6h0M791.5 1840.9h0M720.3 1821.5h0M779.2 1852.0h0M760.1 1850.2h0M755.9 1846.4h0M759.3 1833.2h0M777.1 1848.1h0M760.9 1845.5h0M743.9 1825.5h0M701.4 1884.2h0M754.7 1829.7h0M718.4 1863.9h0M749.4 1854.5h0M775.1 1847.5h0M775.7 1839.3h0M725.3 1817.7h0M758.2 1845.3h0M780.4 1835.6h0M758.2 1847.0h0M716.4 1827.1h0M723.5 1874.1h0M791.3 1841.7h0M705.0 1837.4h0M738.7 1869.9h0M725.5 1830.3h0M702.1 1871.4h0M702.9 1876.4h0M727.8 1840.9h0M741.3 1865.8h0M722.2 1813.6h0M754.0 1850.5h0M703.3 1868.9h0M735.9 1864.9h0M752.7 1827.3h0M764.1 1832.4h0M791.1 1854.3h0M788.5 1851.3h0M773.9 1855.8h0M756.3 1834.2h0M722.1 1867.9h0M719.1 1867.1h0M702.5 1835.6h0M788.9 1843.4h0M777.5 1847.1h0M732.7 1842.7h0M717.9 1846.3h0M707.4 1822.1h0M770.9 1844.3h0M787.1 1836.3h0M701.7 1852.7h0M716.5 1839.6h0M732.2 1841.2h0M740.7 1832.8h0M711.0 1821.5h0M724.4 1854.4h0M757.2 1839.4h0M719.9 1841.4h0M742.0 1834.5h0M730.0 1854.8h0M734.3 1848.4h0M754.5 1843.4h0M705.5 1825.5h0M710.5 1854.0h0M783.8 1840.5h0M710.4 1820.7h0M746.6 1832.9h0M757.1 1842.8h0M755.0 1843.8h0M725.6 1867.7h0M753.1 1826.7h0M778.6 1842.9h0M739.9 1835.4h0M706.6 1856.6h0M789.6 1858.4h0M788.2 1852.2h0M706.7 1880.7h0M750.6 1850.4h0M731.2 1826.5h0M717.7 1818.8h0M746.2 1860.3h0M746.5 1834.1h0M712.4 1854.0h0M722.1 1821.6h0M740.9 1858.0h0M710.6 1830.9h0M714.2 1851.0h0M703.7 1858.2h0M705.6 1842.5h0M728.0 1848.0h0M739.1 1819.5h0M746.8 1839.5h0M710.7 1876.1h0M726.9 1850.7h0M711.7 1812.8h0M709.0 1847.8h0M700.7 1820.3h0M750.3 1867.7h0M740.8 1817.5h0M737.5 1858.6h0M775.2 1845.5h0M729.4 1822.0h0M713.2 1855.0h0M758.6 1850.6h0M788.9 1841.4h0M728.6 1869.3h0M766.9 1848.8h0M783.8 1860.5h0M723.2 1864.4h0M775.7 1854.6h0M728.4 1861.9h0M742.6 1858.5h0M700.3 1842.6h0M776.0 1832.0h0M713.7 1819.9h0M757.3 1842.1h0M744.0 1865.7h0M742.6 1843.7h0M758.6 1829.7h0M786.3 1852.6h0M724.6 1827.5h0M742.6 1865.9h0M710.5 1862.5h0M736.6 1860.0h0M723.0 1845.9h0M733.5 1833.4h0M728.1 1841.4h0M736.9 1854.6h0M755.6 1845.5h0M790.4 1841.7h0M790.0 1841.4h0M712.1 1819.8h0M740.3 1826.4h0M739.7 1831.5h0M783.4 1845.1h0M748.6 1828.9h0M754.0 1828.8h0M720.7 1859.6h0M784.0 1848.5h0M710.6 1859.3h0M702.6 1839.7h0M735.3 1864.2h0M764.7 1854.0h0M750.9 1840.5h0M741.7 1851.8h0M775.5 1837.2h0M776.8 1859.0h0M789.1 1833.8h0M711.8 1812.5h0M708.9 1856.6h0M706.3 1837.4h0M735.7 1836.8h0M737.9 1871.5h0M709.6 1875.9h0M745.2 1846.4h0M721.7 1831.6h0M750.4 1837.3h0M746.1 1856.9h0M776.6 1846.3h0M714.7 1856.0h0M762.1 1848.3h0M719.9 1855.8h0M752.3 1847.7h0M722.4 1843.7h0M765.3 1831.2h0M716.5 1849.5h0M712.2 1825.1h0M725.5 1868.1h0M717.2 1847.2h0M786.8 1848.8h0M740.5 1845.1h0M718.9 1870.0h0M703.1 1869.5h0M720.2 1859.1h0M780.7 1832.9h0M715.5 1864.4h0M735.2 1868.1h0M794.3 1855.8h0M763.7 1851.5h0M738.5 1845.6h0M716.6 1868.6h0M759.5 1852.8h0M746.1 1851.0h0M733.0 1865.4h0M735.4 1827.0h0M773.9 1830.0h0M770.8 1856.1h0M786.6 1843.4h0M789.0 1847.5h0M705.4 1816.4h0M705.1 1862.9h0M789.8 1849.7h0M760.9 1839.1h0M703.3 1869.5h0M746.9 1853.1h0M706.5 1832.1h0M745.0 1831.3h0M736.1 1826.9h0M733.6 1823.3h0M706.6 1862.9h0M721.2 1847.9h0M750.7 1839.8h0M716.5 1869.1h0M730.9 1834.9h0M780.7 1850.4h0M793.8 1850.9h0M776.9 1834.4h0M769.5 1855.6h0M702.6 1843.3h0M749.7 1841.3h0M742.4 1850.2h0M718.3 1833.9h0M796.0 1813.5h0M801.0 1825.0h0M804.5 1842.5h0M804.5 1856.5h0M811.0 1846.5h0M818.0 1854.5h0M821.6 1821.5h0M823.0 1847.5h0M826.7 1861.5h0M828.0 1825.5h0M826.7 1837.5h0M847.0 1827.5h0M850.6 1841.0h0M852.0 1849.5h0M859.0 1853.0h0M871.0 1842.5h0M872.7 1844.5h0M870.3 1861.5h0M893.0 1833.5h0M899.0 1838.5h0M909.6 1842.1h0M925.0 1843.5h0M947.0 1835.9h0M945.0 1843.5h0M977.0 1814.5h0M1005.7 1834.9h0M1009.0 1864.2h0M1062.0 1832.2h0M1069.4 1835.9h0M1068.4 1841.7h0M1071.8 1860.8h0M1087.5 1856.5h0M1069.0 1808.0h0M1099.0 1839.5h0M1108.6 1831.5h0M1113.0 1837.0h0M1125.0 1837.5h0M1130.0 1843.5h0M1131.8 1841.0h0M1188.4 1835.2h0M885.7 1877.5h0M742.5 1801.5h0M660.7 1797.5h0M641.6 1802.9h0M679.8 1807.5h0M552.0 1943.0h0M568.3 1949.5h0M583.4 1739.2h0M661.0 1797.5h0M743.0 1801.5h0M562.4 1765.1h0M541.0 1768.5h0M833.3 2051.5h0M565.5 1554.7h0M526.8 1569.3h0M778.3 1572.6h0M778.0 1829.5h0M790.0 1819.5h0M760.0 1801.5h0M720.0 1796.5h0M700.0 1793.5h0M690.0 1886.5h0M650.0 1899.5h0M620.0 1901.5h0M585.0 1893.5h0M607.0 1899.5h0M720.0 1876.5h0M755.0 1869.5h0M783.0 1864.5h0M555.0 1753.5h0M530.0 1741.5h0M500.0 1736.5h0M565.0 1726.5h0M700.0 1789.5h0M740.0 1811.5h0M765.0 1821.5h0M587.8 1700.1h0M565.1 1711.5h0M553.7 1771.5h0M527.7 1781.3h0" stroke="#000" stroke-width="6" stroke-linecap="round" fill="none"/>
<path d="M565.5 893.2h0M526.8 907.8h0M778.3 911.1h0M468.8 929.0h0M580.0 1009.9h0M428.7 980.1h0M449.8 988.3h0M511.5 991.5h0M542.4 999.6h0M560.2 1005.5h0M373.5 1000.6h0M383.3 996.4h0M389.7 994.8h0M381.6 1005.5h0M386.5 1012.6h0M391.4 1012.6h0M404.4 1005.5h0M422.2 999.0h0M422.2 1011.0h0M440.1 1011.0h0M449.8 1014.2h0M461.2 1022.4h0M461.2 1028.2h0M495.3 1025.6h0M529.4 1021.7h0M391.4 1030.5h0M393.0 1035.4h0M399.5 1027.2h0M386.5 1041.8h0M407.6 1041.8h0M420.6 1040.2h0M422.2 1046.7h0M440.1 1040.2h0M449.8 1040.2h0M451.4 1050.0h0M428.7 1056.5h0M436.8 1058.1h0M430.3 1063.0h0M459.6 1060.7h0M487.2 1068.5h0M495.3 1044.4h0M503.4 1051.6h0M513.1 1060.7h0M524.5 1053.2h0M565.1 1050.0h0M587.8 1038.6h0M441.7 1075.0h0M464.4 1074.3h0M472.6 1082.4h0M493.7 1084.0h0M511.5 1088.9h0M532.6 1075.0h0M470.9 1100.3h0M495.3 1093.8h0M496.9 1100.3h0M493.7 1106.8h0M500.1 1103.5h0M531.0 1096.4h0M553.7 1110.0h0M527.7 1119.8h0M635.8 1069.8h0M625.6 1137.6h0M706.7 1139.3h0M840.3 1143.0h0M976.7 1130.8h0M719.3 1217.7h0M601.7 1242.0h0M524.5 1244.8h0M539.1 1246.4h0M563.5 1230.2h0M589.4 1243.2h0M341.0 1341.6h0M401.1 1408.8h0M571.6 1427.0h0M833.3 1390.0h0M245.3 1017.5h0M282.6 1001.3h0M305.3 992.5h0M422.2 947.0h0M432.0 942.8h0M441.7 939.6h0M451.4 934.7h0M469.3 928.8h0M353.5 1389.7h0M361.0 1392.5h0M368.6 1395.4h0" stroke="#dc2a26" stroke-width="8.4" stroke-linecap="round" fill="none"/>
<path d="M311.8 989.7h0M313.3 989.1h0M314.8 988.5h0M316.3 987.9h0M317.8 987.3h0M319.3 986.7h0M320.8 986.1h0M322.3 985.5h0M323.8 984.9h0M325.3 984.3h0M326.8 983.7h0M328.3 983.1h0M329.8 982.5h0M331.3 981.9h0M332.8 981.3h0M334.3 980.7h0M335.8 980.1h0M337.3 979.5h0M338.8 979.0h0M340.3 978.4h0M341.8 977.8h0M343.3 977.2h0M344.8 976.6h0M346.3 976.0h0M347.8 975.4h0M349.3 974.8h0M350.8 974.2h0M352.3 973.6h0M353.8 973.0h0M355.3 972.4h0M356.8 971.8h0M358.3 971.2h0M359.8 970.6h0M361.3 970.0h0M362.8 969.4h0M364.3 968.8h0M365.8 968.2h0M367.3 967.6h0M368.8 967.0h0M370.3 966.4h0M371.8 965.8h0M373.3 965.2h0M374.8 964.7h0M376.3 964.1h0M377.8 963.5h0M379.3 962.9h0M380.8 962.3h0M382.3 961.7h0M383.8 961.1h0M385.3 960.5h0M386.8 959.9h0M388.3 959.3h0M389.8 958.7h0M391.3 958.1h0M392.8 957.5h0M394.3 956.9h0M395.8 956.3h0M397.3 955.7h0M398.8 955.1h0M400.3 954.5h0M401.8 953.9h0M403.3 953.3h0M404.8 952.7h0M406.3 952.2h0M407.8 951.6h0M409.3 951.1h0M410.8 950.5h0M412.3 950.0h0M272.9 1357.0h0M274.4 1357.6h0M275.9 1358.2h0M277.4 1358.9h0M278.9 1359.5h0M280.4 1360.1h0M281.9 1360.7h0M283.4 1361.4h0M284.9 1362.0h0M286.4 1362.6h0M287.9 1363.2h0M289.4 1363.9h0M290.9 1364.5h0M292.4 1365.1h0M293.9 1365.7h0M295.4 1366.4h0M296.9 1367.0h0M298.4 1367.6h0M299.9 1368.3h0M301.4 1368.9h0M302.9 1369.5h0M304.4 1370.1h0M305.9 1370.8h0M307.4 1371.4h0M308.9 1372.0h0M310.4 1372.6h0M311.9 1373.3h0M313.4 1373.9h0M314.9 1374.5h0M316.4 1375.1h0M317.9 1375.8h0M319.4 1376.4h0M320.9 1376.9h0M322.4 1377.5h0M323.9 1378.0h0M325.4 1378.6h0M326.9 1379.1h0M328.4 1379.7h0M329.9 1380.2h0M331.4 1380.8h0M332.9 1381.3h0M334.4 1381.9h0M335.9 1382.4h0M337.4 1383.0h0M338.9 1383.5h0M340.4 1384.0h0" stroke="#dc2a26" stroke-width="8.4" stroke-linecap="round" fill="none"/>
<path d="M565.5 1554.7h0M468.8 1590.5h0M580.0 1671.4h0M428.7 1641.6h0M449.8 1649.8h0M511.5 1653.0h0M542.4 1661.1h0M560.2 1667.0h0M373.5 1662.1h0M383.3 1657.9h0M389.7 1656.3h0M381.6 1667.0h0M386.5 1674.1h0M391.4 1674.1h0M404.4 1667.0h0M422.2 1660.5h0M422.2 1672.5h0M440.1 1672.5h0M449.8 1675.7h0M461.2 1683.9h0M461.2 1689.7h0M495.3 1687.1h0M529.4 1683.2h0M391.4 1692.0h0M393.0 1696.9h0M399.5 1688.7h0M386.5 1703.3h0M407.6 1703.3h0M420.6 1701.7h0M422.2 1708.2h0M440.1 1701.7h0M449.8 1701.7h0M451.4 1711.5h0M428.7 1718.0h0M436.8 1719.6h0M430.3 1724.5h0M459.6 1722.2h0M487.2 1730.0h0M495.3 1705.9h0M503.4 1713.1h0M513.1 1722.2h0M524.5 1714.7h0M565.1 1711.5h0M587.8 1700.1h0M441.7 1736.5h0M464.4 1735.8h0M472.6 1743.9h0M493.7 1745.5h0M511.5 1750.4h0M532.6 1736.5h0M470.9 1761.8h0M495.3 1755.3h0M496.9 1761.8h0M493.7 1768.3h0M500.1 1765.0h0M531.0 1757.9h0M553.7 1771.5h0M527.7 1781.3h0M635.8 1731.3h0M625.6 1799.1h0M706.7 1800.8h0M840.3 1804.5h0M976.7 1792.3h0M719.3 1879.2h0M601.7 1903.5h0M524.5 1906.3h0M539.1 1907.9h0M563.5 1891.7h0M589.4 1904.7h0M341.0 2003.1h0M401.1 2070.3h0M571.6 2088.5h0M833.3 2051.5h0M245.3 1679.0h0M282.6 1662.8h0M305.3 1654.0h0M422.2 1608.5h0M432.0 1604.3h0M441.7 1601.1h0M451.4 1596.2h0M469.3 1590.3h0M353.5 2051.2h0M361.0 2054.0h0M368.6 2056.9h0M311.8 1651.2h0M313.3 1650.6h0M314.8 1650.0h0M316.3 1649.4h0M317.8 1648.8h0M319.3 1648.2h0M320.8 1647.6h0M322.3 1647.0h0M323.8 1646.4h0M325.3 1645.8h0M326.8 1645.2h0M328.3 1644.6h0M329.8 1644.0h0M331.3 1643.4h0M332.8 1642.8h0M334.3 1642.2h0M335.8 1641.6h0M337.3 1641.0h0M338.8 1640.5h0M340.3 1639.9h0M341.8 1639.3h0M343.3 1638.7h0M344.8 1638.1h0M346.3 1637.5h0M347.8 1636.9h0M349.3 1636.3h0M350.8 1635.7h0M352.3 1635.1h0M353.8 1634.5h0M355.3 1633.9h0M356.8 1633.3h0M358.3 1632.7h0M359.8 1632.1h0M361.3 1631.5h0M362.8 1630.9h0M364.3 1630.3h0M365.8 1629.7h0M367.3 1629.1h0M368.8 1628.5h0M370.3 1627.9h0M371.8 1627.3h0M373.3 1626.7h0M374.8 1626.2h0M376.3 1625.6h0M377.8 1625.0h0M379.3 1624.4h0M380.8 1623.8h0M382.3 1623.2h0M383.8 1622.6h0M385.3 1622.0h0M386.8 1621.4h0M388.3 1620.8h0M389.8 1620.2h0M391.3 1619.6h0M392.8 1619.0h0M394.3 1618.4h0M395.8 1617.8h0M397.3 1617.2h0M398.8 1616.6h0M400.3 1616.0h0M401.8 1615.4h0M403.3 1614.8h0M404.8 1614.2h0M406.3 1613.7h0M407.8 1613.1h0M409.3 1612.6h0M410.8 1612.0h0M412.3 1611.5h0M272.9 2018.5h0M274.4 2019.1h0M275.9 2019.7h0M277.4 2020.4h0M278.9 2021.0h0M280.4 2021.6h0M281.9 2022.2h0M283.4 2022.9h0M284.9 2023.5h0M286.4 2024.1h0M287.9 2024.7h0M289.4 2025.4h0M290.9 2026.0h0M292.4 2026.6h0M293.9 2027.2h0M295.4 2027.9h0M296.9 2028.5h0M298.4 2029.1h0M299.9 2029.8h0M301.4 2030.4h0M302.9 2031.0h0M304.4 2031.6h0M305.9 2032.3h0M307.4 2032.9h0M308.9 2033.5h0M310.4 2034.1h0M311.9 2034.8h0M313.4 2035.4h0M314.9 2036.0h0M316.4 2036.6h0M317.9 2037.3h0M319.4 2037.9h0M320.9 2038.4h0M322.4 2039.0h0M323.9 2039.5h0M325.4 2040.1h0M326.9 2040.6h0M328.4 2041.2h0M329.9 2041.7h0M331.4 2042.3h0M332.9 2042.8h0M334.4 2043.4h0M335.9 2043.9h0M337.4 2044.5h0M338.9 2045.0h0M340.4 2045.5h0" stroke="#000" stroke-width="6" stroke-linecap="round" fill="none"/>
<path d="M235.9 1782.5h0M613.7 1816.6h0M290.1 1859.9h0M539.0 1866.5h0M485.5 1826.4h0M583.8 1846.5h0M183.8 1900.0h0M571.3 1818.7h0M613.2 1824.3h0M401.2 1840.1h0M537.1 1842.0h0M506.3 1792.6h0M545.0 1857.6h0M270.2 1755.0h0M585.0 1857.7h0M463.1 1901.3h0M388.8 1807.0h0M323.3 1880.8h0M693.1 1862.8h0M518.8 1825.1h0M437.5 1786.9h0M353.6 1794.6h0M598.4 1806.3h0M550.4 1818.8h0M500.4 1864.6h0M376.3 1853.4h0M460.6 1820.1h0M384.2 1823.6h0M551.3 1866.7h0M367.8 1799.8h0M500.8 1813.5h0M607.7 1860.9h0M562.0 1852.5h0M572.1 1826.8h0M402.8 1817.3h0M312.2 1816.9h0M363.4 1908.0h0M522.1 1821.8h0M594.0 1843.4h0M550.4 1879.9h0M177.7 1802.2h0M480.8 1879.2h0M461.6 1840.0h0M524.4 1874.7h0M390.5 1844.2h0M463.0 1898.5h0M509.1 1868.7h0M487.7 1810.2h0M577.3 1832.2h0M610.8 1798.6h0M602.1 1858.6h0M335.5 1821.1h0M381.0 1811.1h0M698.9 1850.2h0M449.0 1840.4h0M564.1 1859.1h0M576.7 1873.3h0M389.2 1912.3h0M265.3 1860.4h0M461.8 1793.4h0M197.2 1888.7h0M419.2 1836.7h0M433.2 1826.1h0M258.1 1866.0h0M551.3 1877.2h0M587.2 1846.1h0M351.0 1833.0h0M414.5 1812.0h0M509.0 1866.5h0M319.0 1740.0h0M273.4 1916.8h0M215.2 1840.5h0M409.3 1871.4h0M515.7 1842.4h0M483.0 1887.4h0M360.8 1804.7h0M580.7 1834.1h0M616.7 1824.9h0M298.7 1852.0h0M535.6 1864.0h0M211.0 1810.4h0M196.7 1794.5h0M599.5 1831.1h0M192.7 1894.4h0M446.2 1826.9h0M499.4 1850.2h0M355.3 1853.0h0M467.8 1861.7h0M485.1 1872.4h0M379.0 1843.7h0M441.9 1908.8h0M576.7 1828.1h0M406.2 1777.3h0M508.0 1903.9h0M464.3 1851.5h0M536.6 1807.5h0M258.1 1825.9h0M660.7 1852.1h0M353.8 1811.0h0M234.9 1810.2h0M555.2 1870.0h0M526.3 1828.9h0M374.8 1777.2h0M589.3 1802.5h0M330.5 1804.7h0M334.0 1863.8h0M392.3 1887.3h0M466.1 1824.2h0M624.4 1841.8h0M555.2 1890.4h0M514.7 1834.1h0M518.8 1830.8h0M312.5 1878.9h0M582.8 1844.7h0M525.8 1827.9h0M377.3 1813.2h0M526.9 1843.9h0M475.0 1815.8h0M416.4 1838.3h0M534.7 1822.3h0M625.1 1864.0h0M329.4 1921.7h0M618.8 1827.0h0M361.4 1794.6h0M528.3 1808.0h0M606.8 1838.7h0M303.2 1862.5h0M392.3 1855.4h0M542.0 1872.0h0M439.2 1870.6h0M586.6 1862.1h0M285.0 1860.8h0M217.9 1809.7h0M246.3 1884.3h0M312.6 1900.3h0M522.2 1866.6h0M286.6 1853.1h0M467.1 1813.2h0M285.1 1775.1h0M512.7 1801.3h0M618.9 1879.1h0M378.2 1897.1h0M567.7 1849.0h0M327.3 1787.8h0M257.2 1899.1h0M398.6 1910.0h0M387.8 1865.8h0M217.6 1840.1h0M371.8 1886.6h0M270.6 1842.2h0M249.3 1837.9h0M583.7 1845.5h0M580.6 1885.4h0M595.4 1880.5h0M613.6 1866.5h0M188.3 1822.4h0M400.8 1931.8h0M615.1 1828.2h0M364.6 1890.1h0M488.8 1847.3h0M549.9 1856.5h0M541.8 1826.4h0M557.5 1838.6h0M308.1 1842.9h0M566.6 1860.1h0M581.5 1885.3h0M599.7 1827.5h0M580.3 1854.7h0M671.6 1817.4h0M337.1 1795.0h0M535.3 1848.4h0M652.3 1828.2h0M509.8 1835.9h0M514.0 1829.4h0M203.0 1881.2h0M401.0 1854.2h0M184.1 1881.3h0M508.1 1827.5h0M538.2 1839.2h0M522.2 1850.4h0M614.9 1840.3h0M617.5 1869.0h0M341.0 1866.6h0M420.4 1841.8h0M364.2 1801.9h0M186.7 1827.2h0M535.3 1802.2h0M594.7 1861.7h0M436.0 1853.9h0M487.6 1912.4h0M351.1 1909.3h0M576.1 1831.1h0M373.4 1856.2h0M518.9 1817.1h0M246.2 1804.4h0M549.2 1844.5h0M564.7 1811.2h0M616.4 1854.8h0M443.5 1863.4h0M233.4 1847.0h0M405.0 1890.4h0M633.2 1854.9h0M574.3 1851.7h0M323.4 1761.0h0M623.8 1834.9h0M619.2 1833.6h0M436.4 1872.7h0M644.6 1841.7h0M565.9 1855.6h0M579.2 1848.1h0M475.0 1849.7h0M353.3 1832.5h0M508.4 1879.3h0M487.5 1839.0h0M335.0 1870.2h0M207.3 1854.2h0M273.2 1863.5h0M237.4 1840.2h0M381.6 1833.6h0M390.3 1838.3h0M692.2 1845.5h0M348.0 1852.6h0M574.6 1814.6h0M620.5 1847.4h0M518.5 1867.7h0M431.7 1904.2h0M508.2 1784.3h0M625.0 1854.4h0M422.1 1847.2h0M359.1 1856.4h0M663.6 1850.5h0M320.3 1836.4h0M402.5 1773.3h0M325.2 1919.5h0M516.6 1847.3h0M241.7 1878.2h0M289.8 1790.0h0M277.0 1865.4h0M578.5 1809.1h0M491.8 1799.1h0M419.9 1890.8h0M277.2 1762.6h0M330.2 1871.1h0M491.3 1852.7h0M392.7 1845.0h0M398.5 1749.6h0M353.5 1848.9h0M391.9 1814.2h0M654.7 1854.8h0M334.3 1803.7h0M525.5 1841.5h0M647.5 1850.3h0M357.1 1866.2h0M541.8 1812.4h0M553.4 1861.5h0M253.1 1823.7h0M373.1 1819.7h0M354.2 1858.9h0M332.3 1858.4h0M615.0 1831.7h0M395.2 1848.7h0M619.7 1887.2h0M333.0 1828.3h0M538.1 1853.9h0M275.5 1859.6h0M233.2 1794.6h0M709.7 1852.6h0M538.8 1845.7h0M457.7 1866.8h0M402.7 1873.0h0M482.2 1865.7h0M180.3 1852.4h0M471.0 1851.8h0M487.0 1897.2h0M225.3 1806.1h0M391.5 1910.3h0M551.2 1839.8h0M530.7 1833.6h0M211.1 1841.8h0M555.1 1853.7h0M283.4 1872.3h0M404.8 1805.5h0M435.3 1895.0h0M240.6 1793.0h0M699.9 1880.7h0M587.1 1804.9h0M163.0 1844.0h0M514.6 1853.3h0M486.3 1856.9h0M311.4 1840.7h0M537.6 1882.5h0M324.6 1870.9h0M586.5 1830.2h0M308.2 1833.7h0M268.6 1852.6h0M517.5 1880.2h0M507.4 1883.1h0M251.4 1820.3h0M520.3 1808.0h0M574.2 1793.2h0M588.9 1841.7h0M470.2 1844.0h0M486.6 1788.6h0M264.1 1868.8h0M623.2 1823.6h0M354.1 1898.3h0M365.9 1865.2h0M454.6 1822.1h0M316.6 1863.4h0M232.9 1762.0h0M656.0 1841.7h0M272.0 1812.0h0M729.6 1853.2h0M490.9 1835.7h0M413.2 1907.8h0M577.4 1835.8h0M366.6 1835.7h0M689.3 1828.7h0M274.2 1849.4h0M291.2 1784.0h0M582.1 1842.5h0M299.4 1838.8h0M601.1 1842.9h0M305.1 1824.8h0M478.4 1814.4h0M571.8 1852.2h0M576.2 1797.7h0M616.0 1832.4h0M409.2 1819.2h0M454.3 1813.8h0M374.6 1873.3h0M511.0 1861.2h0M626.2 1848.2h0M356.1 1801.9h0M538.7 1834.0h0M493.8 1825.8h0M589.4 1888.1h0M289.4 1865.9h0M584.8 1822.1h0M398.6 1871.2h0M604.1 1839.9h0M390.9 1807.8h0M375.8 1851.2h0M523.7 1864.1h0M544.1 1869.2h0M280.5 1879.0h0M346.9 1892.4h0M343.0 1780.5h0M417.7 1858.3h0M645.1 1807.2h0M502.4 1813.9h0M585.8 1820.8h0M629.3 1807.9h0M593.0 1824.9h0M348.7 1883.4h0M516.8 1855.2h0M495.3 1900.1h0M518.7 1867.1h0M309.6 1774.5h0M468.5 1817.7h0M499.8 1791.9h0M490.0 1866.8h0M296.1 1792.2h0M544.6 1818.3h0M610.0 1870.4h0M197.5 1905.4h0M601.7 1881.6h0M653.1 1856.8h0M543.4 1858.9h0M181.9 1833.8h0M358.3 1897.6h0M365.1 1895.4h0M512.7 1837.8h0M547.4 1844.0h0M586.9 1859.9h0M186.9 1842.7h0M482.3 1845.4h0M538.2 1877.4h0M479.0 1883.3h0M354.7 1870.7h0M229.9 1839.1h0M350.0 1867.5h0M402.3 1933.7h0M631.5 1854.1h0M561.8 1832.1h0M525.0 1866.5h0M429.2 1834.9h0M382.8 1853.0h0M640.6 1862.3h0M339.6 1862.7h0M714.7 1861.9h0M175.5 1867.9h0M205.2 1839.1h0M622.2 1884.5h0M550.7 1818.1h0M577.5 1837.0h0M183.3 1867.7h0M540.8 1827.1h0M193.7 1908.9h0M349.4 1826.2h0M257.1 1876.7h0M457.7 1847.9h0M541.3 1879.3h0M234.6 1801.4h0M477.5 1830.4h0M679.8 1838.7h0M450.8 1849.9h0M596.1 1880.6h0M546.7 1856.0h0M342.1 1888.9h0M549.4 1875.3h0M380.4 1779.9h0M550.0 1838.5h0M282.3 1869.2h0M563.7 1831.8h0" stroke="#c8941f" stroke-width="7.8" stroke-linecap="round" fill="none"/>
<path d="M301.2 1881.4h0M562.8 1819.3h0M403.2 1879.8h0M483.1 1839.4h0M257.8 1860.3h0M180.5 1815.2h0M307.7 1878.3h0M391.8 1822.3h0M336.4 1819.5h0M680.5 1865.8h0M387.7 1869.9h0M331.1 1875.0h0M514.0 1842.3h0M214.4 1857.0h0M170.4 1838.1h0M550.4 1852.7h0M272.1 1911.1h0M357.3 1818.8h0M336.8 1941.8h0M537.0 1869.3h0M182.7 1895.8h0M357.8 1828.3h0M243.5 1841.2h0M367.4 1805.4h0M217.6 1860.8h0M338.9 1880.1h0M210.4 1890.5h0M494.0 1835.7h0M504.3 1836.3h0M571.6 1834.5h0M365.1 1884.4h0M382.4 1873.0h0M336.2 1797.2h0M275.8 1807.5h0M253.3 1820.7h0M559.0 1814.7h0M519.4 1812.5h0M269.5 1869.3h0M392.2 1845.2h0M325.8 1860.2h0M278.1 1837.2h0M191.7 1809.4h0M538.9 1819.4h0M320.3 1809.6h0M182.8 1829.0h0M589.4 1837.0h0M345.7 1880.0h0M274.8 1891.3h0M294.6 1842.4h0M473.4 1808.2h0M585.8 1863.2h0M477.0 1825.3h0M381.7 1773.2h0M230.5 1780.5h0M174.8 1802.6h0M291.6 1883.4h0M447.5 1794.2h0M236.5 1780.6h0M576.9 1848.7h0M292.9 1857.9h0M365.0 1870.8h0M406.2 1827.3h0M591.7 1832.9h0M443.1 1814.9h0M570.9 1876.6h0M526.4 1859.4h0M503.3 1808.9h0M324.5 1781.7h0M716.2 1862.2h0M426.3 1821.3h0M379.2 1828.7h0M431.0 1778.2h0M420.2 1842.6h0M451.0 1846.6h0M321.4 1836.2h0M395.4 1937.2h0M309.3 1859.8h0M302.6 1857.8h0M469.0 1878.0h0M381.5 1830.1h0M501.9 1835.9h0M265.1 1836.8h0M330.2 1836.1h0M211.9 1836.2h0M206.7 1849.8h0M255.4 1771.7h0M306.3 1869.8h0M333.1 1806.1h0M555.7 1832.9h0M214.8 1837.6h0M201.0 1885.4h0M185.2 1819.3h0M246.4 1870.7h0M301.7 1803.3h0M293.9 1870.9h0M462.8 1892.7h0M187.4 1852.3h0M324.1 1800.6h0M536.4 1841.2h0M237.3 1859.3h0M240.8 1793.0h0M295.5 1842.3h0M389.1 1766.9h0M301.8 1840.7h0M622.7 1850.5h0M341.9 1830.1h0M375.0 1827.2h0M315.8 1889.8h0M427.5 1830.0h0M320.8 1900.7h0M365.3 1901.4h0M322.8 1831.3h0M357.3 1847.2h0M541.7 1876.4h0M531.2 1880.6h0M530.8 1833.8h0M492.0 1812.0h0M400.5 1813.3h0M525.6 1858.0h0M481.2 1860.2h0M714.6 1878.6h0M526.3 1824.6h0M264.2 1888.7h0M247.4 1896.8h0M285.1 1858.1h0M498.4 1850.3h0M235.3 1870.3h0M306.9 1870.6h0M282.7 1820.6h0M185.2 1847.0h0M562.3 1835.7h0M363.8 1823.2h0M262.8 1750.3h0M463.2 1804.8h0M415.2 1851.0h0M178.3 1814.3h0M402.4 1835.0h0M236.7 1840.2h0M492.5 1855.2h0M370.0 1813.9h0M388.5 1917.8h0M271.9 1892.9h0M667.1 1849.4h0M283.1 1825.5h0M571.0 1831.2h0M385.2 1877.7h0M372.2 1846.9h0M382.6 1852.8h0M179.2 1815.4h0M246.4 1836.4h0M242.2 1761.1h0M508.3 1858.4h0M326.2 1796.8h0M289.8 1835.7h0M299.8 1941.2h0M202.0 1847.9h0M167.5 1832.4h0M311.9 1839.9h0M475.7 1819.8h0M388.3 1799.7h0M355.6 1928.9h0M561.3 1884.2h0M485.5 1828.4h0M451.6 1800.7h0M371.9 1851.7h0M295.0 1888.7h0M501.4 1841.5h0M207.9 1910.1h0M288.7 1857.8h0M447.2 1898.5h0M365.1 1875.4h0M276.9 1830.4h0M268.1 1881.4h0M349.0 1836.3h0M614.6 1820.7h0M563.5 1879.6h0M428.9 1847.1h0M672.3 1827.4h0M313.5 1793.2h0M507.3 1824.8h0M506.4 1853.1h0M427.6 1861.2h0M330.5 1772.6h0M550.5 1828.2h0M305.5 1849.0h0M563.6 1866.2h0M403.3 1890.5h0M446.7 1824.1h0M402.2 1803.4h0M298.3 1813.3h0M302.0 1851.9h0M337.5 1903.5h0M335.1 1862.4h0M519.7 1824.0h0M207.7 1843.8h0M597.8 1861.7h0M390.3 1805.9h0M169.5 1829.0h0M553.7 1843.8h0M291.9 1863.4h0M165.0 1844.7h0M257.6 1919.7h0M398.9 1851.0h0M301.6 1797.3h0M258.6 1927.7h0M171.4 1874.0h0M324.6 1858.2h0M306.9 1896.6h0M259.1 1818.0h0M198.7 1896.8h0M532.1 1887.0h0M443.4 1775.5h0M385.4 1796.8h0M203.4 1872.4h0M203.7 1910.1h0M441.4 1821.9h0M247.6 1803.8h0M345.7 1834.0h0M540.1 1896.5h0M544.1 1873.6h0M268.6 1899.1h0M388.6 1876.7h0M565.0 1867.3h0M577.5 1831.1h0M272.5 1890.7h0M347.2 1880.4h0M571.1 1838.7h0M501.0 1793.1h0M576.6 1832.6h0M231.6 1858.0h0M178.0 1833.0h0M234.3 1811.5h0M352.1 1813.0h0M414.8 1816.9h0M333.5 1927.6h0M391.4 1822.0h0M339.5 1881.7h0M378.6 1842.7h0M586.3 1842.2h0M349.7 1835.1h0M339.1 1913.9h0M381.3 1772.0h0M617.5 1805.0h0M540.9 1861.3h0M326.9 1816.4h0M497.8 1845.3h0M258.0 1826.0h0M231.4 1851.5h0M215.4 1865.1h0M492.6 1860.0h0M377.0 1865.5h0M198.3 1912.7h0M531.5 1805.4h0M173.0 1833.9h0M248.6 1833.8h0M291.6 1803.9h0M642.8 1846.0h0M163.8 1834.4h0M316.6 1854.4h0M512.5 1820.6h0M565.2 1872.3h0M529.2 1808.1h0M318.7 1812.6h0M387.5 1867.1h0M326.7 1905.8h0M469.1 1788.5h0M289.0 1818.4h0M642.3 1858.7h0M182.7 1842.7h0M427.3 1899.3h0M579.4 1861.7h0M521.0 1880.0h0M175.7 1865.9h0M536.4 1806.1h0M345.2 1728.1h0M326.5 1788.4h0M509.9 1820.0h0M463.3 1771.3h0M321.5 1790.4h0M516.4 1808.5h0M562.9 1857.1h0M522.5 1866.8h0M422.2 1868.7h0M187.5 1863.3h0M449.9 1868.7h0M594.1 1845.1h0M484.0 1823.1h0" stroke="#b5b5b5" stroke-width="7.8" stroke-linecap="round" fill="none"/>
<path d="M227.8 1772.5h0M594.6 1837.0h0M294.4 1839.0h0M640.8 1833.4h0M203.7 1795.7h0M254.7 1885.5h0M598.9 1831.8h0M173.1 1807.8h0M508.5 1871.5h0M641.1 1885.4h0M571.0 1884.3h0M294.9 1827.0h0M469.2 1858.6h0M708.2 1819.5h0M394.4 1864.3h0M544.1 1803.8h0M323.0 1836.4h0M294.9 1828.8h0M520.2 1823.3h0M385.6 1812.5h0M251.0 1837.3h0M262.0 1856.4h0M370.0 1913.5h0M476.3 1878.0h0M384.2 1867.5h0M381.8 1818.3h0M229.7 1824.4h0M482.0 1779.2h0M262.7 1806.5h0M405.9 1856.6h0M585.9 1869.3h0M371.4 1886.5h0M535.7 1862.6h0M372.9 1922.1h0M337.4 1846.4h0M376.3 1867.0h0M191.8 1831.1h0M343.8 1919.1h0M572.4 1893.8h0M217.4 1838.9h0M517.1 1841.9h0M388.2 1815.7h0M438.1 1902.8h0M563.7 1803.0h0M345.9 1882.1h0M254.2 1875.1h0M581.2 1848.3h0M350.1 1805.4h0" stroke="#e8348e" stroke-width="7.8" stroke-linecap="round" fill="none"/>
<path d="M356.1 1801.2h0M466.8 1846.5h0M382.2 1893.7h0M413.7 1884.6h0M490.3 1844.8h0M629.5 1836.6h0M365.3 1851.3h0M417.7 1838.9h0M360.2 1809.4h0M328.4 1813.7h0M170.3 1817.8h0M463.0 1868.1h0M249.8 1805.0h0M328.9 1851.9h0M323.8 1828.2h0M560.7 1869.4h0M587.9 1863.2h0M624.6 1839.5h0M330.0 1868.0h0M526.3 1847.3h0M191.3 1884.7h0M481.9 1804.8h0M374.4 1759.8h0M191.7 1891.8h0M719.5 1857.1h0M557.6 1803.9h0M233.4 1846.5h0M491.7 1862.4h0M234.0 1921.9h0M264.3 1914.3h0M588.6 1811.9h0M181.9 1836.5h0M182.3 1863.7h0M438.4 1840.7h0M257.6 1887.0h0M575.9 1848.0h0M266.8 1877.2h0M499.0 1893.4h0M478.3 1835.5h0M278.4 1896.1h0M229.9 1820.3h0" stroke="#64c5df" stroke-width="7.8" stroke-linecap="round" fill="none"/>
<path d="M300.7 1819.8h0M316.1 1913.8h0M564.1 1794.8h0M401.6 1865.7h0M394.8 1854.3h0M225.3 1812.3h0M646.2 1842.3h0M317.0 1811.6h0M591.1 1826.8h0M206.8 1811.9h0M207.0 1816.6h0M507.9 1871.5h0M274.8 1871.7h0M386.9 1825.1h0M280.1 1784.8h0M577.4 1857.0h0M420.4 1836.9h0M540.6 1801.7h0M173.5 1815.9h0M548.8 1865.5h0M312.5 1802.7h0M508.0 1873.0h0M450.7 1822.7h0M510.6 1833.3h0M177.6 1852.4h0M441.5 1797.6h0M339.5 1869.0h0M579.0 1834.5h0M591.8 1810.9h0" stroke="#6d8ed4" stroke-width="7.8" stroke-linecap="round" fill="none"/>
<circle cx="527" cy="1568.7" r="3.9" fill="#b5b5b5"/>
<circle cx="778.3" cy="1572.1" r="3.9" fill="#c8941f"/>
<circle cx="406" cy="1613.6" r="3.9" fill="#b5b5b5"/>
<circle cx="354" cy="1634.7" r="3.9" fill="#64c5df"/>
<circle cx="331.3" cy="1642.8" r="3.9" fill="#b5b5b5"/>
<circle cx="421.6" cy="1608" r="3.9" fill="#c8941f"/>
<circle cx="587.8" cy="1700.2" r="3.9" fill="#b5b5b5"/>
<circle cx="511.5" cy="1750.9" r="3.9" fill="#c8941f"/>
<circle cx="290" cy="2025.8" r="3.9" fill="#c8941f"/>
<circle cx="334.8" cy="2042" r="3.9" fill="#6d8ed4"/>
<circle cx="328" cy="2042" r="3.9" fill="#b5b5b5"/>
<circle cx="583.1" cy="1738.1" r="3.9" fill="#c8941f"/>
<circle cx="872.5" cy="1843.6" r="3.9" fill="#c8941f"/>
<circle cx="826.6" cy="1849.7" r="3.9" fill="#c8941f"/>
<circle cx="763" cy="1822" r="3.9" fill="#e8348e"/>
<circle cx="204.7" cy="1701.2" r="3.9" fill="#b5b5b5"/>
<circle cx="264.7" cy="1670.4" r="3.9" fill="#64c5df"/>
<circle cx="294" cy="1657.4" r="3.9" fill="#b5b5b5"/>
<circle cx="311.8" cy="1650.9" r="3.9" fill="#b5b5b5"/>
<circle cx="182" cy="1971.7" r="3.9" fill="#b5b5b5"/>
<circle cx="190" cy="1975.8" r="3.9" fill="#b5b5b5"/>
<circle cx="198.2" cy="1981.2" r="3.9" fill="#b5b5b5"/>
<circle cx="209" cy="1986.6" r="3.9" fill="#c8941f"/>
<circle cx="215.8" cy="1990.7" r="3.9" fill="#b5b5b5"/>
<circle cx="225.2" cy="1996" r="3.9" fill="#b5b5b5"/>
<circle cx="236" cy="2001.5" r="3.9" fill="#b5b5b5"/>
<circle cx="249.6" cy="2008.2" r="3.9" fill="#b5b5b5"/>
<circle cx="260.4" cy="2013.7" r="3.9" fill="#b5b5b5"/>
<circle cx="295.6" cy="2028.5" r="3.9" fill="#b5b5b5"/>
<circle cx="226.6" cy="1952.8" r="3.9" fill="#b5b5b5"/>
<circle cx="238.8" cy="1959.5" r="3.9" fill="#c8941f"/>
<circle cx="283.4" cy="1979.8" r="3.9" fill="#b5b5b5"/>
<circle cx="187.4" cy="1916.2" r="3.9" fill="#6d8ed4"/>
<rect x="117.4" y="873" width="1112" height="575.5" fill="none" stroke="#1a1a1a" stroke-width="1.6"/>
<line x1="99" y1="942.9" x2="117.4" y2="942.9" stroke="#1a1a1a" stroke-width="1.6"/>
<text transform="translate(93.9 942.9) rotate(-90)" class="r" font-size="22.5" text-anchor="middle">10</text>
<line x1="99" y1="1062.2" x2="117.4" y2="1062.2" stroke="#1a1a1a" stroke-width="1.6"/>
<text transform="translate(93.9 1062.2) rotate(-90)" class="r" font-size="22.5" text-anchor="middle">5</text>
<line x1="99" y1="1181.5" x2="117.4" y2="1181.5" stroke="#1a1a1a" stroke-width="1.6"/>
<text transform="translate(93.9 1181.5) rotate(-90)" class="r" font-size="22.5" text-anchor="middle">0</text>
<line x1="99" y1="1300.8" x2="117.4" y2="1300.8" stroke="#1a1a1a" stroke-width="1.6"/>
<text transform="translate(93.9 1300.8) rotate(-90)" class="r" font-size="22.5" text-anchor="middle">-5</text>
<line x1="99" y1="1420.1" x2="117.4" y2="1420.1" stroke="#1a1a1a" stroke-width="1.6"/>
<text transform="translate(93.9 1420.1) rotate(-90)" class="r" font-size="22.5" text-anchor="middle">-10</text>
<line x1="169.3" y1="1448.5" x2="169.3" y2="1465.0" stroke="#1a1a1a" stroke-width="1.6"/>
<text x="169.3" y="1491.7" class="r" font-size="21.5" text-anchor="middle">0</text>
<line x1="495.0" y1="1448.5" x2="495.0" y2="1465.0" stroke="#1a1a1a" stroke-width="1.6"/>
<text x="495.0" y="1491.7" class="r" font-size="21.5" text-anchor="middle">5</text>
<line x1="820.7" y1="1448.5" x2="820.7" y2="1465.0" stroke="#1a1a1a" stroke-width="1.6"/>
<text x="820.7" y="1491.7" class="r" font-size="21.5" text-anchor="middle">10</text>
<line x1="1146.4" y1="1448.5" x2="1146.4" y2="1465.0" stroke="#1a1a1a" stroke-width="1.6"/>
<text x="1146.4" y="1491.7" class="r" font-size="21.5" text-anchor="middle">15</text>
<text x="580.20" y="1507.60" class="r" font-size="23.11" fill="#1a1a1a" textLength="186.81" lengthAdjust="spacingAndGlyphs">Average logCPM</text>
<g transform="translate(67.7 0) rotate(-90)"><text x="-1194.02" y="0.00" class="r" font-size="25.15" fill="#1a1a1a" textLength="66.35" lengthAdjust="spacingAndGlyphs">logFC</text></g>
<rect x="117.4" y="1534" width="1112" height="575.5" fill="none" stroke="#1a1a1a" stroke-width="1.6"/>
<line x1="99" y1="1604.4" x2="117.4" y2="1604.4" stroke="#1a1a1a" stroke-width="1.6"/>
<text transform="translate(93.9 1604.4) rotate(-90)" class="r" font-size="22.5" text-anchor="middle">10</text>
<line x1="99" y1="1723.7" x2="117.4" y2="1723.7" stroke="#1a1a1a" stroke-width="1.6"/>
<text transform="translate(93.9 1723.7) rotate(-90)" class="r" font-size="22.5" text-anchor="middle">5</text>
<line x1="99" y1="1843.0" x2="117.4" y2="1843.0" stroke="#1a1a1a" stroke-width="1.6"/>
<text transform="translate(93.9 1843.0) rotate(-90)" class="r" font-size="22.5" text-anchor="middle">0</text>
<line x1="99" y1="1962.3" x2="117.4" y2="1962.3" stroke="#1a1a1a" stroke-width="1.6"/>
<text transform="translate(93.9 1962.3) rotate(-90)" class="r" font-size="22.5" text-anchor="middle">-5</text>
<line x1="99" y1="2081.6" x2="117.4" y2="2081.6" stroke="#1a1a1a" stroke-width="1.6"/>
<text transform="translate(93.9 2081.6) rotate(-90)" class="r" font-size="22.5" text-anchor="middle">-10</text>
<line x1="169.3" y1="2109.5" x2="169.3" y2="2126.0" stroke="#1a1a1a" stroke-width="1.6"/>
<text x="169.3" y="2152.7" class="r" font-size="21.5" text-anchor="middle">0</text>
<line x1="495.0" y1="2109.5" x2="495.0" y2="2126.0" stroke="#1a1a1a" stroke-width="1.6"/>
<text x="495.0" y="2152.7" class="r" font-size="21.5" text-anchor="middle">5</text>
<line x1="820.7" y1="2109.5" x2="820.7" y2="2126.0" stroke="#1a1a1a" stroke-width="1.6"/>
<text x="820.7" y="2152.7" class="r" font-size="21.5" text-anchor="middle">10</text>
<line x1="1146.4" y1="2109.5" x2="1146.4" y2="2126.0" stroke="#1a1a1a" stroke-width="1.6"/>
<text x="1146.4" y="2152.7" class="r" font-size="21.5" text-anchor="middle">15</text>
<text x="580.20" y="2169.10" class="r" font-size="23.11" fill="#1a1a1a" textLength="186.81" lengthAdjust="spacingAndGlyphs">Average logCPM</text>
<g transform="translate(67.7 0) rotate(-90)"><text x="-1855.52" y="0.00" class="r" font-size="25.15" fill="#1a1a1a" textLength="66.35" lengthAdjust="spacingAndGlyphs">logFC</text></g>
<line x1="118.2" y1="1147.1" x2="1228.6" y2="1147.1" stroke="#56b03a" stroke-width="1.9"/>
<line x1="118.2" y1="1219.2" x2="1228.6" y2="1219.2" stroke="#56b03a" stroke-width="1.9"/>
<line x1="118.2" y1="1808.6" x2="1228.6" y2="1808.6" stroke="#56b03a" stroke-width="1.9"/>
<line x1="118.2" y1="1880.7" x2="1228.6" y2="1880.7" stroke="#56b03a" stroke-width="1.9"/>
<text x="570.96" y="899.20" class="r" font-style="italic" font-size="29.07" fill="#111" textLength="215.98" lengthAdjust="spacingAndGlyphs">CTD-2144E22.9</text>
<text x="530.11" y="928.00" class="r" font-style="italic" font-size="29.07" fill="#111" textLength="96.98" lengthAdjust="spacingAndGlyphs">FAM9A</text>
<text x="783.74" y="923.60" class="r" font-style="italic" font-size="29.07" fill="#111" textLength="64.89" lengthAdjust="spacingAndGlyphs">XIST</text>
<text x="462.50" y="957.80" class="r" font-style="italic" font-size="29.07" fill="#111" textLength="151.78" lengthAdjust="spacingAndGlyphs">LINC01239</text>
<text x="584.49" y="1015.80" class="r" font-style="italic" font-size="29.07" fill="#111" textLength="82.30" lengthAdjust="spacingAndGlyphs">FOSB</text>
<text x="640.97" y="1086.50" class="r" font-style="italic" font-size="29.07" fill="#111" textLength="96.41" lengthAdjust="spacingAndGlyphs">ADAP1</text>
<text x="573.70" y="1118.70" class="r" font-style="italic" font-size="29.07" fill="#111" textLength="133.80" lengthAdjust="spacingAndGlyphs">HELLPAR</text>
<text x="728.61" y="1118.30" class="r" font-style="italic" font-size="29.07" fill="#111" textLength="87.80" lengthAdjust="spacingAndGlyphs">MT-TY</text>
<text x="846.10" y="1139.30" class="r" font-style="italic" font-size="29.07" fill="#111" textLength="75.20" lengthAdjust="spacingAndGlyphs">DLK1</text>
<text x="984.00" y="1138.60" class="r" font-style="italic" font-size="29.07" fill="#111" textLength="66.53" lengthAdjust="spacingAndGlyphs">IGF2</text>
<text x="721.10" y="1241.60" class="r" font-style="italic" font-size="29.07" fill="#111" textLength="97.97" lengthAdjust="spacingAndGlyphs">MYH11</text>
<text x="629.81" y="1269.90" class="r" font-style="italic" font-size="29.07" fill="#111" textLength="138.11" lengthAdjust="spacingAndGlyphs">SNORA47</text>
<text x="349.88" y="1351.00" class="r" font-style="italic" font-size="29.07" fill="#111" textLength="164.36" lengthAdjust="spacingAndGlyphs">AC009120.4</text>
<text x="409.63" y="1419.10" class="r" font-style="italic" font-size="29.07" fill="#111" textLength="63.65" lengthAdjust="spacingAndGlyphs">GLI1</text>
<text x="578.11" y="1436.50" class="r" font-style="italic" font-size="29.07" fill="#111" textLength="92.39" lengthAdjust="spacingAndGlyphs">IGHG3</text>
<text x="840.83" y="1400.30" class="r" font-style="italic" font-size="29.07" fill="#111" textLength="71.62" lengthAdjust="spacingAndGlyphs">IGKC</text>
<line x1="625.7" y1="1122.6" x2="625.7" y2="1134.5" stroke="#000" stroke-width="3.2"/>
<line x1="708.5" y1="1138" x2="725.5" y2="1117.7" stroke="#000" stroke-width="3.2"/>
<line x1="602.7" y1="1242.6" x2="629" y2="1256.2" stroke="#000" stroke-width="3.2"/>
<rect x="876.4" y="873.4" width="353.3" height="45.8" fill="#fff" stroke="#1a1a1a" stroke-width="1.7"/>
<circle cx="893.3" cy="896" r="4" fill="#dc2a26"/>
<text x="909.90" y="903.20" class="r" font-size="19.48" fill="#1a1a1a" textLength="312.04" lengthAdjust="spacingAndGlyphs">Differentially regulated (p-value&lt;0.01)</text>
<text x="398.61" y="1566.50" class="r" font-style="italic" font-size="29.07" fill="#111" textLength="100.32" lengthAdjust="spacingAndGlyphs">DACH2</text>
<text x="289.80" y="1585.00" class="r" font-style="italic" font-size="29.07" fill="#111" textLength="103.06" lengthAdjust="spacingAndGlyphs">PNMA5</text>
<text x="210.32" y="1623.30" class="r" font-style="italic" font-size="29.07" fill="#111" textLength="117.89" lengthAdjust="spacingAndGlyphs">SAGE4P</text>
<text x="426.11" y="1631.40" class="r" font-style="italic" font-size="29.07" fill="#111" textLength="115.64" lengthAdjust="spacingAndGlyphs">POU3F4</text>
<text x="354.82" y="1659.00" class="r" font-style="italic" font-size="29.07" fill="#111" textLength="100.58" lengthAdjust="spacingAndGlyphs">FRMD7</text>
<text x="531.12" y="1586.00" class="r" font-style="italic" font-size="29.07" fill="#111" textLength="95.34" lengthAdjust="spacingAndGlyphs">FAM9A</text>
<text x="785.04" y="1585.60" class="r" font-style="italic" font-size="29.07" fill="#111" textLength="65.86" lengthAdjust="spacingAndGlyphs">XIST</text>
<text x="596.11" y="1709.30" class="r" font-style="italic" font-size="29.07" fill="#111" textLength="196.79" lengthAdjust="spacingAndGlyphs">RP11-38O23.4</text>
<text x="546.44" y="1759.70" class="r" font-style="italic" font-size="29.07" fill="#111" textLength="75.48" lengthAdjust="spacingAndGlyphs">APLN</text>
<text x="328.51" y="2012.30" class="r" font-style="italic" font-size="29.07" fill="#111" textLength="117.45" lengthAdjust="spacingAndGlyphs">LONFR3</text>
<text x="121.50" y="2052.90" class="r" font-style="italic" font-size="29.07" fill="#111" textLength="147.68" lengthAdjust="spacingAndGlyphs">PRKX-AS1</text>
<text x="384.98" y="2036.60" class="r" font-style="italic" font-size="29.07" fill="#111" textLength="164.14" lengthAdjust="spacingAndGlyphs">ASMTL-AS2</text>
<text x="248.11" y="2082.70" class="r" font-style="italic" font-size="29.07" fill="#111" textLength="190.69" lengthAdjust="spacingAndGlyphs">RAB11FIP1P1</text>
<line x1="415.7" y1="1569.7" x2="407" y2="1610.3" stroke="#000" stroke-width="3.2"/>
<line x1="367.7" y1="1587.6" x2="359" y2="1629.8" stroke="#000" stroke-width="3.2"/>
<line x1="295" y1="1627.2" x2="331.3" y2="1641.2" stroke="#000" stroke-width="3.2"/>
<line x1="516.4" y1="1750.9" x2="545.6" y2="1750.9" stroke="#000" stroke-width="3.2"/>
<line x1="325.4" y1="2010.4" x2="290.2" y2="2025.8" stroke="#000" stroke-width="3.2"/>
<line x1="268.5" y1="2041.5" x2="295.6" y2="2027.2" stroke="#000" stroke-width="3.2"/>
<line x1="384.9" y1="2021.8" x2="334.8" y2="2042" stroke="#000" stroke-width="3.2"/>
<line x1="287.5" y1="2059.7" x2="328" y2="2042" stroke="#000" stroke-width="3.2"/>
<rect x="1024.9" y="1971.5" width="204.8" height="137.9" fill="#fff" stroke="#1a1a1a" stroke-width="1.7"/>
<circle cx="1041.7" cy="1994.2" r="3.8" fill="#6d8ed4"/>
<text x="1059.31" y="2001.70" class="r" font-size="19.04" fill="#1a1a1a" textLength="57.41" lengthAdjust="spacingAndGlyphs">X PAR</text>
<circle cx="1041.7" cy="2017.2" r="3.8" fill="#e8348e"/>
<text x="1059.33" y="2024.73" class="r" font-size="19.04" fill="#1a1a1a" textLength="78.41" lengthAdjust="spacingAndGlyphs">X escape</text>
<circle cx="1041.7" cy="2040.3" r="3.8" fill="#64c5df"/>
<text x="1059.34" y="2047.76" class="r" font-size="19.04" fill="#1a1a1a" textLength="147.49" lengthAdjust="spacingAndGlyphs">X variable escape</text>
<circle cx="1041.7" cy="2063.3" r="3.8" fill="#c8941f"/>
<text x="1059.33" y="2070.79" class="r" font-size="19.04" fill="#1a1a1a" textLength="106.79" lengthAdjust="spacingAndGlyphs">X inactivated</text>
<circle cx="1041.7" cy="2086.3" r="3.8" fill="#b5b5b5"/>
<text x="1059.33" y="2093.82" class="r" font-size="19.04" fill="#1a1a1a" textLength="161.72" lengthAdjust="spacingAndGlyphs">X no/uncertain data</text>
<text x="1276.29" y="52.20" class="b" font-size="51.60" fill="#1a1a1a" textLength="30.87" lengthAdjust="spacingAndGlyphs" stroke="#1a1a1a" stroke-width="1.3">C</text>
<rect x="1482.10" y="64.10" width="83.10" height="6.33" fill="#fce6a4"/>
<rect x="1567.40" y="64.10" width="83.10" height="6.33" fill="#e34c3a"/>
<rect x="1652.70" y="64.10" width="83.10" height="6.33" fill="#f29a5f"/>
<rect x="1738.00" y="64.10" width="83.10" height="6.33" fill="#93cbe1"/>
<rect x="1823.30" y="64.10" width="83.10" height="6.33" fill="#93cbe1"/>
<rect x="1908.60" y="64.10" width="83.10" height="6.33" fill="#93cbe1"/>
<rect x="1482.10" y="72.43" width="83.10" height="6.33" fill="#fce6a4"/>
<rect x="1567.40" y="72.43" width="83.10" height="6.33" fill="#e34c3a"/>
<rect x="1652.70" y="72.43" width="83.10" height="6.33" fill="#f29a5f"/>
<rect x="1738.00" y="72.43" width="83.10" height="6.33" fill="#93cbe1"/>
<rect x="1823.30" y="72.43" width="83.10" height="6.33" fill="#93cbe1"/>
<rect x="1908.60" y="72.43" width="83.10" height="6.33" fill="#93cbe1"/>
<rect x="1482.10" y="80.76" width="83.10" height="6.33" fill="#fce6a4"/>
<rect x="1567.40" y="80.76" width="83.10" height="6.33" fill="#e34c3a"/>
<rect x="1652.70" y="80.76" width="83.10" height="6.33" fill="#f29a5f"/>
<rect x="1738.00" y="80.76" width="83.10" height="6.33" fill="#93cbe1"/>
<rect x="1823.30" y="80.76" width="83.10" height="6.33" fill="#93cbe1"/>
<rect x="1908.60" y="80.76" width="83.10" height="6.33" fill="#93cbe1"/>
<rect x="1482.10" y="89.10" width="83.10" height="6.33" fill="#f5f2c9"/>
<rect x="1567.40" y="89.10" width="83.10" height="6.33" fill="#e34c3a"/>
<rect x="1652.70" y="89.10" width="83.10" height="6.33" fill="#f29a5f"/>
<rect x="1738.00" y="89.10" width="83.10" height="6.33" fill="#93cbe1"/>
<rect x="1823.30" y="89.10" width="83.10" height="6.33" fill="#93cbe1"/>
<rect x="1908.60" y="89.10" width="83.10" height="6.33" fill="#93cbe1"/>
<rect x="1482.10" y="97.43" width="83.10" height="6.33" fill="#f5f2c9"/>
<rect x="1567.40" y="97.43" width="83.10" height="6.33" fill="#e34c3a"/>
<rect x="1652.70" y="97.43" width="83.10" height="6.33" fill="#f29a5f"/>
<rect x="1738.00" y="97.43" width="83.10" height="6.33" fill="#93cbe1"/>
<rect x="1823.30" y="97.43" width="83.10" height="6.33" fill="#aed7e7"/>
<rect x="1908.60" y="97.43" width="83.10" height="6.33" fill="#93cbe1"/>
<rect x="1482.10" y="105.76" width="83.10" height="6.33" fill="#f5f2c9"/>
<rect x="1567.40" y="105.76" width="83.10" height="6.33" fill="#ea6a48"/>
<rect x="1652.70" y="105.76" width="83.10" height="6.33" fill="#ea6a48"/>
<rect x="1738.00" y="105.76" width="83.10" height="6.33" fill="#93cbe1"/>
<rect x="1823.30" y="105.76" width="83.10" height="6.33" fill="#93cbe1"/>
<rect x="1908.60" y="105.76" width="83.10" height="6.33" fill="#93cbe1"/>
<rect x="1482.10" y="114.09" width="83.10" height="6.33" fill="#e6f1e8"/>
<rect x="1567.40" y="114.09" width="83.10" height="6.33" fill="#e34c3a"/>
<rect x="1652.70" y="114.09" width="83.10" height="6.33" fill="#ea6a48"/>
<rect x="1738.00" y="114.09" width="83.10" height="6.33" fill="#93cbe1"/>
<rect x="1823.30" y="114.09" width="83.10" height="6.33" fill="#93cbe1"/>
<rect x="1908.60" y="114.09" width="83.10" height="6.33" fill="#93cbe1"/>
<rect x="1482.10" y="122.43" width="83.10" height="6.33" fill="#cde6ee"/>
<rect x="1567.40" y="122.43" width="83.10" height="6.33" fill="#d82628"/>
<rect x="1652.70" y="122.43" width="83.10" height="6.33" fill="#f29a5f"/>
<rect x="1738.00" y="122.43" width="83.10" height="6.33" fill="#93cbe1"/>
<rect x="1823.30" y="122.43" width="83.10" height="6.33" fill="#cde6ee"/>
<rect x="1908.60" y="122.43" width="83.10" height="6.33" fill="#93cbe1"/>
<rect x="1482.10" y="130.76" width="83.10" height="6.33" fill="#e6f1e8"/>
<rect x="1567.40" y="130.76" width="83.10" height="6.33" fill="#d82628"/>
<rect x="1652.70" y="130.76" width="83.10" height="6.33" fill="#f29a5f"/>
<rect x="1738.00" y="130.76" width="83.10" height="6.33" fill="#93cbe1"/>
<rect x="1823.30" y="130.76" width="83.10" height="6.33" fill="#93cbe1"/>
<rect x="1908.60" y="130.76" width="83.10" height="6.33" fill="#93cbe1"/>
<rect x="1482.10" y="139.09" width="83.10" height="6.33" fill="#fce6a4"/>
<rect x="1567.40" y="139.09" width="83.10" height="6.33" fill="#d82628"/>
<rect x="1652.70" y="139.09" width="83.10" height="6.33" fill="#f9c27e"/>
<rect x="1738.00" y="139.09" width="83.10" height="6.33" fill="#93cbe1"/>
<rect x="1823.30" y="139.09" width="83.10" height="6.33" fill="#93cbe1"/>
<rect x="1908.60" y="139.09" width="83.10" height="6.33" fill="#93cbe1"/>
<rect x="1482.10" y="147.42" width="83.10" height="6.33" fill="#f5f2c9"/>
<rect x="1567.40" y="147.42" width="83.10" height="6.33" fill="#d82628"/>
<rect x="1652.70" y="147.42" width="83.10" height="6.33" fill="#f29a5f"/>
<rect x="1738.00" y="147.42" width="83.10" height="6.33" fill="#93cbe1"/>
<rect x="1823.30" y="147.42" width="83.10" height="6.33" fill="#93cbe1"/>
<rect x="1908.60" y="147.42" width="83.10" height="6.33" fill="#cde6ee"/>
<rect x="1482.10" y="155.76" width="83.10" height="6.33" fill="#e6f1e8"/>
<rect x="1567.40" y="155.76" width="83.10" height="6.33" fill="#d82628"/>
<rect x="1652.70" y="155.76" width="83.10" height="6.33" fill="#f9c27e"/>
<rect x="1738.00" y="155.76" width="83.10" height="6.33" fill="#aed7e7"/>
<rect x="1823.30" y="155.76" width="83.10" height="6.33" fill="#aed7e7"/>
<rect x="1908.60" y="155.76" width="83.10" height="6.33" fill="#72bbda"/>
<rect x="1482.10" y="164.09" width="83.10" height="6.33" fill="#f5f2c9"/>
<rect x="1567.40" y="164.09" width="83.10" height="6.33" fill="#ea6a48"/>
<rect x="1652.70" y="164.09" width="83.10" height="6.33" fill="#ea6a48"/>
<rect x="1738.00" y="164.09" width="83.10" height="6.33" fill="#e6f1e8"/>
<rect x="1823.30" y="164.09" width="83.10" height="6.33" fill="#72bbda"/>
<rect x="1908.60" y="164.09" width="83.10" height="6.33" fill="#72bbda"/>
<rect x="1482.10" y="172.42" width="83.10" height="6.33" fill="#f5f2c9"/>
<rect x="1567.40" y="172.42" width="83.10" height="6.33" fill="#e34c3a"/>
<rect x="1652.70" y="172.42" width="83.10" height="6.33" fill="#ea6a48"/>
<rect x="1738.00" y="172.42" width="83.10" height="6.33" fill="#cde6ee"/>
<rect x="1823.30" y="172.42" width="83.10" height="6.33" fill="#72bbda"/>
<rect x="1908.60" y="172.42" width="83.10" height="6.33" fill="#72bbda"/>
<rect x="1482.10" y="180.75" width="83.10" height="6.33" fill="#fce6a4"/>
<rect x="1567.40" y="180.75" width="83.10" height="6.33" fill="#e34c3a"/>
<rect x="1652.70" y="180.75" width="83.10" height="6.33" fill="#ea6a48"/>
<rect x="1738.00" y="180.75" width="83.10" height="6.33" fill="#4a9ccc"/>
<rect x="1823.30" y="180.75" width="83.10" height="6.33" fill="#aed7e7"/>
<rect x="1908.60" y="180.75" width="83.10" height="6.33" fill="#93cbe1"/>
<rect x="1482.10" y="189.09" width="83.10" height="6.33" fill="#f5f2c9"/>
<rect x="1567.40" y="189.09" width="83.10" height="6.33" fill="#e34c3a"/>
<rect x="1652.70" y="189.09" width="83.10" height="6.33" fill="#ea6a48"/>
<rect x="1738.00" y="189.09" width="83.10" height="6.33" fill="#72bbda"/>
<rect x="1823.30" y="189.09" width="83.10" height="6.33" fill="#aed7e7"/>
<rect x="1908.60" y="189.09" width="83.10" height="6.33" fill="#72bbda"/>
<rect x="1482.10" y="197.42" width="83.10" height="6.33" fill="#f5f2c9"/>
<rect x="1567.40" y="197.42" width="83.10" height="6.33" fill="#ea6a48"/>
<rect x="1652.70" y="197.42" width="83.10" height="6.33" fill="#e34c3a"/>
<rect x="1738.00" y="197.42" width="83.10" height="6.33" fill="#72bbda"/>
<rect x="1823.30" y="197.42" width="83.10" height="6.33" fill="#cde6ee"/>
<rect x="1908.60" y="197.42" width="83.10" height="6.33" fill="#72bbda"/>
<rect x="1482.10" y="205.75" width="83.10" height="6.33" fill="#fce6a4"/>
<rect x="1567.40" y="205.75" width="83.10" height="6.33" fill="#e34c3a"/>
<rect x="1652.70" y="205.75" width="83.10" height="6.33" fill="#f29a5f"/>
<rect x="1738.00" y="205.75" width="83.10" height="6.33" fill="#72bbda"/>
<rect x="1823.30" y="205.75" width="83.10" height="6.33" fill="#e6f1e8"/>
<rect x="1908.60" y="205.75" width="83.10" height="6.33" fill="#72bbda"/>
<rect x="1482.10" y="214.08" width="83.10" height="6.33" fill="#fce6a4"/>
<rect x="1567.40" y="214.08" width="83.10" height="6.33" fill="#e34c3a"/>
<rect x="1652.70" y="214.08" width="83.10" height="6.33" fill="#f29a5f"/>
<rect x="1738.00" y="214.08" width="83.10" height="6.33" fill="#72bbda"/>
<rect x="1823.30" y="214.08" width="83.10" height="6.33" fill="#e6f1e8"/>
<rect x="1908.60" y="214.08" width="83.10" height="6.33" fill="#4a9ccc"/>
<rect x="1482.10" y="222.41" width="83.10" height="6.33" fill="#f5f2c9"/>
<rect x="1567.40" y="222.41" width="83.10" height="6.33" fill="#d82628"/>
<rect x="1652.70" y="222.41" width="83.10" height="6.33" fill="#f29a5f"/>
<rect x="1738.00" y="222.41" width="83.10" height="6.33" fill="#93cbe1"/>
<rect x="1823.30" y="222.41" width="83.10" height="6.33" fill="#e6f1e8"/>
<rect x="1908.60" y="222.41" width="83.10" height="6.33" fill="#4a9ccc"/>
<rect x="1482.10" y="230.75" width="83.10" height="6.33" fill="#fce6a4"/>
<rect x="1567.40" y="230.75" width="83.10" height="6.33" fill="#d82628"/>
<rect x="1652.70" y="230.75" width="83.10" height="6.33" fill="#f9c27e"/>
<rect x="1738.00" y="230.75" width="83.10" height="6.33" fill="#72bbda"/>
<rect x="1823.30" y="230.75" width="83.10" height="6.33" fill="#e6f1e8"/>
<rect x="1908.60" y="230.75" width="83.10" height="6.33" fill="#72bbda"/>
<rect x="1482.10" y="239.08" width="83.10" height="6.33" fill="#f9c27e"/>
<rect x="1567.40" y="239.08" width="83.10" height="6.33" fill="#e34c3a"/>
<rect x="1652.70" y="239.08" width="83.10" height="6.33" fill="#f29a5f"/>
<rect x="1738.00" y="239.08" width="83.10" height="6.33" fill="#93cbe1"/>
<rect x="1823.30" y="239.08" width="83.10" height="6.33" fill="#93cbe1"/>
<rect x="1908.60" y="239.08" width="83.10" height="6.33" fill="#4a9ccc"/>
<rect x="1482.10" y="247.41" width="83.10" height="6.33" fill="#fce6a4"/>
<rect x="1567.40" y="247.41" width="83.10" height="6.33" fill="#e34c3a"/>
<rect x="1652.70" y="247.41" width="83.10" height="6.33" fill="#f29a5f"/>
<rect x="1738.00" y="247.41" width="83.10" height="6.33" fill="#72bbda"/>
<rect x="1823.30" y="247.41" width="83.10" height="6.33" fill="#cde6ee"/>
<rect x="1908.60" y="247.41" width="83.10" height="6.33" fill="#4a9ccc"/>
<rect x="1482.10" y="255.74" width="83.10" height="6.33" fill="#fce6a4"/>
<rect x="1567.40" y="255.74" width="83.10" height="6.33" fill="#e34c3a"/>
<rect x="1652.70" y="255.74" width="83.10" height="6.33" fill="#f29a5f"/>
<rect x="1738.00" y="255.74" width="83.10" height="6.33" fill="#cde6ee"/>
<rect x="1823.30" y="255.74" width="83.10" height="6.33" fill="#e6f1e8"/>
<rect x="1908.60" y="255.74" width="83.10" height="6.33" fill="#2475b5"/>
<rect x="1482.10" y="264.08" width="83.10" height="6.33" fill="#fce6a4"/>
<rect x="1567.40" y="264.08" width="83.10" height="6.33" fill="#d82628"/>
<rect x="1652.70" y="264.08" width="83.10" height="6.33" fill="#f9c27e"/>
<rect x="1738.00" y="264.08" width="83.10" height="6.33" fill="#e6f1e8"/>
<rect x="1823.30" y="264.08" width="83.10" height="6.33" fill="#93cbe1"/>
<rect x="1908.60" y="264.08" width="83.10" height="6.33" fill="#4a9ccc"/>
<rect x="1482.10" y="272.41" width="83.10" height="6.33" fill="#e6f1e8"/>
<rect x="1567.40" y="272.41" width="83.10" height="6.33" fill="#ea6a48"/>
<rect x="1652.70" y="272.41" width="83.10" height="6.33" fill="#ea6a48"/>
<rect x="1738.00" y="272.41" width="83.10" height="6.33" fill="#e6f1e8"/>
<rect x="1823.30" y="272.41" width="83.10" height="6.33" fill="#cde6ee"/>
<rect x="1908.60" y="272.41" width="83.10" height="6.33" fill="#2475b5"/>
<rect x="1482.10" y="280.74" width="83.10" height="6.33" fill="#fce6a4"/>
<rect x="1567.40" y="280.74" width="83.10" height="6.33" fill="#f29a5f"/>
<rect x="1652.70" y="280.74" width="83.10" height="6.33" fill="#ea6a48"/>
<rect x="1738.00" y="280.74" width="83.10" height="6.33" fill="#2475b5"/>
<rect x="1823.30" y="280.74" width="83.10" height="6.33" fill="#e6f1e8"/>
<rect x="1908.60" y="280.74" width="83.10" height="6.33" fill="#93cbe1"/>
<rect x="1482.10" y="289.07" width="83.10" height="6.33" fill="#fce6a4"/>
<rect x="1567.40" y="289.07" width="83.10" height="6.33" fill="#f29a5f"/>
<rect x="1652.70" y="289.07" width="83.10" height="6.33" fill="#ea6a48"/>
<rect x="1738.00" y="289.07" width="83.10" height="6.33" fill="#4a9ccc"/>
<rect x="1823.30" y="289.07" width="83.10" height="6.33" fill="#f5f2c9"/>
<rect x="1908.60" y="289.07" width="83.10" height="6.33" fill="#4a9ccc"/>
<rect x="1482.10" y="297.41" width="83.10" height="6.33" fill="#fce6a4"/>
<rect x="1567.40" y="297.41" width="83.10" height="6.33" fill="#d82628"/>
<rect x="1652.70" y="297.41" width="83.10" height="6.33" fill="#f9c27e"/>
<rect x="1738.00" y="297.41" width="83.10" height="6.33" fill="#93cbe1"/>
<rect x="1823.30" y="297.41" width="83.10" height="6.33" fill="#93cbe1"/>
<rect x="1908.60" y="297.41" width="83.10" height="6.33" fill="#93cbe1"/>
<rect x="1482.10" y="305.74" width="83.10" height="6.33" fill="#aed7e7"/>
<rect x="1567.40" y="305.74" width="83.10" height="6.33" fill="#e34c3a"/>
<rect x="1652.70" y="305.74" width="83.10" height="6.33" fill="#f29a5f"/>
<rect x="1738.00" y="305.74" width="83.10" height="6.33" fill="#aed7e7"/>
<rect x="1823.30" y="305.74" width="83.10" height="6.33" fill="#aed7e7"/>
<rect x="1908.60" y="305.74" width="83.10" height="6.33" fill="#aed7e7"/>
<rect x="1482.10" y="314.07" width="83.10" height="6.33" fill="#aed7e7"/>
<rect x="1567.40" y="314.07" width="83.10" height="6.33" fill="#e34c3a"/>
<rect x="1652.70" y="314.07" width="83.10" height="6.33" fill="#f29a5f"/>
<rect x="1738.00" y="314.07" width="83.10" height="6.33" fill="#aed7e7"/>
<rect x="1823.30" y="314.07" width="83.10" height="6.33" fill="#aed7e7"/>
<rect x="1908.60" y="314.07" width="83.10" height="6.33" fill="#aed7e7"/>
<rect x="1482.10" y="322.40" width="83.10" height="6.33" fill="#aed7e7"/>
<rect x="1567.40" y="322.40" width="83.10" height="6.33" fill="#d82628"/>
<rect x="1652.70" y="322.40" width="83.10" height="6.33" fill="#f29a5f"/>
<rect x="1738.00" y="322.40" width="83.10" height="6.33" fill="#aed7e7"/>
<rect x="1823.30" y="322.40" width="83.10" height="6.33" fill="#aed7e7"/>
<rect x="1908.60" y="322.40" width="83.10" height="6.33" fill="#aed7e7"/>
<rect x="1482.10" y="330.73" width="83.10" height="6.33" fill="#aed7e7"/>
<rect x="1567.40" y="330.73" width="83.10" height="6.33" fill="#d82628"/>
<rect x="1652.70" y="330.73" width="83.10" height="6.33" fill="#f29a5f"/>
<rect x="1738.00" y="330.73" width="83.10" height="6.33" fill="#aed7e7"/>
<rect x="1823.30" y="330.73" width="83.10" height="6.33" fill="#aed7e7"/>
<rect x="1908.60" y="330.73" width="83.10" height="6.33" fill="#aed7e7"/>
<rect x="1482.10" y="339.07" width="83.10" height="6.33" fill="#aed7e7"/>
<rect x="1567.40" y="339.07" width="83.10" height="6.33" fill="#d82628"/>
<rect x="1652.70" y="339.07" width="83.10" height="6.33" fill="#f29a5f"/>
<rect x="1738.00" y="339.07" width="83.10" height="6.33" fill="#aed7e7"/>
<rect x="1823.30" y="339.07" width="83.10" height="6.33" fill="#aed7e7"/>
<rect x="1908.60" y="339.07" width="83.10" height="6.33" fill="#aed7e7"/>
<rect x="1482.10" y="347.40" width="83.10" height="6.33" fill="#aed7e7"/>
<rect x="1567.40" y="347.40" width="83.10" height="6.33" fill="#e34c3a"/>
<rect x="1652.70" y="347.40" width="83.10" height="6.33" fill="#ea6a48"/>
<rect x="1738.00" y="347.40" width="83.10" height="6.33" fill="#aed7e7"/>
<rect x="1823.30" y="347.40" width="83.10" height="6.33" fill="#aed7e7"/>
<rect x="1908.60" y="347.40" width="83.10" height="6.33" fill="#aed7e7"/>
<rect x="1482.10" y="355.73" width="83.10" height="6.33" fill="#aed7e7"/>
<rect x="1567.40" y="355.73" width="83.10" height="6.33" fill="#e34c3a"/>
<rect x="1652.70" y="355.73" width="83.10" height="6.33" fill="#ea6a48"/>
<rect x="1738.00" y="355.73" width="83.10" height="6.33" fill="#aed7e7"/>
<rect x="1823.30" y="355.73" width="83.10" height="6.33" fill="#aed7e7"/>
<rect x="1908.60" y="355.73" width="83.10" height="6.33" fill="#aed7e7"/>
<rect x="1482.10" y="364.06" width="83.10" height="6.33" fill="#aed7e7"/>
<rect x="1567.40" y="364.06" width="83.10" height="6.33" fill="#d82628"/>
<rect x="1652.70" y="364.06" width="83.10" height="6.33" fill="#f29a5f"/>
<rect x="1738.00" y="364.06" width="83.10" height="6.33" fill="#aed7e7"/>
<rect x="1823.30" y="364.06" width="83.10" height="6.33" fill="#aed7e7"/>
<rect x="1908.60" y="364.06" width="83.10" height="6.33" fill="#aed7e7"/>
<rect x="1482.10" y="372.40" width="83.10" height="6.33" fill="#aed7e7"/>
<rect x="1567.40" y="372.40" width="83.10" height="6.33" fill="#d82628"/>
<rect x="1652.70" y="372.40" width="83.10" height="6.33" fill="#f9c27e"/>
<rect x="1738.00" y="372.40" width="83.10" height="6.33" fill="#aed7e7"/>
<rect x="1823.30" y="372.40" width="83.10" height="6.33" fill="#aed7e7"/>
<rect x="1908.60" y="372.40" width="83.10" height="6.33" fill="#aed7e7"/>
<rect x="1482.10" y="380.73" width="83.10" height="6.33" fill="#aed7e7"/>
<rect x="1567.40" y="380.73" width="83.10" height="6.33" fill="#c81d26"/>
<rect x="1652.70" y="380.73" width="83.10" height="6.33" fill="#f9c27e"/>
<rect x="1738.00" y="380.73" width="83.10" height="6.33" fill="#aed7e7"/>
<rect x="1823.30" y="380.73" width="83.10" height="6.33" fill="#aed7e7"/>
<rect x="1908.60" y="380.73" width="83.10" height="6.33" fill="#aed7e7"/>
<rect x="1482.10" y="389.06" width="83.10" height="6.33" fill="#aed7e7"/>
<rect x="1567.40" y="389.06" width="83.10" height="6.33" fill="#c81d26"/>
<rect x="1652.70" y="389.06" width="83.10" height="6.33" fill="#f9c27e"/>
<rect x="1738.00" y="389.06" width="83.10" height="6.33" fill="#aed7e7"/>
<rect x="1823.30" y="389.06" width="83.10" height="6.33" fill="#aed7e7"/>
<rect x="1908.60" y="389.06" width="83.10" height="6.33" fill="#aed7e7"/>
<rect x="1482.10" y="397.39" width="83.10" height="6.33" fill="#aed7e7"/>
<rect x="1567.40" y="397.39" width="83.10" height="6.33" fill="#d82628"/>
<rect x="1652.70" y="397.39" width="83.10" height="6.33" fill="#f29a5f"/>
<rect x="1738.00" y="397.39" width="83.10" height="6.33" fill="#aed7e7"/>
<rect x="1823.30" y="397.39" width="83.10" height="6.33" fill="#aed7e7"/>
<rect x="1908.60" y="397.39" width="83.10" height="6.33" fill="#aed7e7"/>
<rect x="1482.10" y="405.73" width="83.10" height="6.33" fill="#aed7e7"/>
<rect x="1567.40" y="405.73" width="83.10" height="6.33" fill="#e34c3a"/>
<rect x="1652.70" y="405.73" width="83.10" height="6.33" fill="#f29a5f"/>
<rect x="1738.00" y="405.73" width="83.10" height="6.33" fill="#aed7e7"/>
<rect x="1823.30" y="405.73" width="83.10" height="6.33" fill="#aed7e7"/>
<rect x="1908.60" y="405.73" width="83.10" height="6.33" fill="#aed7e7"/>
<rect x="1482.10" y="414.06" width="83.10" height="6.33" fill="#aed7e7"/>
<rect x="1567.40" y="414.06" width="83.10" height="6.33" fill="#e34c3a"/>
<rect x="1652.70" y="414.06" width="83.10" height="6.33" fill="#f29a5f"/>
<rect x="1738.00" y="414.06" width="83.10" height="6.33" fill="#aed7e7"/>
<rect x="1823.30" y="414.06" width="83.10" height="6.33" fill="#aed7e7"/>
<rect x="1908.60" y="414.06" width="83.10" height="6.33" fill="#aed7e7"/>
<rect x="1482.10" y="422.39" width="83.10" height="6.33" fill="#aed7e7"/>
<rect x="1567.40" y="422.39" width="83.10" height="6.33" fill="#d82628"/>
<rect x="1652.70" y="422.39" width="83.10" height="6.33" fill="#f29a5f"/>
<rect x="1738.00" y="422.39" width="83.10" height="6.33" fill="#aed7e7"/>
<rect x="1823.30" y="422.39" width="83.10" height="6.33" fill="#aed7e7"/>
<rect x="1908.60" y="422.39" width="83.10" height="6.33" fill="#aed7e7"/>
<rect x="1482.10" y="430.72" width="83.10" height="6.33" fill="#aed7e7"/>
<rect x="1567.40" y="430.72" width="83.10" height="6.33" fill="#e34c3a"/>
<rect x="1652.70" y="430.72" width="83.10" height="6.33" fill="#f29a5f"/>
<rect x="1738.00" y="430.72" width="83.10" height="6.33" fill="#aed7e7"/>
<rect x="1823.30" y="430.72" width="83.10" height="6.33" fill="#aed7e7"/>
<rect x="1908.60" y="430.72" width="83.10" height="6.33" fill="#cde6ee"/>
<rect x="1482.10" y="439.06" width="83.10" height="6.33" fill="#aed7e7"/>
<rect x="1567.40" y="439.06" width="83.10" height="6.33" fill="#ea6a48"/>
<rect x="1652.70" y="439.06" width="83.10" height="6.33" fill="#ea6a48"/>
<rect x="1738.00" y="439.06" width="83.10" height="6.33" fill="#aed7e7"/>
<rect x="1823.30" y="439.06" width="83.10" height="6.33" fill="#aed7e7"/>
<rect x="1908.60" y="439.06" width="83.10" height="6.33" fill="#aed7e7"/>
<rect x="1482.10" y="447.39" width="83.10" height="6.33" fill="#aed7e7"/>
<rect x="1567.40" y="447.39" width="83.10" height="6.33" fill="#ea6a48"/>
<rect x="1652.70" y="447.39" width="83.10" height="6.33" fill="#ea6a48"/>
<rect x="1738.00" y="447.39" width="83.10" height="6.33" fill="#aed7e7"/>
<rect x="1823.30" y="447.39" width="83.10" height="6.33" fill="#aed7e7"/>
<rect x="1908.60" y="447.39" width="83.10" height="6.33" fill="#aed7e7"/>
<rect x="1482.10" y="455.72" width="83.10" height="6.33" fill="#aed7e7"/>
<rect x="1567.40" y="455.72" width="83.10" height="6.33" fill="#e34c3a"/>
<rect x="1652.70" y="455.72" width="83.10" height="6.33" fill="#ea6a48"/>
<rect x="1738.00" y="455.72" width="83.10" height="6.33" fill="#aed7e7"/>
<rect x="1823.30" y="455.72" width="83.10" height="6.33" fill="#aed7e7"/>
<rect x="1908.60" y="455.72" width="83.10" height="6.33" fill="#aed7e7"/>
<rect x="1482.10" y="464.05" width="83.10" height="6.33" fill="#93cbe1"/>
<rect x="1567.40" y="464.05" width="83.10" height="6.33" fill="#c81d26"/>
<rect x="1652.70" y="464.05" width="83.10" height="6.33" fill="#f9c27e"/>
<rect x="1738.00" y="464.05" width="83.10" height="6.33" fill="#93cbe1"/>
<rect x="1823.30" y="464.05" width="83.10" height="6.33" fill="#e6f1e8"/>
<rect x="1908.60" y="464.05" width="83.10" height="6.33" fill="#93cbe1"/>
<rect x="1482.10" y="472.38" width="83.10" height="6.33" fill="#93cbe1"/>
<rect x="1567.40" y="472.38" width="83.10" height="6.33" fill="#c81d26"/>
<rect x="1652.70" y="472.38" width="83.10" height="6.33" fill="#f9c27e"/>
<rect x="1738.00" y="472.38" width="83.10" height="6.33" fill="#93cbe1"/>
<rect x="1823.30" y="472.38" width="83.10" height="6.33" fill="#e6f1e8"/>
<rect x="1908.60" y="472.38" width="83.10" height="6.33" fill="#93cbe1"/>
<rect x="1482.10" y="480.72" width="83.10" height="6.33" fill="#aed7e7"/>
<rect x="1567.40" y="480.72" width="83.10" height="6.33" fill="#c81d26"/>
<rect x="1652.70" y="480.72" width="83.10" height="6.33" fill="#fce6a4"/>
<rect x="1738.00" y="480.72" width="83.10" height="6.33" fill="#aed7e7"/>
<rect x="1823.30" y="480.72" width="83.10" height="6.33" fill="#aed7e7"/>
<rect x="1908.60" y="480.72" width="83.10" height="6.33" fill="#aed7e7"/>
<rect x="1482.10" y="489.05" width="83.10" height="6.33" fill="#aed7e7"/>
<rect x="1567.40" y="489.05" width="83.10" height="6.33" fill="#c81d26"/>
<rect x="1652.70" y="489.05" width="83.10" height="6.33" fill="#fce6a4"/>
<rect x="1738.00" y="489.05" width="83.10" height="6.33" fill="#aed7e7"/>
<rect x="1823.30" y="489.05" width="83.10" height="6.33" fill="#aed7e7"/>
<rect x="1908.60" y="489.05" width="83.10" height="6.33" fill="#aed7e7"/>
<rect x="1482.10" y="497.38" width="83.10" height="6.33" fill="#aed7e7"/>
<rect x="1567.40" y="497.38" width="83.10" height="6.33" fill="#c81d26"/>
<rect x="1652.70" y="497.38" width="83.10" height="6.33" fill="#f9c27e"/>
<rect x="1738.00" y="497.38" width="83.10" height="6.33" fill="#aed7e7"/>
<rect x="1823.30" y="497.38" width="83.10" height="6.33" fill="#aed7e7"/>
<rect x="1908.60" y="497.38" width="83.10" height="6.33" fill="#aed7e7"/>
<rect x="1482.10" y="505.71" width="83.10" height="6.33" fill="#fce6a4"/>
<rect x="1567.40" y="505.71" width="83.10" height="6.33" fill="#d82628"/>
<rect x="1652.70" y="505.71" width="83.10" height="6.33" fill="#f29a5f"/>
<rect x="1738.00" y="505.71" width="83.10" height="6.33" fill="#93cbe1"/>
<rect x="1823.30" y="505.71" width="83.10" height="6.33" fill="#93cbe1"/>
<rect x="1908.60" y="505.71" width="83.10" height="6.33" fill="#93cbe1"/>
<rect x="1482.10" y="514.05" width="83.10" height="6.33" fill="#f9c27e"/>
<rect x="1567.40" y="514.05" width="83.10" height="6.33" fill="#e34c3a"/>
<rect x="1652.70" y="514.05" width="83.10" height="6.33" fill="#f9c27e"/>
<rect x="1738.00" y="514.05" width="83.10" height="6.33" fill="#93cbe1"/>
<rect x="1823.30" y="514.05" width="83.10" height="6.33" fill="#93cbe1"/>
<rect x="1908.60" y="514.05" width="83.10" height="6.33" fill="#93cbe1"/>
<rect x="1482.10" y="522.38" width="83.10" height="6.33" fill="#fce6a4"/>
<rect x="1567.40" y="522.38" width="83.10" height="6.33" fill="#d82628"/>
<rect x="1652.70" y="522.38" width="83.10" height="6.33" fill="#f9c27e"/>
<rect x="1738.00" y="522.38" width="83.10" height="6.33" fill="#93cbe1"/>
<rect x="1823.30" y="522.38" width="83.10" height="6.33" fill="#93cbe1"/>
<rect x="1908.60" y="522.38" width="83.10" height="6.33" fill="#93cbe1"/>
<rect x="1482.10" y="530.71" width="83.10" height="6.33" fill="#f29a5f"/>
<rect x="1567.40" y="530.71" width="83.10" height="6.33" fill="#ea6a48"/>
<rect x="1652.70" y="530.71" width="83.10" height="6.33" fill="#f29a5f"/>
<rect x="1738.00" y="530.71" width="83.10" height="6.33" fill="#72bbda"/>
<rect x="1823.30" y="530.71" width="83.10" height="6.33" fill="#72bbda"/>
<rect x="1908.60" y="530.71" width="83.10" height="6.33" fill="#72bbda"/>
<rect x="1482.10" y="539.04" width="83.10" height="6.33" fill="#aed7e7"/>
<rect x="1567.40" y="539.04" width="83.10" height="6.33" fill="#f9c27e"/>
<rect x="1652.70" y="539.04" width="83.10" height="6.33" fill="#c81d26"/>
<rect x="1738.00" y="539.04" width="83.10" height="6.33" fill="#aed7e7"/>
<rect x="1823.30" y="539.04" width="83.10" height="6.33" fill="#aed7e7"/>
<rect x="1908.60" y="539.04" width="83.10" height="6.33" fill="#aed7e7"/>
<rect x="1482.10" y="547.38" width="83.10" height="6.33" fill="#fce6a4"/>
<rect x="1567.40" y="547.38" width="83.10" height="6.33" fill="#c81d26"/>
<rect x="1652.70" y="547.38" width="83.10" height="6.33" fill="#aed7e7"/>
<rect x="1738.00" y="547.38" width="83.10" height="6.33" fill="#aed7e7"/>
<rect x="1823.30" y="547.38" width="83.10" height="6.33" fill="#aed7e7"/>
<rect x="1908.60" y="547.38" width="83.10" height="6.33" fill="#aed7e7"/>
<rect x="1482.10" y="555.71" width="83.10" height="6.33" fill="#fce6a4"/>
<rect x="1567.40" y="555.71" width="83.10" height="6.33" fill="#c81d26"/>
<rect x="1652.70" y="555.71" width="83.10" height="6.33" fill="#aed7e7"/>
<rect x="1738.00" y="555.71" width="83.10" height="6.33" fill="#aed7e7"/>
<rect x="1823.30" y="555.71" width="83.10" height="6.33" fill="#aed7e7"/>
<rect x="1908.60" y="555.71" width="83.10" height="6.33" fill="#aed7e7"/>
<rect x="1482.10" y="564.04" width="83.10" height="6.33" fill="#f5f2c9"/>
<rect x="1567.40" y="564.04" width="83.10" height="6.33" fill="#c81d26"/>
<rect x="1652.70" y="564.04" width="83.10" height="6.33" fill="#aed7e7"/>
<rect x="1738.00" y="564.04" width="83.10" height="6.33" fill="#aed7e7"/>
<rect x="1823.30" y="564.04" width="83.10" height="6.33" fill="#aed7e7"/>
<rect x="1908.60" y="564.04" width="83.10" height="6.33" fill="#aed7e7"/>
<rect x="1482.10" y="572.37" width="83.10" height="6.33" fill="#fce6a4"/>
<rect x="1567.40" y="572.37" width="83.10" height="6.33" fill="#c81d26"/>
<rect x="1652.70" y="572.37" width="83.10" height="6.33" fill="#aed7e7"/>
<rect x="1738.00" y="572.37" width="83.10" height="6.33" fill="#aed7e7"/>
<rect x="1823.30" y="572.37" width="83.10" height="6.33" fill="#aed7e7"/>
<rect x="1908.60" y="572.37" width="83.10" height="6.33" fill="#aed7e7"/>
<rect x="1482.10" y="580.71" width="83.10" height="6.33" fill="#fce6a4"/>
<rect x="1567.40" y="580.71" width="83.10" height="6.33" fill="#c81d26"/>
<rect x="1652.70" y="580.71" width="83.10" height="6.33" fill="#aed7e7"/>
<rect x="1738.00" y="580.71" width="83.10" height="6.33" fill="#aed7e7"/>
<rect x="1823.30" y="580.71" width="83.10" height="6.33" fill="#aed7e7"/>
<rect x="1908.60" y="580.71" width="83.10" height="6.33" fill="#aed7e7"/>
<rect x="1482.10" y="589.04" width="83.10" height="6.33" fill="#f9c27e"/>
<rect x="1567.40" y="589.04" width="83.10" height="6.33" fill="#c81d26"/>
<rect x="1652.70" y="589.04" width="83.10" height="6.33" fill="#aed7e7"/>
<rect x="1738.00" y="589.04" width="83.10" height="6.33" fill="#aed7e7"/>
<rect x="1823.30" y="589.04" width="83.10" height="6.33" fill="#aed7e7"/>
<rect x="1908.60" y="589.04" width="83.10" height="6.33" fill="#aed7e7"/>
<rect x="1482.10" y="597.37" width="83.10" height="6.33" fill="#f9c27e"/>
<rect x="1567.40" y="597.37" width="83.10" height="6.33" fill="#c81d26"/>
<rect x="1652.70" y="597.37" width="83.10" height="6.33" fill="#aed7e7"/>
<rect x="1738.00" y="597.37" width="83.10" height="6.33" fill="#aed7e7"/>
<rect x="1823.30" y="597.37" width="83.10" height="6.33" fill="#aed7e7"/>
<rect x="1908.60" y="597.37" width="83.10" height="6.33" fill="#aed7e7"/>
<rect x="1482.10" y="605.70" width="83.10" height="6.33" fill="#fce6a4"/>
<rect x="1567.40" y="605.70" width="83.10" height="6.33" fill="#c81d26"/>
<rect x="1652.70" y="605.70" width="83.10" height="6.33" fill="#aed7e7"/>
<rect x="1738.00" y="605.70" width="83.10" height="6.33" fill="#aed7e7"/>
<rect x="1823.30" y="605.70" width="83.10" height="6.33" fill="#aed7e7"/>
<rect x="1908.60" y="605.70" width="83.10" height="6.33" fill="#aed7e7"/>
<rect x="1482.10" y="614.03" width="83.10" height="6.33" fill="#f9c27e"/>
<rect x="1567.40" y="614.03" width="83.10" height="6.33" fill="#d82628"/>
<rect x="1652.70" y="614.03" width="83.10" height="6.33" fill="#aed7e7"/>
<rect x="1738.00" y="614.03" width="83.10" height="6.33" fill="#aed7e7"/>
<rect x="1823.30" y="614.03" width="83.10" height="6.33" fill="#aed7e7"/>
<rect x="1908.60" y="614.03" width="83.10" height="6.33" fill="#aed7e7"/>
<rect x="1482.10" y="622.37" width="83.10" height="6.33" fill="#f9c27e"/>
<rect x="1567.40" y="622.37" width="83.10" height="6.33" fill="#d82628"/>
<rect x="1652.70" y="622.37" width="83.10" height="6.33" fill="#aed7e7"/>
<rect x="1738.00" y="622.37" width="83.10" height="6.33" fill="#aed7e7"/>
<rect x="1823.30" y="622.37" width="83.10" height="6.33" fill="#aed7e7"/>
<rect x="1908.60" y="622.37" width="83.10" height="6.33" fill="#aed7e7"/>
<rect x="1482.10" y="630.70" width="83.10" height="6.33" fill="#f29a5f"/>
<rect x="1567.40" y="630.70" width="83.10" height="6.33" fill="#d82628"/>
<rect x="1652.70" y="630.70" width="83.10" height="6.33" fill="#aed7e7"/>
<rect x="1738.00" y="630.70" width="83.10" height="6.33" fill="#aed7e7"/>
<rect x="1823.30" y="630.70" width="83.10" height="6.33" fill="#aed7e7"/>
<rect x="1908.60" y="630.70" width="83.10" height="6.33" fill="#aed7e7"/>
<rect x="1482.10" y="639.03" width="83.10" height="6.33" fill="#f9c27e"/>
<rect x="1567.40" y="639.03" width="83.10" height="6.33" fill="#d82628"/>
<rect x="1652.70" y="639.03" width="83.10" height="6.33" fill="#aed7e7"/>
<rect x="1738.00" y="639.03" width="83.10" height="6.33" fill="#aed7e7"/>
<rect x="1823.30" y="639.03" width="83.10" height="6.33" fill="#aed7e7"/>
<rect x="1908.60" y="639.03" width="83.10" height="6.33" fill="#aed7e7"/>
<rect x="1482.10" y="647.36" width="83.10" height="6.33" fill="#f9c27e"/>
<rect x="1567.40" y="647.36" width="83.10" height="6.33" fill="#c81d26"/>
<rect x="1652.70" y="647.36" width="83.10" height="6.33" fill="#aed7e7"/>
<rect x="1738.00" y="647.36" width="83.10" height="6.33" fill="#aed7e7"/>
<rect x="1823.30" y="647.36" width="83.10" height="6.33" fill="#aed7e7"/>
<rect x="1908.60" y="647.36" width="83.10" height="6.33" fill="#aed7e7"/>
<rect x="1482.10" y="655.70" width="83.10" height="6.33" fill="#f9c27e"/>
<rect x="1567.40" y="655.70" width="83.10" height="6.33" fill="#d82628"/>
<rect x="1652.70" y="655.70" width="83.10" height="6.33" fill="#aed7e7"/>
<rect x="1738.00" y="655.70" width="83.10" height="6.33" fill="#aed7e7"/>
<rect x="1823.30" y="655.70" width="83.10" height="6.33" fill="#aed7e7"/>
<rect x="1908.60" y="655.70" width="83.10" height="6.33" fill="#aed7e7"/>
<rect x="1482.10" y="664.03" width="83.10" height="6.33" fill="#f9c27e"/>
<rect x="1567.40" y="664.03" width="83.10" height="6.33" fill="#c81d26"/>
<rect x="1652.70" y="664.03" width="83.10" height="6.33" fill="#aed7e7"/>
<rect x="1738.00" y="664.03" width="83.10" height="6.33" fill="#aed7e7"/>
<rect x="1823.30" y="664.03" width="83.10" height="6.33" fill="#aed7e7"/>
<rect x="1908.60" y="664.03" width="83.10" height="6.33" fill="#aed7e7"/>
<rect x="1482.10" y="672.36" width="83.10" height="6.33" fill="#f9c27e"/>
<rect x="1567.40" y="672.36" width="83.10" height="6.33" fill="#c81d26"/>
<rect x="1652.70" y="672.36" width="83.10" height="6.33" fill="#aed7e7"/>
<rect x="1738.00" y="672.36" width="83.10" height="6.33" fill="#aed7e7"/>
<rect x="1823.30" y="672.36" width="83.10" height="6.33" fill="#aed7e7"/>
<rect x="1908.60" y="672.36" width="83.10" height="6.33" fill="#aed7e7"/>
<rect x="1482.10" y="680.69" width="83.10" height="6.33" fill="#f29a5f"/>
<rect x="1567.40" y="680.69" width="83.10" height="6.33" fill="#c81d26"/>
<rect x="1652.70" y="680.69" width="83.10" height="6.33" fill="#aed7e7"/>
<rect x="1738.00" y="680.69" width="83.10" height="6.33" fill="#aed7e7"/>
<rect x="1823.30" y="680.69" width="83.10" height="6.33" fill="#aed7e7"/>
<rect x="1908.60" y="680.69" width="83.10" height="6.33" fill="#aed7e7"/>
<rect x="1482.10" y="689.03" width="83.10" height="6.33" fill="#f9c27e"/>
<rect x="1567.40" y="689.03" width="83.10" height="6.33" fill="#c81d26"/>
<rect x="1652.70" y="689.03" width="83.10" height="6.33" fill="#aed7e7"/>
<rect x="1738.00" y="689.03" width="83.10" height="6.33" fill="#aed7e7"/>
<rect x="1823.30" y="689.03" width="83.10" height="6.33" fill="#cde6ee"/>
<rect x="1908.60" y="689.03" width="83.10" height="6.33" fill="#aed7e7"/>
<rect x="1482.10" y="697.36" width="83.10" height="6.33" fill="#f9c27e"/>
<rect x="1567.40" y="697.36" width="83.10" height="6.33" fill="#c81d26"/>
<rect x="1652.70" y="697.36" width="83.10" height="6.33" fill="#aed7e7"/>
<rect x="1738.00" y="697.36" width="83.10" height="6.33" fill="#aed7e7"/>
<rect x="1823.30" y="697.36" width="83.10" height="6.33" fill="#aed7e7"/>
<rect x="1908.60" y="697.36" width="83.10" height="6.33" fill="#aed7e7"/>
<rect x="1482.10" y="705.69" width="83.10" height="6.33" fill="#fce6a4"/>
<rect x="1567.40" y="705.69" width="83.10" height="6.33" fill="#c81d26"/>
<rect x="1652.70" y="705.69" width="83.10" height="6.33" fill="#cde6ee"/>
<rect x="1738.00" y="705.69" width="83.10" height="6.33" fill="#cde6ee"/>
<rect x="1823.30" y="705.69" width="83.10" height="6.33" fill="#cde6ee"/>
<rect x="1908.60" y="705.69" width="83.10" height="6.33" fill="#cde6ee"/>
<rect x="1482.10" y="714.02" width="83.10" height="6.33" fill="#f9c27e"/>
<rect x="1567.40" y="714.02" width="83.10" height="6.33" fill="#c81d26"/>
<rect x="1652.70" y="714.02" width="83.10" height="6.33" fill="#cde6ee"/>
<rect x="1738.00" y="714.02" width="83.10" height="6.33" fill="#cde6ee"/>
<rect x="1823.30" y="714.02" width="83.10" height="6.33" fill="#cde6ee"/>
<rect x="1908.60" y="714.02" width="83.10" height="6.33" fill="#cde6ee"/>
<rect x="1482.10" y="722.35" width="83.10" height="6.33" fill="#f9c27e"/>
<rect x="1567.40" y="722.35" width="83.10" height="6.33" fill="#c81d26"/>
<rect x="1652.70" y="722.35" width="83.10" height="6.33" fill="#aed7e7"/>
<rect x="1738.00" y="722.35" width="83.10" height="6.33" fill="#aed7e7"/>
<rect x="1823.30" y="722.35" width="83.10" height="6.33" fill="#f5f2c9"/>
<rect x="1908.60" y="722.35" width="83.10" height="6.33" fill="#aed7e7"/>
<rect x="1482.10" y="730.69" width="83.10" height="6.33" fill="#f9c27e"/>
<rect x="1567.40" y="730.69" width="83.10" height="6.33" fill="#c81d26"/>
<rect x="1652.70" y="730.69" width="83.10" height="6.33" fill="#aed7e7"/>
<rect x="1738.00" y="730.69" width="83.10" height="6.33" fill="#aed7e7"/>
<rect x="1823.30" y="730.69" width="83.10" height="6.33" fill="#f5f2c9"/>
<rect x="1908.60" y="730.69" width="83.10" height="6.33" fill="#aed7e7"/>
<rect x="1482.10" y="739.02" width="83.10" height="6.33" fill="#f5f2c9"/>
<rect x="1567.40" y="739.02" width="83.10" height="6.33" fill="#c81d26"/>
<rect x="1652.70" y="739.02" width="83.10" height="6.33" fill="#aed7e7"/>
<rect x="1738.00" y="739.02" width="83.10" height="6.33" fill="#aed7e7"/>
<rect x="1823.30" y="739.02" width="83.10" height="6.33" fill="#fce6a4"/>
<rect x="1908.60" y="739.02" width="83.10" height="6.33" fill="#aed7e7"/>
<rect x="1482.10" y="747.35" width="83.10" height="6.33" fill="#fce6a4"/>
<rect x="1567.40" y="747.35" width="83.10" height="6.33" fill="#c81d26"/>
<rect x="1652.70" y="747.35" width="83.10" height="6.33" fill="#cde6ee"/>
<rect x="1738.00" y="747.35" width="83.10" height="6.33" fill="#72bbda"/>
<rect x="1823.30" y="747.35" width="83.10" height="6.33" fill="#f5f2c9"/>
<rect x="1908.60" y="747.35" width="83.10" height="6.33" fill="#72bbda"/>
<rect x="1482.10" y="755.68" width="83.10" height="6.33" fill="#e6f1e8"/>
<rect x="1567.40" y="755.68" width="83.10" height="6.33" fill="#c81d26"/>
<rect x="1652.70" y="755.68" width="83.10" height="6.33" fill="#aed7e7"/>
<rect x="1738.00" y="755.68" width="83.10" height="6.33" fill="#aed7e7"/>
<rect x="1823.30" y="755.68" width="83.10" height="6.33" fill="#f5f2c9"/>
<rect x="1908.60" y="755.68" width="83.10" height="6.33" fill="#aed7e7"/>
<rect x="1482.10" y="764.02" width="83.10" height="6.33" fill="#f9c27e"/>
<rect x="1567.40" y="764.02" width="83.10" height="6.33" fill="#c81d26"/>
<rect x="1652.70" y="764.02" width="83.10" height="6.33" fill="#fce6a4"/>
<rect x="1738.00" y="764.02" width="83.10" height="6.33" fill="#aed7e7"/>
<rect x="1823.30" y="764.02" width="83.10" height="6.33" fill="#93cbe1"/>
<rect x="1908.60" y="764.02" width="83.10" height="6.33" fill="#93cbe1"/>
<rect x="1482.10" y="772.35" width="83.10" height="6.33" fill="#f9c27e"/>
<rect x="1567.40" y="772.35" width="83.10" height="6.33" fill="#c81d26"/>
<rect x="1652.70" y="772.35" width="83.10" height="6.33" fill="#f5f2c9"/>
<rect x="1738.00" y="772.35" width="83.10" height="6.33" fill="#aed7e7"/>
<rect x="1823.30" y="772.35" width="83.10" height="6.33" fill="#93cbe1"/>
<rect x="1908.60" y="772.35" width="83.10" height="6.33" fill="#93cbe1"/>
<rect x="1482.10" y="780.68" width="83.10" height="6.33" fill="#fce6a4"/>
<rect x="1567.40" y="780.68" width="83.10" height="6.33" fill="#c81d26"/>
<rect x="1652.70" y="780.68" width="83.10" height="6.33" fill="#fce6a4"/>
<rect x="1738.00" y="780.68" width="83.10" height="6.33" fill="#aed7e7"/>
<rect x="1823.30" y="780.68" width="83.10" height="6.33" fill="#93cbe1"/>
<rect x="1908.60" y="780.68" width="83.10" height="6.33" fill="#93cbe1"/>
<rect x="1482.10" y="789.01" width="83.10" height="6.33" fill="#fce6a4"/>
<rect x="1567.40" y="789.01" width="83.10" height="6.33" fill="#c81d26"/>
<rect x="1652.70" y="789.01" width="83.10" height="6.33" fill="#72bbda"/>
<rect x="1738.00" y="789.01" width="83.10" height="6.33" fill="#f5f2c9"/>
<rect x="1823.30" y="789.01" width="83.10" height="6.33" fill="#e6f1e8"/>
<rect x="1908.60" y="789.01" width="83.10" height="6.33" fill="#93cbe1"/>
<rect x="1482.10" y="797.35" width="83.10" height="6.33" fill="#f5f2c9"/>
<rect x="1567.40" y="797.35" width="83.10" height="6.33" fill="#c81d26"/>
<rect x="1652.70" y="797.35" width="83.10" height="6.33" fill="#aed7e7"/>
<rect x="1738.00" y="797.35" width="83.10" height="6.33" fill="#e6f1e8"/>
<rect x="1823.30" y="797.35" width="83.10" height="6.33" fill="#cde6ee"/>
<rect x="1908.60" y="797.35" width="83.10" height="6.33" fill="#93cbe1"/>
<rect x="1482.10" y="805.68" width="83.10" height="6.33" fill="#e6f1e8"/>
<rect x="1567.40" y="805.68" width="83.10" height="6.33" fill="#c81d26"/>
<rect x="1652.70" y="805.68" width="83.10" height="6.33" fill="#aed7e7"/>
<rect x="1738.00" y="805.68" width="83.10" height="6.33" fill="#fce6a4"/>
<rect x="1823.30" y="805.68" width="83.10" height="6.33" fill="#e6f1e8"/>
<rect x="1908.60" y="805.68" width="83.10" height="6.33" fill="#72bbda"/>
<rect x="1482.10" y="814.01" width="83.10" height="6.33" fill="#f5f2c9"/>
<rect x="1567.40" y="814.01" width="83.10" height="6.33" fill="#c81d26"/>
<rect x="1652.70" y="814.01" width="83.10" height="6.33" fill="#f5f2c9"/>
<rect x="1738.00" y="814.01" width="83.10" height="6.33" fill="#fce6a4"/>
<rect x="1823.30" y="814.01" width="83.10" height="6.33" fill="#aed7e7"/>
<rect x="1908.60" y="814.01" width="83.10" height="6.33" fill="#72bbda"/>
<rect x="1482.10" y="822.34" width="83.10" height="6.33" fill="#f9c27e"/>
<rect x="1567.40" y="822.34" width="83.10" height="6.33" fill="#c81d26"/>
<rect x="1652.70" y="822.34" width="83.10" height="6.33" fill="#cde6ee"/>
<rect x="1738.00" y="822.34" width="83.10" height="6.33" fill="#e6f1e8"/>
<rect x="1823.30" y="822.34" width="83.10" height="6.33" fill="#cde6ee"/>
<rect x="1908.60" y="822.34" width="83.10" height="6.33" fill="#4a9ccc"/>
<rect x="1482.10" y="830.68" width="83.10" height="6.33" fill="#aed7e7"/>
<rect x="1567.40" y="830.68" width="83.10" height="6.33" fill="#c81d26"/>
<rect x="1652.70" y="830.68" width="83.10" height="6.33" fill="#f5f2c9"/>
<rect x="1738.00" y="830.68" width="83.10" height="6.33" fill="#fce6a4"/>
<rect x="1823.30" y="830.68" width="83.10" height="6.33" fill="#aed7e7"/>
<rect x="1908.60" y="830.68" width="83.10" height="6.33" fill="#aed7e7"/>
<rect x="1482.10" y="839.01" width="83.10" height="6.33" fill="#e6f1e8"/>
<rect x="1567.40" y="839.01" width="83.10" height="6.33" fill="#d82628"/>
<rect x="1652.70" y="839.01" width="83.10" height="6.33" fill="#f29a5f"/>
<rect x="1738.00" y="839.01" width="83.10" height="6.33" fill="#72bbda"/>
<rect x="1823.30" y="839.01" width="83.10" height="6.33" fill="#93cbe1"/>
<rect x="1908.60" y="839.01" width="83.10" height="6.33" fill="#e6f1e8"/>
<rect x="1482.10" y="847.34" width="83.10" height="6.33" fill="#f5f2c9"/>
<rect x="1567.40" y="847.34" width="83.10" height="6.33" fill="#d82628"/>
<rect x="1652.70" y="847.34" width="83.10" height="6.33" fill="#fce6a4"/>
<rect x="1738.00" y="847.34" width="83.10" height="6.33" fill="#4a9ccc"/>
<rect x="1823.30" y="847.34" width="83.10" height="6.33" fill="#aed7e7"/>
<rect x="1908.60" y="847.34" width="83.10" height="6.33" fill="#e6f1e8"/>
<rect x="1482.10" y="855.67" width="83.10" height="6.33" fill="#cde6ee"/>
<rect x="1567.40" y="855.67" width="83.10" height="6.33" fill="#d82628"/>
<rect x="1652.70" y="855.67" width="83.10" height="6.33" fill="#f9c27e"/>
<rect x="1738.00" y="855.67" width="83.10" height="6.33" fill="#93cbe1"/>
<rect x="1823.30" y="855.67" width="83.10" height="6.33" fill="#cde6ee"/>
<rect x="1908.60" y="855.67" width="83.10" height="6.33" fill="#93cbe1"/>
<rect x="1482.10" y="864.00" width="83.10" height="6.33" fill="#72bbda"/>
<rect x="1567.40" y="864.00" width="83.10" height="6.33" fill="#d82628"/>
<rect x="1652.70" y="864.00" width="83.10" height="6.33" fill="#f9c27e"/>
<rect x="1738.00" y="864.00" width="83.10" height="6.33" fill="#e6f1e8"/>
<rect x="1823.30" y="864.00" width="83.10" height="6.33" fill="#e6f1e8"/>
<rect x="1908.60" y="864.00" width="83.10" height="6.33" fill="#93cbe1"/>
<rect x="1482.10" y="872.34" width="83.10" height="6.33" fill="#e6f1e8"/>
<rect x="1567.40" y="872.34" width="83.10" height="6.33" fill="#d82628"/>
<rect x="1652.70" y="872.34" width="83.10" height="6.33" fill="#f9c27e"/>
<rect x="1738.00" y="872.34" width="83.10" height="6.33" fill="#aed7e7"/>
<rect x="1823.30" y="872.34" width="83.10" height="6.33" fill="#72bbda"/>
<rect x="1908.60" y="872.34" width="83.10" height="6.33" fill="#cde6ee"/>
<rect x="1482.10" y="880.67" width="83.10" height="6.33" fill="#fce6a4"/>
<rect x="1567.40" y="880.67" width="83.10" height="6.33" fill="#e34c3a"/>
<rect x="1652.70" y="880.67" width="83.10" height="6.33" fill="#f29a5f"/>
<rect x="1738.00" y="880.67" width="83.10" height="6.33" fill="#cde6ee"/>
<rect x="1823.30" y="880.67" width="83.10" height="6.33" fill="#2475b5"/>
<rect x="1908.60" y="880.67" width="83.10" height="6.33" fill="#cde6ee"/>
<rect x="1482.10" y="889.00" width="83.10" height="6.33" fill="#e6f1e8"/>
<rect x="1567.40" y="889.00" width="83.10" height="6.33" fill="#d82628"/>
<rect x="1652.70" y="889.00" width="83.10" height="6.33" fill="#f29a5f"/>
<rect x="1738.00" y="889.00" width="83.10" height="6.33" fill="#72bbda"/>
<rect x="1823.30" y="889.00" width="83.10" height="6.33" fill="#aed7e7"/>
<rect x="1908.60" y="889.00" width="83.10" height="6.33" fill="#aed7e7"/>
<rect x="1482.10" y="897.33" width="83.10" height="6.33" fill="#fce6a4"/>
<rect x="1567.40" y="897.33" width="83.10" height="6.33" fill="#d82628"/>
<rect x="1652.70" y="897.33" width="83.10" height="6.33" fill="#fce6a4"/>
<rect x="1738.00" y="897.33" width="83.10" height="6.33" fill="#2475b5"/>
<rect x="1823.30" y="897.33" width="83.10" height="6.33" fill="#cde6ee"/>
<rect x="1908.60" y="897.33" width="83.10" height="6.33" fill="#e6f1e8"/>
<rect x="1482.10" y="905.67" width="83.10" height="6.33" fill="#aed7e7"/>
<rect x="1567.40" y="905.67" width="83.10" height="6.33" fill="#d82628"/>
<rect x="1652.70" y="905.67" width="83.10" height="6.33" fill="#f5f2c9"/>
<rect x="1738.00" y="905.67" width="83.10" height="6.33" fill="#aed7e7"/>
<rect x="1823.30" y="905.67" width="83.10" height="6.33" fill="#72bbda"/>
<rect x="1908.60" y="905.67" width="83.10" height="6.33" fill="#fce6a4"/>
<rect x="1482.10" y="914.00" width="83.10" height="6.33" fill="#c81d26"/>
<rect x="1567.40" y="914.00" width="83.10" height="6.33" fill="#f9c27e"/>
<rect x="1652.70" y="914.00" width="83.10" height="6.33" fill="#e6f1e8"/>
<rect x="1738.00" y="914.00" width="83.10" height="6.33" fill="#93cbe1"/>
<rect x="1823.30" y="914.00" width="83.10" height="6.33" fill="#cde6ee"/>
<rect x="1908.60" y="914.00" width="83.10" height="6.33" fill="#93cbe1"/>
<rect x="1482.10" y="922.33" width="83.10" height="6.33" fill="#fce6a4"/>
<rect x="1567.40" y="922.33" width="83.10" height="6.33" fill="#d82628"/>
<rect x="1652.70" y="922.33" width="83.10" height="6.33" fill="#fce6a4"/>
<rect x="1738.00" y="922.33" width="83.10" height="6.33" fill="#72bbda"/>
<rect x="1823.30" y="922.33" width="83.10" height="6.33" fill="#93cbe1"/>
<rect x="1908.60" y="922.33" width="83.10" height="6.33" fill="#e6f1e8"/>
<rect x="1482.10" y="930.66" width="83.10" height="6.33" fill="#fce6a4"/>
<rect x="1567.40" y="930.66" width="83.10" height="6.33" fill="#c81d26"/>
<rect x="1652.70" y="930.66" width="83.10" height="6.33" fill="#aed7e7"/>
<rect x="1738.00" y="930.66" width="83.10" height="6.33" fill="#cde6ee"/>
<rect x="1823.30" y="930.66" width="83.10" height="6.33" fill="#f5f2c9"/>
<rect x="1908.60" y="930.66" width="83.10" height="6.33" fill="#93cbe1"/>
<rect x="1482.10" y="939.00" width="83.10" height="6.33" fill="#f9c27e"/>
<rect x="1567.40" y="939.00" width="83.10" height="6.33" fill="#d82628"/>
<rect x="1652.70" y="939.00" width="83.10" height="6.33" fill="#fce6a4"/>
<rect x="1738.00" y="939.00" width="83.10" height="6.33" fill="#cde6ee"/>
<rect x="1823.30" y="939.00" width="83.10" height="6.33" fill="#cde6ee"/>
<rect x="1908.60" y="939.00" width="83.10" height="6.33" fill="#2475b5"/>
<rect x="1482.10" y="947.33" width="83.10" height="6.33" fill="#e6f1e8"/>
<rect x="1567.40" y="947.33" width="83.10" height="6.33" fill="#c81d26"/>
<rect x="1652.70" y="947.33" width="83.10" height="6.33" fill="#f5f2c9"/>
<rect x="1738.00" y="947.33" width="83.10" height="6.33" fill="#e6f1e8"/>
<rect x="1823.30" y="947.33" width="83.10" height="6.33" fill="#fce6a4"/>
<rect x="1908.60" y="947.33" width="83.10" height="6.33" fill="#4a9ccc"/>
<rect x="1482.10" y="955.66" width="83.10" height="6.33" fill="#f5f2c9"/>
<rect x="1567.40" y="955.66" width="83.10" height="6.33" fill="#d82628"/>
<rect x="1652.70" y="955.66" width="83.10" height="6.33" fill="#f9c27e"/>
<rect x="1738.00" y="955.66" width="83.10" height="6.33" fill="#72bbda"/>
<rect x="1823.30" y="955.66" width="83.10" height="6.33" fill="#f5f2c9"/>
<rect x="1908.60" y="955.66" width="83.10" height="6.33" fill="#72bbda"/>
<rect x="1482.10" y="963.99" width="83.10" height="6.33" fill="#fce6a4"/>
<rect x="1567.40" y="963.99" width="83.10" height="6.33" fill="#ea6a48"/>
<rect x="1652.70" y="963.99" width="83.10" height="6.33" fill="#ea6a48"/>
<rect x="1738.00" y="963.99" width="83.10" height="6.33" fill="#72bbda"/>
<rect x="1823.30" y="963.99" width="83.10" height="6.33" fill="#f5f2c9"/>
<rect x="1908.60" y="963.99" width="83.10" height="6.33" fill="#2475b5"/>
<rect x="1482.10" y="972.33" width="83.10" height="6.33" fill="#f9c27e"/>
<rect x="1567.40" y="972.33" width="83.10" height="6.33" fill="#e34c3a"/>
<rect x="1652.70" y="972.33" width="83.10" height="6.33" fill="#f9c27e"/>
<rect x="1738.00" y="972.33" width="83.10" height="6.33" fill="#cde6ee"/>
<rect x="1823.30" y="972.33" width="83.10" height="6.33" fill="#cde6ee"/>
<rect x="1908.60" y="972.33" width="83.10" height="6.33" fill="#2475b5"/>
<rect x="1482.10" y="980.66" width="83.10" height="6.33" fill="#f9c27e"/>
<rect x="1567.40" y="980.66" width="83.10" height="6.33" fill="#f9c27e"/>
<rect x="1652.70" y="980.66" width="83.10" height="6.33" fill="#ea6a48"/>
<rect x="1738.00" y="980.66" width="83.10" height="6.33" fill="#f5f2c9"/>
<rect x="1823.30" y="980.66" width="83.10" height="6.33" fill="#cde6ee"/>
<rect x="1908.60" y="980.66" width="83.10" height="6.33" fill="#3a4f9f"/>
<rect x="1482.10" y="988.99" width="83.10" height="6.33" fill="#f29a5f"/>
<rect x="1567.40" y="988.99" width="83.10" height="6.33" fill="#aed7e7"/>
<rect x="1652.70" y="988.99" width="83.10" height="6.33" fill="#c81d26"/>
<rect x="1738.00" y="988.99" width="83.10" height="6.33" fill="#aed7e7"/>
<rect x="1823.30" y="988.99" width="83.10" height="6.33" fill="#aed7e7"/>
<rect x="1908.60" y="988.99" width="83.10" height="6.33" fill="#aed7e7"/>
<rect x="1482.10" y="997.32" width="83.10" height="6.33" fill="#f29a5f"/>
<rect x="1567.40" y="997.32" width="83.10" height="6.33" fill="#aed7e7"/>
<rect x="1652.70" y="997.32" width="83.10" height="6.33" fill="#c81d26"/>
<rect x="1738.00" y="997.32" width="83.10" height="6.33" fill="#aed7e7"/>
<rect x="1823.30" y="997.32" width="83.10" height="6.33" fill="#aed7e7"/>
<rect x="1908.60" y="997.32" width="83.10" height="6.33" fill="#aed7e7"/>
<rect x="1482.10" y="1005.65" width="83.10" height="6.33" fill="#f29a5f"/>
<rect x="1567.40" y="1005.65" width="83.10" height="6.33" fill="#aed7e7"/>
<rect x="1652.70" y="1005.65" width="83.10" height="6.33" fill="#c81d26"/>
<rect x="1738.00" y="1005.65" width="83.10" height="6.33" fill="#aed7e7"/>
<rect x="1823.30" y="1005.65" width="83.10" height="6.33" fill="#aed7e7"/>
<rect x="1908.60" y="1005.65" width="83.10" height="6.33" fill="#aed7e7"/>
<rect x="1482.10" y="1013.99" width="83.10" height="6.33" fill="#f29a5f"/>
<rect x="1567.40" y="1013.99" width="83.10" height="6.33" fill="#aed7e7"/>
<rect x="1652.70" y="1013.99" width="83.10" height="6.33" fill="#c81d26"/>
<rect x="1738.00" y="1013.99" width="83.10" height="6.33" fill="#aed7e7"/>
<rect x="1823.30" y="1013.99" width="83.10" height="6.33" fill="#aed7e7"/>
<rect x="1908.60" y="1013.99" width="83.10" height="6.33" fill="#aed7e7"/>
<rect x="1482.10" y="1022.32" width="83.10" height="6.33" fill="#f9c27e"/>
<rect x="1567.40" y="1022.32" width="83.10" height="6.33" fill="#aed7e7"/>
<rect x="1652.70" y="1022.32" width="83.10" height="6.33" fill="#c81d26"/>
<rect x="1738.00" y="1022.32" width="83.10" height="6.33" fill="#aed7e7"/>
<rect x="1823.30" y="1022.32" width="83.10" height="6.33" fill="#aed7e7"/>
<rect x="1908.60" y="1022.32" width="83.10" height="6.33" fill="#aed7e7"/>
<rect x="1482.10" y="1030.65" width="83.10" height="6.33" fill="#f29a5f"/>
<rect x="1567.40" y="1030.65" width="83.10" height="6.33" fill="#aed7e7"/>
<rect x="1652.70" y="1030.65" width="83.10" height="6.33" fill="#c81d26"/>
<rect x="1738.00" y="1030.65" width="83.10" height="6.33" fill="#aed7e7"/>
<rect x="1823.30" y="1030.65" width="83.10" height="6.33" fill="#aed7e7"/>
<rect x="1908.60" y="1030.65" width="83.10" height="6.33" fill="#aed7e7"/>
<rect x="1482.10" y="1038.98" width="83.10" height="6.33" fill="#f9c27e"/>
<rect x="1567.40" y="1038.98" width="83.10" height="6.33" fill="#aed7e7"/>
<rect x="1652.70" y="1038.98" width="83.10" height="6.33" fill="#c81d26"/>
<rect x="1738.00" y="1038.98" width="83.10" height="6.33" fill="#aed7e7"/>
<rect x="1823.30" y="1038.98" width="83.10" height="6.33" fill="#aed7e7"/>
<rect x="1908.60" y="1038.98" width="83.10" height="6.33" fill="#aed7e7"/>
<rect x="1482.10" y="1047.32" width="83.10" height="6.33" fill="#f9c27e"/>
<rect x="1567.40" y="1047.32" width="83.10" height="6.33" fill="#aed7e7"/>
<rect x="1652.70" y="1047.32" width="83.10" height="6.33" fill="#c81d26"/>
<rect x="1738.00" y="1047.32" width="83.10" height="6.33" fill="#aed7e7"/>
<rect x="1823.30" y="1047.32" width="83.10" height="6.33" fill="#aed7e7"/>
<rect x="1908.60" y="1047.32" width="83.10" height="6.33" fill="#aed7e7"/>
<rect x="1482.10" y="1055.65" width="83.10" height="6.33" fill="#f9c27e"/>
<rect x="1567.40" y="1055.65" width="83.10" height="6.33" fill="#aed7e7"/>
<rect x="1652.70" y="1055.65" width="83.10" height="6.33" fill="#c81d26"/>
<rect x="1738.00" y="1055.65" width="83.10" height="6.33" fill="#aed7e7"/>
<rect x="1823.30" y="1055.65" width="83.10" height="6.33" fill="#aed7e7"/>
<rect x="1908.60" y="1055.65" width="83.10" height="6.33" fill="#aed7e7"/>
<rect x="1482.10" y="1063.98" width="83.10" height="6.33" fill="#f9c27e"/>
<rect x="1567.40" y="1063.98" width="83.10" height="6.33" fill="#aed7e7"/>
<rect x="1652.70" y="1063.98" width="83.10" height="6.33" fill="#c81d26"/>
<rect x="1738.00" y="1063.98" width="83.10" height="6.33" fill="#aed7e7"/>
<rect x="1823.30" y="1063.98" width="83.10" height="6.33" fill="#aed7e7"/>
<rect x="1908.60" y="1063.98" width="83.10" height="6.33" fill="#aed7e7"/>
<rect x="1482.10" y="1072.31" width="83.10" height="6.33" fill="#f9c27e"/>
<rect x="1567.40" y="1072.31" width="83.10" height="6.33" fill="#aed7e7"/>
<rect x="1652.70" y="1072.31" width="83.10" height="6.33" fill="#c81d26"/>
<rect x="1738.00" y="1072.31" width="83.10" height="6.33" fill="#aed7e7"/>
<rect x="1823.30" y="1072.31" width="83.10" height="6.33" fill="#aed7e7"/>
<rect x="1908.60" y="1072.31" width="83.10" height="6.33" fill="#aed7e7"/>
<rect x="1482.10" y="1080.65" width="83.10" height="6.33" fill="#f9c27e"/>
<rect x="1567.40" y="1080.65" width="83.10" height="6.33" fill="#aed7e7"/>
<rect x="1652.70" y="1080.65" width="83.10" height="6.33" fill="#c81d26"/>
<rect x="1738.00" y="1080.65" width="83.10" height="6.33" fill="#aed7e7"/>
<rect x="1823.30" y="1080.65" width="83.10" height="6.33" fill="#aed7e7"/>
<rect x="1908.60" y="1080.65" width="83.10" height="6.33" fill="#aed7e7"/>
<rect x="1482.10" y="1088.98" width="83.10" height="6.33" fill="#fce6a4"/>
<rect x="1567.40" y="1088.98" width="83.10" height="6.33" fill="#aed7e7"/>
<rect x="1652.70" y="1088.98" width="83.10" height="6.33" fill="#c81d26"/>
<rect x="1738.00" y="1088.98" width="83.10" height="6.33" fill="#aed7e7"/>
<rect x="1823.30" y="1088.98" width="83.10" height="6.33" fill="#aed7e7"/>
<rect x="1908.60" y="1088.98" width="83.10" height="6.33" fill="#aed7e7"/>
<rect x="1482.10" y="1097.31" width="83.10" height="6.33" fill="#f9c27e"/>
<rect x="1567.40" y="1097.31" width="83.10" height="6.33" fill="#aed7e7"/>
<rect x="1652.70" y="1097.31" width="83.10" height="6.33" fill="#c81d26"/>
<rect x="1738.00" y="1097.31" width="83.10" height="6.33" fill="#aed7e7"/>
<rect x="1823.30" y="1097.31" width="83.10" height="6.33" fill="#aed7e7"/>
<rect x="1908.60" y="1097.31" width="83.10" height="6.33" fill="#aed7e7"/>
<rect x="1482.10" y="1105.64" width="83.10" height="6.33" fill="#fce6a4"/>
<rect x="1567.40" y="1105.64" width="83.10" height="6.33" fill="#aed7e7"/>
<rect x="1652.70" y="1105.64" width="83.10" height="6.33" fill="#c81d26"/>
<rect x="1738.00" y="1105.64" width="83.10" height="6.33" fill="#aed7e7"/>
<rect x="1823.30" y="1105.64" width="83.10" height="6.33" fill="#aed7e7"/>
<rect x="1908.60" y="1105.64" width="83.10" height="6.33" fill="#aed7e7"/>
<rect x="1482.10" y="1113.97" width="83.10" height="6.33" fill="#f9c27e"/>
<rect x="1567.40" y="1113.97" width="83.10" height="6.33" fill="#aed7e7"/>
<rect x="1652.70" y="1113.97" width="83.10" height="6.33" fill="#c81d26"/>
<rect x="1738.00" y="1113.97" width="83.10" height="6.33" fill="#aed7e7"/>
<rect x="1823.30" y="1113.97" width="83.10" height="6.33" fill="#aed7e7"/>
<rect x="1908.60" y="1113.97" width="83.10" height="6.33" fill="#aed7e7"/>
<rect x="1482.10" y="1122.31" width="83.10" height="6.33" fill="#f9c27e"/>
<rect x="1567.40" y="1122.31" width="83.10" height="6.33" fill="#aed7e7"/>
<rect x="1652.70" y="1122.31" width="83.10" height="6.33" fill="#c81d26"/>
<rect x="1738.00" y="1122.31" width="83.10" height="6.33" fill="#aed7e7"/>
<rect x="1823.30" y="1122.31" width="83.10" height="6.33" fill="#aed7e7"/>
<rect x="1908.60" y="1122.31" width="83.10" height="6.33" fill="#aed7e7"/>
<rect x="1482.10" y="1130.64" width="83.10" height="6.33" fill="#fce6a4"/>
<rect x="1567.40" y="1130.64" width="83.10" height="6.33" fill="#cde6ee"/>
<rect x="1652.70" y="1130.64" width="83.10" height="6.33" fill="#c81d26"/>
<rect x="1738.00" y="1130.64" width="83.10" height="6.33" fill="#cde6ee"/>
<rect x="1823.30" y="1130.64" width="83.10" height="6.33" fill="#cde6ee"/>
<rect x="1908.60" y="1130.64" width="83.10" height="6.33" fill="#cde6ee"/>
<rect x="1482.10" y="1138.97" width="83.10" height="6.33" fill="#f29a5f"/>
<rect x="1567.40" y="1138.97" width="83.10" height="6.33" fill="#aed7e7"/>
<rect x="1652.70" y="1138.97" width="83.10" height="6.33" fill="#d82628"/>
<rect x="1738.00" y="1138.97" width="83.10" height="6.33" fill="#aed7e7"/>
<rect x="1823.30" y="1138.97" width="83.10" height="6.33" fill="#aed7e7"/>
<rect x="1908.60" y="1138.97" width="83.10" height="6.33" fill="#aed7e7"/>
<rect x="1482.10" y="1147.30" width="83.10" height="6.33" fill="#f29a5f"/>
<rect x="1567.40" y="1147.30" width="83.10" height="6.33" fill="#aed7e7"/>
<rect x="1652.70" y="1147.30" width="83.10" height="6.33" fill="#d82628"/>
<rect x="1738.00" y="1147.30" width="83.10" height="6.33" fill="#aed7e7"/>
<rect x="1823.30" y="1147.30" width="83.10" height="6.33" fill="#aed7e7"/>
<rect x="1908.60" y="1147.30" width="83.10" height="6.33" fill="#aed7e7"/>
<rect x="1482.10" y="1155.64" width="83.10" height="6.33" fill="#f29a5f"/>
<rect x="1567.40" y="1155.64" width="83.10" height="6.33" fill="#aed7e7"/>
<rect x="1652.70" y="1155.64" width="83.10" height="6.33" fill="#d82628"/>
<rect x="1738.00" y="1155.64" width="83.10" height="6.33" fill="#aed7e7"/>
<rect x="1823.30" y="1155.64" width="83.10" height="6.33" fill="#aed7e7"/>
<rect x="1908.60" y="1155.64" width="83.10" height="6.33" fill="#aed7e7"/>
<rect x="1482.10" y="1163.97" width="83.10" height="6.33" fill="#f29a5f"/>
<rect x="1567.40" y="1163.97" width="83.10" height="6.33" fill="#aed7e7"/>
<rect x="1652.70" y="1163.97" width="83.10" height="6.33" fill="#d82628"/>
<rect x="1738.00" y="1163.97" width="83.10" height="6.33" fill="#aed7e7"/>
<rect x="1823.30" y="1163.97" width="83.10" height="6.33" fill="#aed7e7"/>
<rect x="1908.60" y="1163.97" width="83.10" height="6.33" fill="#aed7e7"/>
<rect x="1482.10" y="1172.30" width="83.10" height="6.33" fill="#f9c27e"/>
<rect x="1567.40" y="1172.30" width="83.10" height="6.33" fill="#aed7e7"/>
<rect x="1652.70" y="1172.30" width="83.10" height="6.33" fill="#d82628"/>
<rect x="1738.00" y="1172.30" width="83.10" height="6.33" fill="#aed7e7"/>
<rect x="1823.30" y="1172.30" width="83.10" height="6.33" fill="#aed7e7"/>
<rect x="1908.60" y="1172.30" width="83.10" height="6.33" fill="#aed7e7"/>
<rect x="1482.10" y="1180.63" width="83.10" height="6.33" fill="#f29a5f"/>
<rect x="1567.40" y="1180.63" width="83.10" height="6.33" fill="#aed7e7"/>
<rect x="1652.70" y="1180.63" width="83.10" height="6.33" fill="#d82628"/>
<rect x="1738.00" y="1180.63" width="83.10" height="6.33" fill="#aed7e7"/>
<rect x="1823.30" y="1180.63" width="83.10" height="6.33" fill="#aed7e7"/>
<rect x="1908.60" y="1180.63" width="83.10" height="6.33" fill="#aed7e7"/>
<rect x="1482.10" y="1188.97" width="83.10" height="6.33" fill="#f9c27e"/>
<rect x="1567.40" y="1188.97" width="83.10" height="6.33" fill="#aed7e7"/>
<rect x="1652.70" y="1188.97" width="83.10" height="6.33" fill="#d82628"/>
<rect x="1738.00" y="1188.97" width="83.10" height="6.33" fill="#aed7e7"/>
<rect x="1823.30" y="1188.97" width="83.10" height="6.33" fill="#aed7e7"/>
<rect x="1908.60" y="1188.97" width="83.10" height="6.33" fill="#aed7e7"/>
<rect x="1482.10" y="1197.30" width="83.10" height="6.33" fill="#f9c27e"/>
<rect x="1567.40" y="1197.30" width="83.10" height="6.33" fill="#aed7e7"/>
<rect x="1652.70" y="1197.30" width="83.10" height="6.33" fill="#d82628"/>
<rect x="1738.00" y="1197.30" width="83.10" height="6.33" fill="#aed7e7"/>
<rect x="1823.30" y="1197.30" width="83.10" height="6.33" fill="#aed7e7"/>
<rect x="1908.60" y="1197.30" width="83.10" height="6.33" fill="#aed7e7"/>
<rect x="1482.10" y="1205.63" width="83.10" height="6.33" fill="#f29a5f"/>
<rect x="1567.40" y="1205.63" width="83.10" height="6.33" fill="#aed7e7"/>
<rect x="1652.70" y="1205.63" width="83.10" height="6.33" fill="#d82628"/>
<rect x="1738.00" y="1205.63" width="83.10" height="6.33" fill="#aed7e7"/>
<rect x="1823.30" y="1205.63" width="83.10" height="6.33" fill="#aed7e7"/>
<rect x="1908.60" y="1205.63" width="83.10" height="6.33" fill="#aed7e7"/>
<rect x="1482.10" y="1213.96" width="83.10" height="6.33" fill="#f29a5f"/>
<rect x="1567.40" y="1213.96" width="83.10" height="6.33" fill="#aed7e7"/>
<rect x="1652.70" y="1213.96" width="83.10" height="6.33" fill="#d82628"/>
<rect x="1738.00" y="1213.96" width="83.10" height="6.33" fill="#aed7e7"/>
<rect x="1823.30" y="1213.96" width="83.10" height="6.33" fill="#aed7e7"/>
<rect x="1908.60" y="1213.96" width="83.10" height="6.33" fill="#aed7e7"/>
<rect x="1482.10" y="1222.30" width="83.10" height="6.33" fill="#f29a5f"/>
<rect x="1567.40" y="1222.30" width="83.10" height="6.33" fill="#aed7e7"/>
<rect x="1652.70" y="1222.30" width="83.10" height="6.33" fill="#d82628"/>
<rect x="1738.00" y="1222.30" width="83.10" height="6.33" fill="#aed7e7"/>
<rect x="1823.30" y="1222.30" width="83.10" height="6.33" fill="#aed7e7"/>
<rect x="1908.60" y="1222.30" width="83.10" height="6.33" fill="#aed7e7"/>
<rect x="1482.10" y="1230.63" width="83.10" height="6.33" fill="#f29a5f"/>
<rect x="1567.40" y="1230.63" width="83.10" height="6.33" fill="#aed7e7"/>
<rect x="1652.70" y="1230.63" width="83.10" height="6.33" fill="#d82628"/>
<rect x="1738.00" y="1230.63" width="83.10" height="6.33" fill="#aed7e7"/>
<rect x="1823.30" y="1230.63" width="83.10" height="6.33" fill="#aed7e7"/>
<rect x="1908.60" y="1230.63" width="83.10" height="6.33" fill="#aed7e7"/>
<rect x="1482.10" y="1238.96" width="83.10" height="6.33" fill="#ea6a48"/>
<rect x="1567.40" y="1238.96" width="83.10" height="6.33" fill="#aed7e7"/>
<rect x="1652.70" y="1238.96" width="83.10" height="6.33" fill="#d82628"/>
<rect x="1738.00" y="1238.96" width="83.10" height="6.33" fill="#aed7e7"/>
<rect x="1823.30" y="1238.96" width="83.10" height="6.33" fill="#aed7e7"/>
<rect x="1908.60" y="1238.96" width="83.10" height="6.33" fill="#aed7e7"/>
<rect x="1482.10" y="1247.29" width="83.10" height="6.33" fill="#f9c27e"/>
<rect x="1567.40" y="1247.29" width="83.10" height="6.33" fill="#f5f2c9"/>
<rect x="1652.70" y="1247.29" width="83.10" height="6.33" fill="#d82628"/>
<rect x="1738.00" y="1247.29" width="83.10" height="6.33" fill="#93cbe1"/>
<rect x="1823.30" y="1247.29" width="83.10" height="6.33" fill="#93cbe1"/>
<rect x="1908.60" y="1247.29" width="83.10" height="6.33" fill="#93cbe1"/>
<rect x="1482.10" y="1255.62" width="83.10" height="6.33" fill="#f9c27e"/>
<rect x="1567.40" y="1255.62" width="83.10" height="6.33" fill="#e6f1e8"/>
<rect x="1652.70" y="1255.62" width="83.10" height="6.33" fill="#d82628"/>
<rect x="1738.00" y="1255.62" width="83.10" height="6.33" fill="#aed7e7"/>
<rect x="1823.30" y="1255.62" width="83.10" height="6.33" fill="#aed7e7"/>
<rect x="1908.60" y="1255.62" width="83.10" height="6.33" fill="#aed7e7"/>
<rect x="1482.10" y="1263.96" width="83.10" height="6.33" fill="#f9c27e"/>
<rect x="1567.40" y="1263.96" width="83.10" height="6.33" fill="#e6f1e8"/>
<rect x="1652.70" y="1263.96" width="83.10" height="6.33" fill="#c81d26"/>
<rect x="1738.00" y="1263.96" width="83.10" height="6.33" fill="#aed7e7"/>
<rect x="1823.30" y="1263.96" width="83.10" height="6.33" fill="#aed7e7"/>
<rect x="1908.60" y="1263.96" width="83.10" height="6.33" fill="#aed7e7"/>
<rect x="1482.10" y="1272.29" width="83.10" height="6.33" fill="#fce6a4"/>
<rect x="1567.40" y="1272.29" width="83.10" height="6.33" fill="#fce6a4"/>
<rect x="1652.70" y="1272.29" width="83.10" height="6.33" fill="#d82628"/>
<rect x="1738.00" y="1272.29" width="83.10" height="6.33" fill="#93cbe1"/>
<rect x="1823.30" y="1272.29" width="83.10" height="6.33" fill="#93cbe1"/>
<rect x="1908.60" y="1272.29" width="83.10" height="6.33" fill="#93cbe1"/>
<rect x="1482.10" y="1280.62" width="83.10" height="6.33" fill="#f29a5f"/>
<rect x="1567.40" y="1280.62" width="83.10" height="6.33" fill="#aed7e7"/>
<rect x="1652.70" y="1280.62" width="83.10" height="6.33" fill="#d82628"/>
<rect x="1738.00" y="1280.62" width="83.10" height="6.33" fill="#aed7e7"/>
<rect x="1823.30" y="1280.62" width="83.10" height="6.33" fill="#e6f1e8"/>
<rect x="1908.60" y="1280.62" width="83.10" height="6.33" fill="#72bbda"/>
<rect x="1482.10" y="1288.95" width="83.10" height="6.33" fill="#d82628"/>
<rect x="1567.40" y="1288.95" width="83.10" height="6.33" fill="#93cbe1"/>
<rect x="1652.70" y="1288.95" width="83.10" height="6.33" fill="#f9c27e"/>
<rect x="1738.00" y="1288.95" width="83.10" height="6.33" fill="#e6f1e8"/>
<rect x="1823.30" y="1288.95" width="83.10" height="6.33" fill="#e6f1e8"/>
<rect x="1908.60" y="1288.95" width="83.10" height="6.33" fill="#93cbe1"/>
<rect x="1482.10" y="1297.29" width="83.10" height="6.33" fill="#ea6a48"/>
<rect x="1567.40" y="1297.29" width="83.10" height="6.33" fill="#f29a5f"/>
<rect x="1652.70" y="1297.29" width="83.10" height="6.33" fill="#ea6a48"/>
<rect x="1738.00" y="1297.29" width="83.10" height="6.33" fill="#72bbda"/>
<rect x="1823.30" y="1297.29" width="83.10" height="6.33" fill="#93cbe1"/>
<rect x="1908.60" y="1297.29" width="83.10" height="6.33" fill="#93cbe1"/>
<rect x="1482.10" y="1305.62" width="83.10" height="6.33" fill="#72bbda"/>
<rect x="1567.40" y="1305.62" width="83.10" height="6.33" fill="#72bbda"/>
<rect x="1652.70" y="1305.62" width="83.10" height="6.33" fill="#72bbda"/>
<rect x="1738.00" y="1305.62" width="83.10" height="6.33" fill="#f29a5f"/>
<rect x="1823.30" y="1305.62" width="83.10" height="6.33" fill="#f29a5f"/>
<rect x="1908.60" y="1305.62" width="83.10" height="6.33" fill="#ea6a48"/>
<rect x="1482.10" y="1313.95" width="83.10" height="6.33" fill="#72bbda"/>
<rect x="1567.40" y="1313.95" width="83.10" height="6.33" fill="#72bbda"/>
<rect x="1652.70" y="1313.95" width="83.10" height="6.33" fill="#72bbda"/>
<rect x="1738.00" y="1313.95" width="83.10" height="6.33" fill="#f9c27e"/>
<rect x="1823.30" y="1313.95" width="83.10" height="6.33" fill="#f29a5f"/>
<rect x="1908.60" y="1313.95" width="83.10" height="6.33" fill="#ea6a48"/>
<rect x="1482.10" y="1322.28" width="83.10" height="6.33" fill="#72bbda"/>
<rect x="1567.40" y="1322.28" width="83.10" height="6.33" fill="#72bbda"/>
<rect x="1652.70" y="1322.28" width="83.10" height="6.33" fill="#72bbda"/>
<rect x="1738.00" y="1322.28" width="83.10" height="6.33" fill="#f29a5f"/>
<rect x="1823.30" y="1322.28" width="83.10" height="6.33" fill="#f29a5f"/>
<rect x="1908.60" y="1322.28" width="83.10" height="6.33" fill="#ea6a48"/>
<rect x="1482.10" y="1330.62" width="83.10" height="6.33" fill="#72bbda"/>
<rect x="1567.40" y="1330.62" width="83.10" height="6.33" fill="#72bbda"/>
<rect x="1652.70" y="1330.62" width="83.10" height="6.33" fill="#72bbda"/>
<rect x="1738.00" y="1330.62" width="83.10" height="6.33" fill="#f9c27e"/>
<rect x="1823.30" y="1330.62" width="83.10" height="6.33" fill="#ea6a48"/>
<rect x="1908.60" y="1330.62" width="83.10" height="6.33" fill="#ea6a48"/>
<rect x="1482.10" y="1338.95" width="83.10" height="6.33" fill="#72bbda"/>
<rect x="1567.40" y="1338.95" width="83.10" height="6.33" fill="#72bbda"/>
<rect x="1652.70" y="1338.95" width="83.10" height="6.33" fill="#72bbda"/>
<rect x="1738.00" y="1338.95" width="83.10" height="6.33" fill="#f29a5f"/>
<rect x="1823.30" y="1338.95" width="83.10" height="6.33" fill="#ea6a48"/>
<rect x="1908.60" y="1338.95" width="83.10" height="6.33" fill="#ea6a48"/>
<rect x="1482.10" y="1347.28" width="83.10" height="6.33" fill="#72bbda"/>
<rect x="1567.40" y="1347.28" width="83.10" height="6.33" fill="#72bbda"/>
<rect x="1652.70" y="1347.28" width="83.10" height="6.33" fill="#72bbda"/>
<rect x="1738.00" y="1347.28" width="83.10" height="6.33" fill="#f29a5f"/>
<rect x="1823.30" y="1347.28" width="83.10" height="6.33" fill="#ea6a48"/>
<rect x="1908.60" y="1347.28" width="83.10" height="6.33" fill="#f29a5f"/>
<rect x="1482.10" y="1355.61" width="83.10" height="6.33" fill="#72bbda"/>
<rect x="1567.40" y="1355.61" width="83.10" height="6.33" fill="#72bbda"/>
<rect x="1652.70" y="1355.61" width="83.10" height="6.33" fill="#72bbda"/>
<rect x="1738.00" y="1355.61" width="83.10" height="6.33" fill="#f29a5f"/>
<rect x="1823.30" y="1355.61" width="83.10" height="6.33" fill="#ea6a48"/>
<rect x="1908.60" y="1355.61" width="83.10" height="6.33" fill="#f29a5f"/>
<rect x="1482.10" y="1363.95" width="83.10" height="6.33" fill="#72bbda"/>
<rect x="1567.40" y="1363.95" width="83.10" height="6.33" fill="#72bbda"/>
<rect x="1652.70" y="1363.95" width="83.10" height="6.33" fill="#72bbda"/>
<rect x="1738.00" y="1363.95" width="83.10" height="6.33" fill="#ea6a48"/>
<rect x="1823.30" y="1363.95" width="83.10" height="6.33" fill="#f29a5f"/>
<rect x="1908.60" y="1363.95" width="83.10" height="6.33" fill="#f9c27e"/>
<rect x="1482.10" y="1372.28" width="83.10" height="6.33" fill="#72bbda"/>
<rect x="1567.40" y="1372.28" width="83.10" height="6.33" fill="#72bbda"/>
<rect x="1652.70" y="1372.28" width="83.10" height="6.33" fill="#72bbda"/>
<rect x="1738.00" y="1372.28" width="83.10" height="6.33" fill="#ea6a48"/>
<rect x="1823.30" y="1372.28" width="83.10" height="6.33" fill="#e34c3a"/>
<rect x="1908.60" y="1372.28" width="83.10" height="6.33" fill="#f9c27e"/>
<rect x="1482.10" y="1380.61" width="83.10" height="6.33" fill="#72bbda"/>
<rect x="1567.40" y="1380.61" width="83.10" height="6.33" fill="#72bbda"/>
<rect x="1652.70" y="1380.61" width="83.10" height="6.33" fill="#72bbda"/>
<rect x="1738.00" y="1380.61" width="83.10" height="6.33" fill="#f29a5f"/>
<rect x="1823.30" y="1380.61" width="83.10" height="6.33" fill="#f9c27e"/>
<rect x="1908.60" y="1380.61" width="83.10" height="6.33" fill="#e34c3a"/>
<rect x="1482.10" y="1388.94" width="83.10" height="6.33" fill="#72bbda"/>
<rect x="1567.40" y="1388.94" width="83.10" height="6.33" fill="#72bbda"/>
<rect x="1652.70" y="1388.94" width="83.10" height="6.33" fill="#72bbda"/>
<rect x="1738.00" y="1388.94" width="83.10" height="6.33" fill="#f29a5f"/>
<rect x="1823.30" y="1388.94" width="83.10" height="6.33" fill="#f9c27e"/>
<rect x="1908.60" y="1388.94" width="83.10" height="6.33" fill="#e34c3a"/>
<rect x="1482.10" y="1397.27" width="83.10" height="6.33" fill="#72bbda"/>
<rect x="1567.40" y="1397.27" width="83.10" height="6.33" fill="#72bbda"/>
<rect x="1652.70" y="1397.27" width="83.10" height="6.33" fill="#72bbda"/>
<rect x="1738.00" y="1397.27" width="83.10" height="6.33" fill="#f29a5f"/>
<rect x="1823.30" y="1397.27" width="83.10" height="6.33" fill="#f9c27e"/>
<rect x="1908.60" y="1397.27" width="83.10" height="6.33" fill="#e34c3a"/>
<rect x="1482.10" y="1405.61" width="83.10" height="6.33" fill="#72bbda"/>
<rect x="1567.40" y="1405.61" width="83.10" height="6.33" fill="#72bbda"/>
<rect x="1652.70" y="1405.61" width="83.10" height="6.33" fill="#72bbda"/>
<rect x="1738.00" y="1405.61" width="83.10" height="6.33" fill="#f29a5f"/>
<rect x="1823.30" y="1405.61" width="83.10" height="6.33" fill="#f9c27e"/>
<rect x="1908.60" y="1405.61" width="83.10" height="6.33" fill="#e34c3a"/>
<rect x="1482.10" y="1413.94" width="83.10" height="6.33" fill="#72bbda"/>
<rect x="1567.40" y="1413.94" width="83.10" height="6.33" fill="#72bbda"/>
<rect x="1652.70" y="1413.94" width="83.10" height="6.33" fill="#72bbda"/>
<rect x="1738.00" y="1413.94" width="83.10" height="6.33" fill="#f29a5f"/>
<rect x="1823.30" y="1413.94" width="83.10" height="6.33" fill="#f9c27e"/>
<rect x="1908.60" y="1413.94" width="83.10" height="6.33" fill="#e34c3a"/>
<rect x="1482.10" y="1422.27" width="83.10" height="6.33" fill="#72bbda"/>
<rect x="1567.40" y="1422.27" width="83.10" height="6.33" fill="#72bbda"/>
<rect x="1652.70" y="1422.27" width="83.10" height="6.33" fill="#72bbda"/>
<rect x="1738.00" y="1422.27" width="83.10" height="6.33" fill="#ea6a48"/>
<rect x="1823.30" y="1422.27" width="83.10" height="6.33" fill="#f9c27e"/>
<rect x="1908.60" y="1422.27" width="83.10" height="6.33" fill="#e34c3a"/>
<rect x="1482.10" y="1430.60" width="83.10" height="6.33" fill="#72bbda"/>
<rect x="1567.40" y="1430.60" width="83.10" height="6.33" fill="#72bbda"/>
<rect x="1652.70" y="1430.60" width="83.10" height="6.33" fill="#72bbda"/>
<rect x="1738.00" y="1430.60" width="83.10" height="6.33" fill="#f29a5f"/>
<rect x="1823.30" y="1430.60" width="83.10" height="6.33" fill="#f29a5f"/>
<rect x="1908.60" y="1430.60" width="83.10" height="6.33" fill="#e34c3a"/>
<rect x="1482.10" y="1438.94" width="83.10" height="6.33" fill="#72bbda"/>
<rect x="1567.40" y="1438.94" width="83.10" height="6.33" fill="#72bbda"/>
<rect x="1652.70" y="1438.94" width="83.10" height="6.33" fill="#72bbda"/>
<rect x="1738.00" y="1438.94" width="83.10" height="6.33" fill="#f29a5f"/>
<rect x="1823.30" y="1438.94" width="83.10" height="6.33" fill="#f29a5f"/>
<rect x="1908.60" y="1438.94" width="83.10" height="6.33" fill="#e34c3a"/>
<rect x="1482.10" y="1447.27" width="83.10" height="6.33" fill="#72bbda"/>
<rect x="1567.40" y="1447.27" width="83.10" height="6.33" fill="#72bbda"/>
<rect x="1652.70" y="1447.27" width="83.10" height="6.33" fill="#72bbda"/>
<rect x="1738.00" y="1447.27" width="83.10" height="6.33" fill="#f29a5f"/>
<rect x="1823.30" y="1447.27" width="83.10" height="6.33" fill="#f29a5f"/>
<rect x="1908.60" y="1447.27" width="83.10" height="6.33" fill="#e34c3a"/>
<rect x="1482.10" y="1455.60" width="83.10" height="6.33" fill="#72bbda"/>
<rect x="1567.40" y="1455.60" width="83.10" height="6.33" fill="#72bbda"/>
<rect x="1652.70" y="1455.60" width="83.10" height="6.33" fill="#72bbda"/>
<rect x="1738.00" y="1455.60" width="83.10" height="6.33" fill="#f9c27e"/>
<rect x="1823.30" y="1455.60" width="83.10" height="6.33" fill="#f29a5f"/>
<rect x="1908.60" y="1455.60" width="83.10" height="6.33" fill="#e34c3a"/>
<rect x="1482.10" y="1463.93" width="83.10" height="6.33" fill="#72bbda"/>
<rect x="1567.40" y="1463.93" width="83.10" height="6.33" fill="#72bbda"/>
<rect x="1652.70" y="1463.93" width="83.10" height="6.33" fill="#72bbda"/>
<rect x="1738.00" y="1463.93" width="83.10" height="6.33" fill="#f29a5f"/>
<rect x="1823.30" y="1463.93" width="83.10" height="6.33" fill="#ea6a48"/>
<rect x="1908.60" y="1463.93" width="83.10" height="6.33" fill="#f29a5f"/>
<rect x="1482.10" y="1472.27" width="83.10" height="6.33" fill="#72bbda"/>
<rect x="1567.40" y="1472.27" width="83.10" height="6.33" fill="#72bbda"/>
<rect x="1652.70" y="1472.27" width="83.10" height="6.33" fill="#72bbda"/>
<rect x="1738.00" y="1472.27" width="83.10" height="6.33" fill="#f29a5f"/>
<rect x="1823.30" y="1472.27" width="83.10" height="6.33" fill="#ea6a48"/>
<rect x="1908.60" y="1472.27" width="83.10" height="6.33" fill="#f29a5f"/>
<rect x="1482.10" y="1480.60" width="83.10" height="6.33" fill="#72bbda"/>
<rect x="1567.40" y="1480.60" width="83.10" height="6.33" fill="#72bbda"/>
<rect x="1652.70" y="1480.60" width="83.10" height="6.33" fill="#72bbda"/>
<rect x="1738.00" y="1480.60" width="83.10" height="6.33" fill="#ea6a48"/>
<rect x="1823.30" y="1480.60" width="83.10" height="6.33" fill="#f9c27e"/>
<rect x="1908.60" y="1480.60" width="83.10" height="6.33" fill="#f29a5f"/>
<rect x="1482.10" y="1488.93" width="83.10" height="6.33" fill="#72bbda"/>
<rect x="1567.40" y="1488.93" width="83.10" height="6.33" fill="#72bbda"/>
<rect x="1652.70" y="1488.93" width="83.10" height="6.33" fill="#72bbda"/>
<rect x="1738.00" y="1488.93" width="83.10" height="6.33" fill="#ea6a48"/>
<rect x="1823.30" y="1488.93" width="83.10" height="6.33" fill="#f9c27e"/>
<rect x="1908.60" y="1488.93" width="83.10" height="6.33" fill="#f29a5f"/>
<rect x="1482.10" y="1497.26" width="83.10" height="6.33" fill="#72bbda"/>
<rect x="1567.40" y="1497.26" width="83.10" height="6.33" fill="#72bbda"/>
<rect x="1652.70" y="1497.26" width="83.10" height="6.33" fill="#72bbda"/>
<rect x="1738.00" y="1497.26" width="83.10" height="6.33" fill="#ea6a48"/>
<rect x="1823.30" y="1497.26" width="83.10" height="6.33" fill="#f29a5f"/>
<rect x="1908.60" y="1497.26" width="83.10" height="6.33" fill="#f29a5f"/>
<rect x="1482.10" y="1505.59" width="83.10" height="6.33" fill="#72bbda"/>
<rect x="1567.40" y="1505.59" width="83.10" height="6.33" fill="#72bbda"/>
<rect x="1652.70" y="1505.59" width="83.10" height="6.33" fill="#72bbda"/>
<rect x="1738.00" y="1505.59" width="83.10" height="6.33" fill="#f29a5f"/>
<rect x="1823.30" y="1505.59" width="83.10" height="6.33" fill="#f29a5f"/>
<rect x="1908.60" y="1505.59" width="83.10" height="6.33" fill="#ea6a48"/>
<rect x="1482.10" y="1513.93" width="83.10" height="6.33" fill="#72bbda"/>
<rect x="1567.40" y="1513.93" width="83.10" height="6.33" fill="#72bbda"/>
<rect x="1652.70" y="1513.93" width="83.10" height="6.33" fill="#72bbda"/>
<rect x="1738.00" y="1513.93" width="83.10" height="6.33" fill="#f29a5f"/>
<rect x="1823.30" y="1513.93" width="83.10" height="6.33" fill="#fce6a4"/>
<rect x="1908.60" y="1513.93" width="83.10" height="6.33" fill="#ea6a48"/>
<rect x="1482.10" y="1522.26" width="83.10" height="6.33" fill="#93cbe1"/>
<rect x="1567.40" y="1522.26" width="83.10" height="6.33" fill="#72bbda"/>
<rect x="1652.70" y="1522.26" width="83.10" height="6.33" fill="#72bbda"/>
<rect x="1738.00" y="1522.26" width="83.10" height="6.33" fill="#f29a5f"/>
<rect x="1823.30" y="1522.26" width="83.10" height="6.33" fill="#f9c27e"/>
<rect x="1908.60" y="1522.26" width="83.10" height="6.33" fill="#e34c3a"/>
<rect x="1482.10" y="1530.59" width="83.10" height="6.33" fill="#72bbda"/>
<rect x="1567.40" y="1530.59" width="83.10" height="6.33" fill="#72bbda"/>
<rect x="1652.70" y="1530.59" width="83.10" height="6.33" fill="#72bbda"/>
<rect x="1738.00" y="1530.59" width="83.10" height="6.33" fill="#f9c27e"/>
<rect x="1823.30" y="1530.59" width="83.10" height="6.33" fill="#fce6a4"/>
<rect x="1908.60" y="1530.59" width="83.10" height="6.33" fill="#d82628"/>
<rect x="1482.10" y="1538.92" width="83.10" height="6.33" fill="#72bbda"/>
<rect x="1567.40" y="1538.92" width="83.10" height="6.33" fill="#72bbda"/>
<rect x="1652.70" y="1538.92" width="83.10" height="6.33" fill="#72bbda"/>
<rect x="1738.00" y="1538.92" width="83.10" height="6.33" fill="#f29a5f"/>
<rect x="1823.30" y="1538.92" width="83.10" height="6.33" fill="#fce6a4"/>
<rect x="1908.60" y="1538.92" width="83.10" height="6.33" fill="#e34c3a"/>
<rect x="1482.10" y="1547.26" width="83.10" height="6.33" fill="#72bbda"/>
<rect x="1567.40" y="1547.26" width="83.10" height="6.33" fill="#72bbda"/>
<rect x="1652.70" y="1547.26" width="83.10" height="6.33" fill="#72bbda"/>
<rect x="1738.00" y="1547.26" width="83.10" height="6.33" fill="#f29a5f"/>
<rect x="1823.30" y="1547.26" width="83.10" height="6.33" fill="#f9c27e"/>
<rect x="1908.60" y="1547.26" width="83.10" height="6.33" fill="#e34c3a"/>
<rect x="1482.10" y="1555.59" width="83.10" height="6.33" fill="#72bbda"/>
<rect x="1567.40" y="1555.59" width="83.10" height="6.33" fill="#72bbda"/>
<rect x="1652.70" y="1555.59" width="83.10" height="6.33" fill="#72bbda"/>
<rect x="1738.00" y="1555.59" width="83.10" height="6.33" fill="#f29a5f"/>
<rect x="1823.30" y="1555.59" width="83.10" height="6.33" fill="#fce6a4"/>
<rect x="1908.60" y="1555.59" width="83.10" height="6.33" fill="#e34c3a"/>
<rect x="1482.10" y="1563.92" width="83.10" height="6.33" fill="#72bbda"/>
<rect x="1567.40" y="1563.92" width="83.10" height="6.33" fill="#72bbda"/>
<rect x="1652.70" y="1563.92" width="83.10" height="6.33" fill="#72bbda"/>
<rect x="1738.00" y="1563.92" width="83.10" height="6.33" fill="#f29a5f"/>
<rect x="1823.30" y="1563.92" width="83.10" height="6.33" fill="#fce6a4"/>
<rect x="1908.60" y="1563.92" width="83.10" height="6.33" fill="#e34c3a"/>
<rect x="1482.10" y="1572.25" width="83.10" height="6.33" fill="#72bbda"/>
<rect x="1567.40" y="1572.25" width="83.10" height="6.33" fill="#72bbda"/>
<rect x="1652.70" y="1572.25" width="83.10" height="6.33" fill="#72bbda"/>
<rect x="1738.00" y="1572.25" width="83.10" height="6.33" fill="#f29a5f"/>
<rect x="1823.30" y="1572.25" width="83.10" height="6.33" fill="#fce6a4"/>
<rect x="1908.60" y="1572.25" width="83.10" height="6.33" fill="#e34c3a"/>
<rect x="1482.10" y="1580.59" width="83.10" height="6.33" fill="#72bbda"/>
<rect x="1567.40" y="1580.59" width="83.10" height="6.33" fill="#72bbda"/>
<rect x="1652.70" y="1580.59" width="83.10" height="6.33" fill="#72bbda"/>
<rect x="1738.00" y="1580.59" width="83.10" height="6.33" fill="#f29a5f"/>
<rect x="1823.30" y="1580.59" width="83.10" height="6.33" fill="#fce6a4"/>
<rect x="1908.60" y="1580.59" width="83.10" height="6.33" fill="#d82628"/>
<rect x="1482.10" y="1588.92" width="83.10" height="6.33" fill="#72bbda"/>
<rect x="1567.40" y="1588.92" width="83.10" height="6.33" fill="#72bbda"/>
<rect x="1652.70" y="1588.92" width="83.10" height="6.33" fill="#72bbda"/>
<rect x="1738.00" y="1588.92" width="83.10" height="6.33" fill="#f29a5f"/>
<rect x="1823.30" y="1588.92" width="83.10" height="6.33" fill="#fce6a4"/>
<rect x="1908.60" y="1588.92" width="83.10" height="6.33" fill="#d82628"/>
<rect x="1482.10" y="1597.25" width="83.10" height="6.33" fill="#72bbda"/>
<rect x="1567.40" y="1597.25" width="83.10" height="6.33" fill="#72bbda"/>
<rect x="1652.70" y="1597.25" width="83.10" height="6.33" fill="#72bbda"/>
<rect x="1738.00" y="1597.25" width="83.10" height="6.33" fill="#f29a5f"/>
<rect x="1823.30" y="1597.25" width="83.10" height="6.33" fill="#fce6a4"/>
<rect x="1908.60" y="1597.25" width="83.10" height="6.33" fill="#d82628"/>
<rect x="1482.10" y="1605.58" width="83.10" height="6.33" fill="#93cbe1"/>
<rect x="1567.40" y="1605.58" width="83.10" height="6.33" fill="#93cbe1"/>
<rect x="1652.70" y="1605.58" width="83.10" height="6.33" fill="#93cbe1"/>
<rect x="1738.00" y="1605.58" width="83.10" height="6.33" fill="#f29a5f"/>
<rect x="1823.30" y="1605.58" width="83.10" height="6.33" fill="#f5f2c9"/>
<rect x="1908.60" y="1605.58" width="83.10" height="6.33" fill="#d82628"/>
<rect x="1482.10" y="1613.92" width="83.10" height="6.33" fill="#93cbe1"/>
<rect x="1567.40" y="1613.92" width="83.10" height="6.33" fill="#93cbe1"/>
<rect x="1652.70" y="1613.92" width="83.10" height="6.33" fill="#93cbe1"/>
<rect x="1738.00" y="1613.92" width="83.10" height="6.33" fill="#f29a5f"/>
<rect x="1823.30" y="1613.92" width="83.10" height="6.33" fill="#f5f2c9"/>
<rect x="1908.60" y="1613.92" width="83.10" height="6.33" fill="#d82628"/>
<rect x="1482.10" y="1622.25" width="83.10" height="6.33" fill="#72bbda"/>
<rect x="1567.40" y="1622.25" width="83.10" height="6.33" fill="#72bbda"/>
<rect x="1652.70" y="1622.25" width="83.10" height="6.33" fill="#72bbda"/>
<rect x="1738.00" y="1622.25" width="83.10" height="6.33" fill="#f29a5f"/>
<rect x="1823.30" y="1622.25" width="83.10" height="6.33" fill="#f5f2c9"/>
<rect x="1908.60" y="1622.25" width="83.10" height="6.33" fill="#d82628"/>
<rect x="1482.10" y="1630.58" width="83.10" height="6.33" fill="#72bbda"/>
<rect x="1567.40" y="1630.58" width="83.10" height="6.33" fill="#72bbda"/>
<rect x="1652.70" y="1630.58" width="83.10" height="6.33" fill="#72bbda"/>
<rect x="1738.00" y="1630.58" width="83.10" height="6.33" fill="#ea6a48"/>
<rect x="1823.30" y="1630.58" width="83.10" height="6.33" fill="#f5f2c9"/>
<rect x="1908.60" y="1630.58" width="83.10" height="6.33" fill="#e34c3a"/>
<rect x="1482.10" y="1638.91" width="83.10" height="6.33" fill="#72bbda"/>
<rect x="1567.40" y="1638.91" width="83.10" height="6.33" fill="#72bbda"/>
<rect x="1652.70" y="1638.91" width="83.10" height="6.33" fill="#72bbda"/>
<rect x="1738.00" y="1638.91" width="83.10" height="6.33" fill="#f29a5f"/>
<rect x="1823.30" y="1638.91" width="83.10" height="6.33" fill="#f5f2c9"/>
<rect x="1908.60" y="1638.91" width="83.10" height="6.33" fill="#d82628"/>
<rect x="1482.10" y="1647.24" width="83.10" height="6.33" fill="#72bbda"/>
<rect x="1567.40" y="1647.24" width="83.10" height="6.33" fill="#72bbda"/>
<rect x="1652.70" y="1647.24" width="83.10" height="6.33" fill="#72bbda"/>
<rect x="1738.00" y="1647.24" width="83.10" height="6.33" fill="#f29a5f"/>
<rect x="1823.30" y="1647.24" width="83.10" height="6.33" fill="#f5f2c9"/>
<rect x="1908.60" y="1647.24" width="83.10" height="6.33" fill="#c81d26"/>
<rect x="1482.10" y="1655.58" width="83.10" height="6.33" fill="#72bbda"/>
<rect x="1567.40" y="1655.58" width="83.10" height="6.33" fill="#72bbda"/>
<rect x="1652.70" y="1655.58" width="83.10" height="6.33" fill="#72bbda"/>
<rect x="1738.00" y="1655.58" width="83.10" height="6.33" fill="#f29a5f"/>
<rect x="1823.30" y="1655.58" width="83.10" height="6.33" fill="#fce6a4"/>
<rect x="1908.60" y="1655.58" width="83.10" height="6.33" fill="#d82628"/>
<rect x="1482.10" y="1663.91" width="83.10" height="6.33" fill="#93cbe1"/>
<rect x="1567.40" y="1663.91" width="83.10" height="6.33" fill="#93cbe1"/>
<rect x="1652.70" y="1663.91" width="83.10" height="6.33" fill="#93cbe1"/>
<rect x="1738.00" y="1663.91" width="83.10" height="6.33" fill="#f29a5f"/>
<rect x="1823.30" y="1663.91" width="83.10" height="6.33" fill="#f5f2c9"/>
<rect x="1908.60" y="1663.91" width="83.10" height="6.33" fill="#c81d26"/>
<rect x="1482.10" y="1672.24" width="83.10" height="6.33" fill="#93cbe1"/>
<rect x="1567.40" y="1672.24" width="83.10" height="6.33" fill="#93cbe1"/>
<rect x="1652.70" y="1672.24" width="83.10" height="6.33" fill="#93cbe1"/>
<rect x="1738.00" y="1672.24" width="83.10" height="6.33" fill="#ea6a48"/>
<rect x="1823.30" y="1672.24" width="83.10" height="6.33" fill="#f5f2c9"/>
<rect x="1908.60" y="1672.24" width="83.10" height="6.33" fill="#e34c3a"/>
<rect x="1482.10" y="1680.57" width="83.10" height="6.33" fill="#93cbe1"/>
<rect x="1567.40" y="1680.57" width="83.10" height="6.33" fill="#93cbe1"/>
<rect x="1652.70" y="1680.57" width="83.10" height="6.33" fill="#93cbe1"/>
<rect x="1738.00" y="1680.57" width="83.10" height="6.33" fill="#ea6a48"/>
<rect x="1823.30" y="1680.57" width="83.10" height="6.33" fill="#f5f2c9"/>
<rect x="1908.60" y="1680.57" width="83.10" height="6.33" fill="#e34c3a"/>
<rect x="1482.10" y="1688.91" width="83.10" height="6.33" fill="#93cbe1"/>
<rect x="1567.40" y="1688.91" width="83.10" height="6.33" fill="#93cbe1"/>
<rect x="1652.70" y="1688.91" width="83.10" height="6.33" fill="#93cbe1"/>
<rect x="1738.00" y="1688.91" width="83.10" height="6.33" fill="#ea6a48"/>
<rect x="1823.30" y="1688.91" width="83.10" height="6.33" fill="#e6f1e8"/>
<rect x="1908.60" y="1688.91" width="83.10" height="6.33" fill="#d82628"/>
<rect x="1482.10" y="1697.24" width="83.10" height="6.33" fill="#93cbe1"/>
<rect x="1567.40" y="1697.24" width="83.10" height="6.33" fill="#93cbe1"/>
<rect x="1652.70" y="1697.24" width="83.10" height="6.33" fill="#93cbe1"/>
<rect x="1738.00" y="1697.24" width="83.10" height="6.33" fill="#e34c3a"/>
<rect x="1823.30" y="1697.24" width="83.10" height="6.33" fill="#f5f2c9"/>
<rect x="1908.60" y="1697.24" width="83.10" height="6.33" fill="#e34c3a"/>
<rect x="1482.10" y="1705.57" width="83.10" height="6.33" fill="#aed7e7"/>
<rect x="1567.40" y="1705.57" width="83.10" height="6.33" fill="#aed7e7"/>
<rect x="1652.70" y="1705.57" width="83.10" height="6.33" fill="#aed7e7"/>
<rect x="1738.00" y="1705.57" width="83.10" height="6.33" fill="#e34c3a"/>
<rect x="1823.30" y="1705.57" width="83.10" height="6.33" fill="#cde6ee"/>
<rect x="1908.60" y="1705.57" width="83.10" height="6.33" fill="#e34c3a"/>
<rect x="1482.10" y="1713.90" width="83.10" height="6.33" fill="#93cbe1"/>
<rect x="1567.40" y="1713.90" width="83.10" height="6.33" fill="#93cbe1"/>
<rect x="1652.70" y="1713.90" width="83.10" height="6.33" fill="#93cbe1"/>
<rect x="1738.00" y="1713.90" width="83.10" height="6.33" fill="#ea6a48"/>
<rect x="1823.30" y="1713.90" width="83.10" height="6.33" fill="#f5f2c9"/>
<rect x="1908.60" y="1713.90" width="83.10" height="6.33" fill="#e34c3a"/>
<rect x="1482.10" y="1722.24" width="83.10" height="6.33" fill="#93cbe1"/>
<rect x="1567.40" y="1722.24" width="83.10" height="6.33" fill="#93cbe1"/>
<rect x="1652.70" y="1722.24" width="83.10" height="6.33" fill="#93cbe1"/>
<rect x="1738.00" y="1722.24" width="83.10" height="6.33" fill="#ea6a48"/>
<rect x="1823.30" y="1722.24" width="83.10" height="6.33" fill="#fce6a4"/>
<rect x="1908.60" y="1722.24" width="83.10" height="6.33" fill="#e34c3a"/>
<rect x="1482.10" y="1730.57" width="83.10" height="6.33" fill="#93cbe1"/>
<rect x="1567.40" y="1730.57" width="83.10" height="6.33" fill="#93cbe1"/>
<rect x="1652.70" y="1730.57" width="83.10" height="6.33" fill="#93cbe1"/>
<rect x="1738.00" y="1730.57" width="83.10" height="6.33" fill="#ea6a48"/>
<rect x="1823.30" y="1730.57" width="83.10" height="6.33" fill="#fce6a4"/>
<rect x="1908.60" y="1730.57" width="83.10" height="6.33" fill="#e34c3a"/>
<rect x="1482.10" y="1738.90" width="83.10" height="6.33" fill="#93cbe1"/>
<rect x="1567.40" y="1738.90" width="83.10" height="6.33" fill="#93cbe1"/>
<rect x="1652.70" y="1738.90" width="83.10" height="6.33" fill="#93cbe1"/>
<rect x="1738.00" y="1738.90" width="83.10" height="6.33" fill="#ea6a48"/>
<rect x="1823.30" y="1738.90" width="83.10" height="6.33" fill="#fce6a4"/>
<rect x="1908.60" y="1738.90" width="83.10" height="6.33" fill="#e34c3a"/>
<rect x="1482.10" y="1747.23" width="83.10" height="6.33" fill="#93cbe1"/>
<rect x="1567.40" y="1747.23" width="83.10" height="6.33" fill="#93cbe1"/>
<rect x="1652.70" y="1747.23" width="83.10" height="6.33" fill="#93cbe1"/>
<rect x="1738.00" y="1747.23" width="83.10" height="6.33" fill="#e34c3a"/>
<rect x="1823.30" y="1747.23" width="83.10" height="6.33" fill="#f5f2c9"/>
<rect x="1908.60" y="1747.23" width="83.10" height="6.33" fill="#e34c3a"/>
<rect x="1482.10" y="1755.57" width="83.10" height="6.33" fill="#93cbe1"/>
<rect x="1567.40" y="1755.57" width="83.10" height="6.33" fill="#93cbe1"/>
<rect x="1652.70" y="1755.57" width="83.10" height="6.33" fill="#93cbe1"/>
<rect x="1738.00" y="1755.57" width="83.10" height="6.33" fill="#ea6a48"/>
<rect x="1823.30" y="1755.57" width="83.10" height="6.33" fill="#fce6a4"/>
<rect x="1908.60" y="1755.57" width="83.10" height="6.33" fill="#e34c3a"/>
<rect x="1482.10" y="1763.90" width="83.10" height="6.33" fill="#72bbda"/>
<rect x="1567.40" y="1763.90" width="83.10" height="6.33" fill="#72bbda"/>
<rect x="1652.70" y="1763.90" width="83.10" height="6.33" fill="#72bbda"/>
<rect x="1738.00" y="1763.90" width="83.10" height="6.33" fill="#e34c3a"/>
<rect x="1823.30" y="1763.90" width="83.10" height="6.33" fill="#f9c27e"/>
<rect x="1908.60" y="1763.90" width="83.10" height="6.33" fill="#ea6a48"/>
<rect x="1482.10" y="1772.23" width="83.10" height="6.33" fill="#93cbe1"/>
<rect x="1567.40" y="1772.23" width="83.10" height="6.33" fill="#93cbe1"/>
<rect x="1652.70" y="1772.23" width="83.10" height="6.33" fill="#93cbe1"/>
<rect x="1738.00" y="1772.23" width="83.10" height="6.33" fill="#e34c3a"/>
<rect x="1823.30" y="1772.23" width="83.10" height="6.33" fill="#f9c27e"/>
<rect x="1908.60" y="1772.23" width="83.10" height="6.33" fill="#f29a5f"/>
<rect x="1482.10" y="1780.56" width="83.10" height="6.33" fill="#93cbe1"/>
<rect x="1567.40" y="1780.56" width="83.10" height="6.33" fill="#93cbe1"/>
<rect x="1652.70" y="1780.56" width="83.10" height="6.33" fill="#93cbe1"/>
<rect x="1738.00" y="1780.56" width="83.10" height="6.33" fill="#ea6a48"/>
<rect x="1823.30" y="1780.56" width="83.10" height="6.33" fill="#f9c27e"/>
<rect x="1908.60" y="1780.56" width="83.10" height="6.33" fill="#ea6a48"/>
<rect x="1482.10" y="1788.89" width="83.10" height="6.33" fill="#93cbe1"/>
<rect x="1567.40" y="1788.89" width="83.10" height="6.33" fill="#93cbe1"/>
<rect x="1652.70" y="1788.89" width="83.10" height="6.33" fill="#93cbe1"/>
<rect x="1738.00" y="1788.89" width="83.10" height="6.33" fill="#e34c3a"/>
<rect x="1823.30" y="1788.89" width="83.10" height="6.33" fill="#fce6a4"/>
<rect x="1908.60" y="1788.89" width="83.10" height="6.33" fill="#f29a5f"/>
<rect x="1482.10" y="1797.23" width="83.10" height="6.33" fill="#93cbe1"/>
<rect x="1567.40" y="1797.23" width="83.10" height="6.33" fill="#93cbe1"/>
<rect x="1652.70" y="1797.23" width="83.10" height="6.33" fill="#93cbe1"/>
<rect x="1738.00" y="1797.23" width="83.10" height="6.33" fill="#d82628"/>
<rect x="1823.30" y="1797.23" width="83.10" height="6.33" fill="#fce6a4"/>
<rect x="1908.60" y="1797.23" width="83.10" height="6.33" fill="#f29a5f"/>
<rect x="1482.10" y="1805.56" width="83.10" height="6.33" fill="#93cbe1"/>
<rect x="1567.40" y="1805.56" width="83.10" height="6.33" fill="#93cbe1"/>
<rect x="1652.70" y="1805.56" width="83.10" height="6.33" fill="#93cbe1"/>
<rect x="1738.00" y="1805.56" width="83.10" height="6.33" fill="#e34c3a"/>
<rect x="1823.30" y="1805.56" width="83.10" height="6.33" fill="#f29a5f"/>
<rect x="1908.60" y="1805.56" width="83.10" height="6.33" fill="#f9c27e"/>
<rect x="1482.10" y="1813.89" width="83.10" height="6.33" fill="#93cbe1"/>
<rect x="1567.40" y="1813.89" width="83.10" height="6.33" fill="#93cbe1"/>
<rect x="1652.70" y="1813.89" width="83.10" height="6.33" fill="#93cbe1"/>
<rect x="1738.00" y="1813.89" width="83.10" height="6.33" fill="#d82628"/>
<rect x="1823.30" y="1813.89" width="83.10" height="6.33" fill="#f9c27e"/>
<rect x="1908.60" y="1813.89" width="83.10" height="6.33" fill="#f9c27e"/>
<rect x="1482.10" y="1822.22" width="83.10" height="6.33" fill="#aed7e7"/>
<rect x="1567.40" y="1822.22" width="83.10" height="6.33" fill="#aed7e7"/>
<rect x="1652.70" y="1822.22" width="83.10" height="6.33" fill="#aed7e7"/>
<rect x="1738.00" y="1822.22" width="83.10" height="6.33" fill="#ea6a48"/>
<rect x="1823.30" y="1822.22" width="83.10" height="6.33" fill="#e34c3a"/>
<rect x="1908.60" y="1822.22" width="83.10" height="6.33" fill="#aed7e7"/>
<rect x="1482.10" y="1830.56" width="83.10" height="6.33" fill="#aed7e7"/>
<rect x="1567.40" y="1830.56" width="83.10" height="6.33" fill="#aed7e7"/>
<rect x="1652.70" y="1830.56" width="83.10" height="6.33" fill="#aed7e7"/>
<rect x="1738.00" y="1830.56" width="83.10" height="6.33" fill="#d82628"/>
<rect x="1823.30" y="1830.56" width="83.10" height="6.33" fill="#f29a5f"/>
<rect x="1908.60" y="1830.56" width="83.10" height="6.33" fill="#aed7e7"/>
<rect x="1482.10" y="1838.89" width="83.10" height="6.33" fill="#93cbe1"/>
<rect x="1567.40" y="1838.89" width="83.10" height="6.33" fill="#93cbe1"/>
<rect x="1652.70" y="1838.89" width="83.10" height="6.33" fill="#93cbe1"/>
<rect x="1738.00" y="1838.89" width="83.10" height="6.33" fill="#ea6a48"/>
<rect x="1823.30" y="1838.89" width="83.10" height="6.33" fill="#e34c3a"/>
<rect x="1908.60" y="1838.89" width="83.10" height="6.33" fill="#f5f2c9"/>
<rect x="1482.10" y="1847.22" width="83.10" height="6.33" fill="#93cbe1"/>
<rect x="1567.40" y="1847.22" width="83.10" height="6.33" fill="#93cbe1"/>
<rect x="1652.70" y="1847.22" width="83.10" height="6.33" fill="#93cbe1"/>
<rect x="1738.00" y="1847.22" width="83.10" height="6.33" fill="#f9c27e"/>
<rect x="1823.30" y="1847.22" width="83.10" height="6.33" fill="#f29a5f"/>
<rect x="1908.60" y="1847.22" width="83.10" height="6.33" fill="#d82628"/>
<rect x="1482.10" y="1855.55" width="83.10" height="6.33" fill="#93cbe1"/>
<rect x="1567.40" y="1855.55" width="83.10" height="6.33" fill="#93cbe1"/>
<rect x="1652.70" y="1855.55" width="83.10" height="6.33" fill="#93cbe1"/>
<rect x="1738.00" y="1855.55" width="83.10" height="6.33" fill="#f9c27e"/>
<rect x="1823.30" y="1855.55" width="83.10" height="6.33" fill="#f9c27e"/>
<rect x="1908.60" y="1855.55" width="83.10" height="6.33" fill="#d82628"/>
<rect x="1482.10" y="1863.89" width="83.10" height="6.33" fill="#93cbe1"/>
<rect x="1567.40" y="1863.89" width="83.10" height="6.33" fill="#93cbe1"/>
<rect x="1652.70" y="1863.89" width="83.10" height="6.33" fill="#93cbe1"/>
<rect x="1738.00" y="1863.89" width="83.10" height="6.33" fill="#fce6a4"/>
<rect x="1823.30" y="1863.89" width="83.10" height="6.33" fill="#f29a5f"/>
<rect x="1908.60" y="1863.89" width="83.10" height="6.33" fill="#d82628"/>
<rect x="1482.10" y="1872.22" width="83.10" height="6.33" fill="#93cbe1"/>
<rect x="1567.40" y="1872.22" width="83.10" height="6.33" fill="#93cbe1"/>
<rect x="1652.70" y="1872.22" width="83.10" height="6.33" fill="#93cbe1"/>
<rect x="1738.00" y="1872.22" width="83.10" height="6.33" fill="#fce6a4"/>
<rect x="1823.30" y="1872.22" width="83.10" height="6.33" fill="#f9c27e"/>
<rect x="1908.60" y="1872.22" width="83.10" height="6.33" fill="#c81d26"/>
<rect x="1482.10" y="1880.55" width="83.10" height="6.33" fill="#93cbe1"/>
<rect x="1567.40" y="1880.55" width="83.10" height="6.33" fill="#93cbe1"/>
<rect x="1652.70" y="1880.55" width="83.10" height="6.33" fill="#93cbe1"/>
<rect x="1738.00" y="1880.55" width="83.10" height="6.33" fill="#f9c27e"/>
<rect x="1823.30" y="1880.55" width="83.10" height="6.33" fill="#fce6a4"/>
<rect x="1908.60" y="1880.55" width="83.10" height="6.33" fill="#d82628"/>
<rect x="1482.10" y="1888.88" width="83.10" height="6.33" fill="#93cbe1"/>
<rect x="1567.40" y="1888.88" width="83.10" height="6.33" fill="#93cbe1"/>
<rect x="1652.70" y="1888.88" width="83.10" height="6.33" fill="#93cbe1"/>
<rect x="1738.00" y="1888.88" width="83.10" height="6.33" fill="#f9c27e"/>
<rect x="1823.30" y="1888.88" width="83.10" height="6.33" fill="#fce6a4"/>
<rect x="1908.60" y="1888.88" width="83.10" height="6.33" fill="#d82628"/>
<rect x="1482.10" y="1897.21" width="83.10" height="6.33" fill="#93cbe1"/>
<rect x="1567.40" y="1897.21" width="83.10" height="6.33" fill="#93cbe1"/>
<rect x="1652.70" y="1897.21" width="83.10" height="6.33" fill="#93cbe1"/>
<rect x="1738.00" y="1897.21" width="83.10" height="6.33" fill="#fce6a4"/>
<rect x="1823.30" y="1897.21" width="83.10" height="6.33" fill="#f9c27e"/>
<rect x="1908.60" y="1897.21" width="83.10" height="6.33" fill="#c81d26"/>
<rect x="1482.10" y="1905.55" width="83.10" height="6.33" fill="#93cbe1"/>
<rect x="1567.40" y="1905.55" width="83.10" height="6.33" fill="#93cbe1"/>
<rect x="1652.70" y="1905.55" width="83.10" height="6.33" fill="#93cbe1"/>
<rect x="1738.00" y="1905.55" width="83.10" height="6.33" fill="#fce6a4"/>
<rect x="1823.30" y="1905.55" width="83.10" height="6.33" fill="#ea6a48"/>
<rect x="1908.60" y="1905.55" width="83.10" height="6.33" fill="#e34c3a"/>
<rect x="1482.10" y="1913.88" width="83.10" height="6.33" fill="#93cbe1"/>
<rect x="1567.40" y="1913.88" width="83.10" height="6.33" fill="#93cbe1"/>
<rect x="1652.70" y="1913.88" width="83.10" height="6.33" fill="#93cbe1"/>
<rect x="1738.00" y="1913.88" width="83.10" height="6.33" fill="#aed7e7"/>
<rect x="1823.30" y="1913.88" width="83.10" height="6.33" fill="#e34c3a"/>
<rect x="1908.60" y="1913.88" width="83.10" height="6.33" fill="#ea6a48"/>
<rect x="1482.10" y="1922.21" width="83.10" height="6.33" fill="#fce6a4"/>
<rect x="1567.40" y="1922.21" width="83.10" height="6.33" fill="#93cbe1"/>
<rect x="1652.70" y="1922.21" width="83.10" height="6.33" fill="#93cbe1"/>
<rect x="1738.00" y="1922.21" width="83.10" height="6.33" fill="#aed7e7"/>
<rect x="1823.30" y="1922.21" width="83.10" height="6.33" fill="#c81d26"/>
<rect x="1908.60" y="1922.21" width="83.10" height="6.33" fill="#f5f2c9"/>
<rect x="1482.10" y="1930.54" width="83.10" height="6.33" fill="#aed7e7"/>
<rect x="1567.40" y="1930.54" width="83.10" height="6.33" fill="#93cbe1"/>
<rect x="1652.70" y="1930.54" width="83.10" height="6.33" fill="#93cbe1"/>
<rect x="1738.00" y="1930.54" width="83.10" height="6.33" fill="#aed7e7"/>
<rect x="1823.30" y="1930.54" width="83.10" height="6.33" fill="#c81d26"/>
<rect x="1908.60" y="1930.54" width="83.10" height="6.33" fill="#f9c27e"/>
<rect x="1482.10" y="1938.88" width="83.10" height="6.33" fill="#e6f1e8"/>
<rect x="1567.40" y="1938.88" width="83.10" height="6.33" fill="#3a4f9f"/>
<rect x="1652.70" y="1938.88" width="83.10" height="6.33" fill="#cde6ee"/>
<rect x="1738.00" y="1938.88" width="83.10" height="6.33" fill="#f29a5f"/>
<rect x="1823.30" y="1938.88" width="83.10" height="6.33" fill="#f29a5f"/>
<rect x="1908.60" y="1938.88" width="83.10" height="6.33" fill="#f29a5f"/>
<rect x="1482.10" y="1947.21" width="83.10" height="6.33" fill="#f5f2c9"/>
<rect x="1567.40" y="1947.21" width="83.10" height="6.33" fill="#72bbda"/>
<rect x="1652.70" y="1947.21" width="83.10" height="6.33" fill="#4a9ccc"/>
<rect x="1738.00" y="1947.21" width="83.10" height="6.33" fill="#f29a5f"/>
<rect x="1823.30" y="1947.21" width="83.10" height="6.33" fill="#f9c27e"/>
<rect x="1908.60" y="1947.21" width="83.10" height="6.33" fill="#ea6a48"/>
<rect x="1482.10" y="1955.54" width="83.10" height="6.33" fill="#fce6a4"/>
<rect x="1567.40" y="1955.54" width="83.10" height="6.33" fill="#2475b5"/>
<rect x="1652.70" y="1955.54" width="83.10" height="6.33" fill="#93cbe1"/>
<rect x="1738.00" y="1955.54" width="83.10" height="6.33" fill="#f9c27e"/>
<rect x="1823.30" y="1955.54" width="83.10" height="6.33" fill="#f29a5f"/>
<rect x="1908.60" y="1955.54" width="83.10" height="6.33" fill="#ea6a48"/>
<rect x="1482.10" y="1963.87" width="83.10" height="6.33" fill="#fce6a4"/>
<rect x="1567.40" y="1963.87" width="83.10" height="6.33" fill="#3a4f9f"/>
<rect x="1652.70" y="1963.87" width="83.10" height="6.33" fill="#cde6ee"/>
<rect x="1738.00" y="1963.87" width="83.10" height="6.33" fill="#f29a5f"/>
<rect x="1823.30" y="1963.87" width="83.10" height="6.33" fill="#f29a5f"/>
<rect x="1908.60" y="1963.87" width="83.10" height="6.33" fill="#ea6a48"/>
<rect x="1482.10" y="1972.21" width="83.10" height="6.33" fill="#2475b5"/>
<rect x="1567.40" y="1972.21" width="83.10" height="6.33" fill="#cde6ee"/>
<rect x="1652.70" y="1972.21" width="83.10" height="6.33" fill="#fce6a4"/>
<rect x="1738.00" y="1972.21" width="83.10" height="6.33" fill="#fce6a4"/>
<rect x="1823.30" y="1972.21" width="83.10" height="6.33" fill="#fce6a4"/>
<rect x="1908.60" y="1972.21" width="83.10" height="6.33" fill="#d82628"/>
<rect x="1482.10" y="1980.54" width="83.10" height="6.33" fill="#fce6a4"/>
<rect x="1567.40" y="1980.54" width="83.10" height="6.33" fill="#d82628"/>
<rect x="1652.70" y="1980.54" width="83.10" height="6.33" fill="#fce6a4"/>
<rect x="1738.00" y="1980.54" width="83.10" height="6.33" fill="#4a9ccc"/>
<rect x="1823.30" y="1980.54" width="83.10" height="6.33" fill="#e6f1e8"/>
<rect x="1908.60" y="1980.54" width="83.10" height="6.33" fill="#93cbe1"/>
<rect x="1482.10" y="1988.87" width="83.10" height="6.33" fill="#cde6ee"/>
<rect x="1567.40" y="1988.87" width="83.10" height="6.33" fill="#ea6a48"/>
<rect x="1652.70" y="1988.87" width="83.10" height="6.33" fill="#e34c3a"/>
<rect x="1738.00" y="1988.87" width="83.10" height="6.33" fill="#cde6ee"/>
<rect x="1823.30" y="1988.87" width="83.10" height="6.33" fill="#93cbe1"/>
<rect x="1908.60" y="1988.87" width="83.10" height="6.33" fill="#93cbe1"/>
<rect x="1482.10" y="1997.20" width="83.10" height="6.33" fill="#aed7e7"/>
<rect x="1567.40" y="1997.20" width="83.10" height="6.33" fill="#93cbe1"/>
<rect x="1652.70" y="1997.20" width="83.10" height="6.33" fill="#4a9ccc"/>
<rect x="1738.00" y="1997.20" width="83.10" height="6.33" fill="#ea6a48"/>
<rect x="1823.30" y="1997.20" width="83.10" height="6.33" fill="#f29a5f"/>
<rect x="1908.60" y="1997.20" width="83.10" height="6.33" fill="#f29a5f"/>
<rect x="1482.10" y="2005.54" width="83.10" height="6.33" fill="#f29a5f"/>
<rect x="1567.40" y="2005.54" width="83.10" height="6.33" fill="#d82628"/>
<rect x="1652.70" y="2005.54" width="83.10" height="6.33" fill="#cde6ee"/>
<rect x="1738.00" y="2005.54" width="83.10" height="6.33" fill="#2475b5"/>
<rect x="1823.30" y="2005.54" width="83.10" height="6.33" fill="#fce6a4"/>
<rect x="1908.60" y="2005.54" width="83.10" height="6.33" fill="#cde6ee"/>
<rect x="1482.10" y="2013.87" width="83.10" height="6.33" fill="#fce6a4"/>
<rect x="1567.40" y="2013.87" width="83.10" height="6.33" fill="#c81d26"/>
<rect x="1652.70" y="2013.87" width="83.10" height="6.33" fill="#cde6ee"/>
<rect x="1738.00" y="2013.87" width="83.10" height="6.33" fill="#f5f2c9"/>
<rect x="1823.30" y="2013.87" width="83.10" height="6.33" fill="#93cbe1"/>
<rect x="1908.60" y="2013.87" width="83.10" height="6.33" fill="#93cbe1"/>
<path d="M1304.6 1459.0H1287.4V1979.8H1359.0M1347.2 1128.1H1304.6V1790.0H1382.0M1371.8 959.9H1347.2V1296.3H1452.0M1394.7 715.0H1371.8V1204.9H1425.0M1416.6 512.8H1394.7V917.2H1433.0M1422.0 346.4H1416.6V679.1H1428.0M1431.0 207.0H1422.0V485.8H1432.0M1445.6 146.0H1431.0V268.0H1438.0M1450.2 120.6H1445.6V171.4H1465.0M1457.5 100.1H1450.2V141.2H1456.9M1464.7 87.1H1457.5V113.1H1464.1M1475.5 77.7H1464.7V96.4H1469.8M1475.5 71.4H1475.5V83.9H1475.5M1475.5 67.3H1475.5V75.6H1475.5M1475.5 92.3H1469.8V100.6H1475.5M1475.5 108.9H1464.1V117.3H1475.5M1462.9 129.8H1456.9V152.7H1456.9M1475.5 125.6H1462.9V133.9H1475.5M1461.1 146.4H1456.9V158.9H1475.5M1475.5 142.3H1461.1V150.6H1475.5M1475.5 167.3H1465.0V175.6H1475.5M1438.0 241.7H1438.0V294.3H1440.3M1447.8 214.1H1438.0V269.3H1453.0M1460.3 194.3H1447.8V233.9H1455.1M1464.3 188.1H1460.3V200.6H1475.5M1475.5 183.9H1464.3V192.3H1475.5M1461.9 221.4H1455.1V246.4H1461.1M1468.3 213.1H1461.9V229.7H1462.3M1475.5 208.9H1468.3V217.2H1475.5M1475.5 225.6H1462.3V233.9H1475.5M1475.5 242.2H1461.1V250.6H1475.5M1455.3 263.1H1453.0V275.6H1475.5M1475.5 258.9H1455.3V267.2H1475.5M1459.7 288.1H1440.3V300.6H1475.5M1475.5 283.9H1459.7V292.2H1475.5M1449.7 447.0H1432.0V524.5H1459.2M1457.7 411.2H1449.7V482.8H1460.4M1462.2 369.7H1457.7V452.6H1468.7M1465.0 339.6H1462.2V399.8H1462.2M1466.9 324.5H1465.0V354.7H1475.5M1475.5 313.1H1466.9V336.0H1475.5M1475.5 308.9H1475.5V317.2H1475.5M1475.5 329.7H1475.5V342.2H1475.5M1475.5 325.6H1475.5V333.9H1475.5M1475.5 350.6H1475.5V358.9H1475.5M1467.6 374.5H1462.2V425.0H1468.5M1475.5 367.2H1467.6V381.8H1469.8M1475.5 375.6H1469.8V388.1H1475.5M1475.5 383.9H1475.5V392.2H1475.5M1468.7 416.2H1468.5V433.9H1475.5M1468.7 406.8H1468.7V425.6H1475.5M1475.5 400.6H1468.7V413.1H1475.5M1475.5 408.9H1475.5V417.2H1475.5M1475.5 446.4H1468.7V458.9H1475.5M1475.5 442.2H1475.5V450.6H1475.5M1475.5 471.4H1460.4V494.3H1468.7M1475.5 467.2H1475.5V475.6H1475.5M1475.5 488.0H1468.7V500.5H1475.5M1475.5 483.9H1475.5V492.2H1475.5M1467.5 515.1H1459.2V533.9H1475.5M1475.5 508.9H1467.5V521.4H1467.5M1475.5 517.2H1467.5V525.5H1475.5M1475.5 542.2H1428.0V816.1H1429.6M1438.7 777.5H1429.6V854.7H1451.5M1445.3 732.1H1438.7V822.9H1454.0M1445.3 686.6H1445.3V777.6H1468.7M1460.6 622.2H1445.3V751.0H1462.7M1470.2 570.3H1460.6V674.0H1461.1M1470.2 561.0H1470.2V579.7H1475.5M1475.5 554.7H1470.2V567.2H1475.5M1475.5 550.5H1475.5V558.9H1475.5M1475.5 575.5H1475.5V583.9H1475.5M1468.1 635.0H1461.1V713.0H1469.8M1469.1 602.6H1468.1V667.5H1468.6M1475.5 596.4H1469.1V608.9H1475.5M1475.5 592.2H1475.5V600.5H1475.5M1469.1 644.8H1468.6V690.1H1468.7M1469.1 627.6H1469.1V662.0H1470.6M1475.5 621.4H1469.1V633.9H1475.5M1475.5 617.2H1475.5V625.5H1475.5M1470.7 652.6H1470.6V671.4H1475.5M1470.7 646.4H1470.7V658.9H1475.5M1475.5 642.2H1470.7V650.5H1475.5M1475.5 667.2H1475.5V675.5H1475.5M1475.5 683.9H1468.7V696.4H1470.7M1475.5 692.2H1470.7V700.5H1475.5M1475.5 708.9H1469.8V717.2H1475.5M1463.0 743.2H1462.7V758.9H1475.5M1464.5 735.9H1463.0V750.5H1475.5M1475.5 729.7H1464.5V742.2H1475.5M1475.5 725.5H1475.5V733.9H1475.5M1470.7 771.3H1468.7V783.8H1475.5M1475.5 767.2H1470.7V775.5H1475.5M1457.5 812.0H1454.0V833.8H1475.5M1463.4 802.6H1457.5V821.3H1460.6M1465.3 796.3H1463.4V808.8H1475.5M1475.5 792.2H1465.3V800.5H1475.5M1475.5 817.2H1460.6V825.5H1475.5M1463.8 846.3H1451.5V863.0H1461.0M1475.5 842.2H1463.8V850.5H1475.5M1475.5 858.8H1461.0V867.2H1475.5M1453.1 898.4H1433.0V935.9H1440.2M1453.1 888.0H1453.1V908.8H1475.5M1461.6 879.7H1453.1V896.3H1459.2M1475.5 875.5H1461.6V883.8H1475.5M1475.5 892.2H1459.2V900.5H1475.5M1475.5 917.2H1440.2V954.7H1443.9M1449.4 932.8H1443.9V976.5H1450.6M1475.5 925.5H1449.4V940.1H1456.9M1475.5 933.8H1456.9V946.3H1457.5M1475.5 942.2H1457.5V950.5H1475.5M1458.2 969.2H1450.6V983.8H1475.5M1460.1 963.0H1458.2V975.5H1475.5M1475.5 958.8H1460.1V967.2H1475.5M1436.3 1134.8H1425.0V1274.9H1435.5M1445.1 1065.5H1436.3V1204.1H1458.4M1463.2 1019.8H1445.1V1111.2H1450.4M1475.5 1009.9H1463.2V1029.7H1463.2M1475.5 1002.6H1475.5V1017.2H1475.5M1475.5 996.3H1475.5V1008.8H1475.5M1475.5 992.2H1475.5V1000.5H1475.5M1475.5 1025.5H1463.2V1033.8H1475.5M1462.8 1088.5H1450.4V1133.8H1475.5M1475.5 1065.1H1462.8V1111.9H1462.8M1475.5 1052.6H1475.5V1077.6H1475.5M1475.5 1046.3H1475.5V1058.8H1475.5M1475.5 1042.2H1475.5V1050.5H1475.5M1475.5 1071.3H1475.5V1083.8H1475.5M1475.5 1067.1H1475.5V1075.5H1475.5M1463.2 1102.6H1462.8V1121.3H1475.5M1463.2 1096.3H1463.2V1108.8H1475.5M1475.5 1092.1H1463.2V1100.5H1475.5M1475.5 1117.1H1475.5V1125.5H1475.5M1458.4 1173.9H1458.4V1234.3H1460.6M1475.5 1159.8H1458.4V1188.0H1463.2M1475.5 1152.6H1475.5V1167.1H1475.5M1475.5 1146.3H1475.5V1158.8H1475.5M1475.5 1142.1H1475.5V1150.5H1475.5M1463.2 1179.6H1463.2V1196.3H1475.5M1475.5 1175.5H1463.2V1183.8H1475.5M1475.5 1192.1H1475.5V1200.5H1475.5M1475.5 1226.5H1460.6V1242.1H1475.5M1475.5 1219.2H1475.5V1233.8H1475.5M1475.5 1213.0H1475.5V1225.5H1475.5M1475.5 1208.8H1475.5V1217.1H1475.5M1451.0 1266.1H1435.5V1283.8H1475.5M1456.4 1256.7H1451.0V1275.5H1475.5M1475.5 1250.5H1456.4V1263.0H1465.2M1475.5 1258.8H1465.2V1267.1H1475.5M1475.5 1292.1H1452.0V1300.5H1475.5M1384.0 1671.5H1382.0V1908.5H1388.9M1386.2 1525.6H1384.0V1817.3H1407.7M1436.2 1404.0H1386.2V1647.2H1426.3M1445.5 1348.4H1436.2V1459.7H1436.2M1461.0 1328.6H1445.5V1368.2H1457.9M1465.4 1319.2H1461.0V1337.9H1465.4M1465.4 1313.0H1465.4V1325.4H1475.5M1475.5 1308.8H1465.4V1317.1H1475.5M1475.5 1333.8H1465.4V1342.1H1475.5M1457.9 1360.9H1457.9V1375.4H1475.5M1475.5 1354.6H1457.9V1367.1H1475.5M1475.5 1350.4H1475.5V1358.8H1475.5M1455.3 1433.0H1436.2V1486.4H1452.7M1463.1 1414.5H1455.3V1451.5H1463.6M1475.5 1403.6H1463.1V1425.4H1475.5M1475.5 1394.2H1475.5V1412.9H1475.5M1475.5 1387.9H1475.5V1400.4H1475.5M1475.5 1383.8H1475.5V1392.1H1475.5M1475.5 1408.8H1475.5V1417.1H1475.5M1475.5 1444.2H1463.6V1458.8H1475.5M1475.5 1437.9H1475.5V1450.4H1475.5M1475.5 1433.8H1475.5V1442.1H1475.5M1475.5 1471.3H1452.7V1501.5H1458.5M1475.5 1467.1H1475.5V1475.4H1475.5M1464.2 1494.2H1458.5V1508.8H1475.5M1475.5 1487.9H1464.2V1500.4H1475.5M1475.5 1483.8H1475.5V1492.1H1475.5M1444.0 1573.7H1426.3V1720.7H1453.1M1459.0 1533.5H1444.0V1613.8H1457.1M1460.6 1521.3H1459.0V1545.7H1459.0M1475.5 1517.1H1460.6V1525.4H1475.5M1475.5 1533.8H1459.0V1557.7H1465.4M1465.4 1546.3H1465.4V1569.2H1475.5M1475.5 1542.1H1465.4V1550.4H1475.5M1475.5 1562.9H1475.5V1575.4H1475.5M1475.5 1558.8H1475.5V1567.1H1475.5M1475.5 1594.2H1457.1V1633.5H1457.1M1475.5 1587.9H1475.5V1600.4H1475.5M1475.5 1583.8H1475.5V1592.1H1475.5M1475.5 1612.9H1457.1V1654.1H1457.1M1475.5 1608.7H1475.5V1617.1H1475.5M1461.7 1641.0H1457.1V1667.1H1475.5M1462.2 1629.6H1461.7V1652.5H1465.1M1475.5 1625.4H1462.2V1633.7H1475.5M1467.0 1646.2H1465.1V1658.7H1475.5M1475.5 1642.1H1467.0V1650.4H1475.5M1454.0 1700.9H1453.1V1740.5H1463.2M1460.5 1693.1H1454.0V1708.7H1475.5M1460.5 1685.8H1460.5V1700.4H1475.5M1475.5 1679.6H1460.5V1692.1H1475.5M1475.5 1675.4H1475.5V1683.7H1475.5M1465.6 1726.4H1463.2V1754.6H1463.2M1475.5 1717.1H1465.6V1735.8H1475.5M1475.5 1729.6H1475.5V1742.1H1475.5M1475.5 1725.4H1475.5V1733.7H1475.5M1475.5 1750.4H1463.2V1758.7H1475.5M1451.3 1798.8H1407.7V1835.8H1447.2M1455.3 1784.8H1451.3V1812.9H1462.2M1459.4 1773.3H1455.3V1796.2H1465.4M1475.5 1767.1H1459.4V1779.6H1462.2M1475.5 1775.4H1462.2V1783.7H1475.5M1475.5 1792.1H1465.4V1800.4H1475.5M1475.5 1808.7H1462.2V1817.1H1475.5M1452.3 1829.6H1447.2V1842.1H1475.5M1475.5 1825.4H1452.3V1833.7H1475.5M1449.9 1893.6H1388.9V1923.3H1440.3M1456.6 1878.5H1449.9V1908.7H1475.5M1461.3 1862.9H1456.6V1894.1H1458.8M1465.4 1854.6H1461.3V1871.2H1463.2M1475.5 1850.4H1465.4V1858.7H1475.5M1475.5 1867.1H1463.2V1875.4H1475.5M1475.5 1887.9H1458.8V1900.4H1475.5M1475.5 1883.7H1475.5V1892.0H1475.5M1475.5 1917.0H1440.3V1929.5H1445.8M1475.5 1925.4H1445.8V1933.7H1475.5M1417.1 1962.4H1359.0V1997.2H1394.9M1449.2 1949.3H1417.1V1975.4H1475.5M1475.5 1942.0H1449.2V1956.6H1449.2M1475.5 1950.4H1449.2V1962.9H1460.7M1475.5 1958.7H1460.7V1967.0H1475.5M1438.0 1987.9H1394.9V2006.6H1394.9M1475.5 1983.7H1438.0V1992.0H1475.5M1475.5 2000.4H1394.9V2012.9H1432.8M1475.5 2008.7H1432.8V2017.0H1475.5" stroke="#111" stroke-width="2" fill="none"/>
<defs><linearGradient id="cb" x1="0" x2="1" y1="0" y2="0"><stop offset="0" stop-color="#43409b"/><stop offset="0.11" stop-color="#1b78b6"/><stop offset="0.23" stop-color="#5fb0d5"/><stop offset="0.31" stop-color="#a8d6e8"/><stop offset="0.41" stop-color="#e2f0ee"/><stop offset="0.5" stop-color="#fbf8c4"/><stop offset="0.59" stop-color="#fde596"/><stop offset="0.69" stop-color="#f7ab69"/><stop offset="0.77" stop-color="#ee7650"/><stop offset="0.87" stop-color="#e2412f"/><stop offset="0.95" stop-color="#d61d22"/><stop offset="1" stop-color="#c41a1f"/></linearGradient></defs>
<rect x="1315.4" y="2041.5" width="145" height="56.7" fill="url(#cb)" stroke="#1a1a1a" stroke-width="1.3"/>
<line x1="1348" y1="2098" x2="1348" y2="2107.5" stroke="#1a1a1a" stroke-width="1.6"/>
<text x="1348" y="2132.8" class="r" font-size="16" text-anchor="middle">-2</text>
<line x1="1388.1" y1="2098" x2="1388.1" y2="2107.5" stroke="#1a1a1a" stroke-width="1.6"/>
<text x="1388.1" y="2132.8" class="r" font-size="16" text-anchor="middle">0</text>
<line x1="1427.1" y1="2098" x2="1427.1" y2="2107.5" stroke="#1a1a1a" stroke-width="1.6"/>
<text x="1427.1" y="2132.8" class="r" font-size="16" text-anchor="middle">2</text>
<g transform="translate(1542.5 0) rotate(-90)"><text x="-2129.90" y="0.00" class="r" font-size="43.31" fill="#1a1a1a" textLength="97.75" lengthAdjust="spacingAndGlyphs">aKS1</text></g>
<g transform="translate(1624.9 0) rotate(-90)"><text x="-2129.97" y="0.00" class="r" font-size="43.31" fill="#1a1a1a" textLength="102.32" lengthAdjust="spacingAndGlyphs">aKS2</text></g>
<g transform="translate(1714.1 0) rotate(-90)"><text x="-2129.97" y="0.00" class="r" font-size="43.31" fill="#1a1a1a" textLength="101.89" lengthAdjust="spacingAndGlyphs">aKS3</text></g>
<g transform="translate(1797.4 0) rotate(-90)"><text x="-2170.70" y="0.00" class="r" font-size="43.31" fill="#1a1a1a" textLength="135.59" lengthAdjust="spacingAndGlyphs">aCMC1</text></g>
<g transform="translate(1881 0) rotate(-90)"><text x="-2170.77" y="0.00" class="r" font-size="43.31" fill="#1a1a1a" textLength="141.55" lengthAdjust="spacingAndGlyphs">aCMC2</text></g>
<g transform="translate(1966.8 0) rotate(-90)"><text x="-2170.77" y="0.00" class="r" font-size="43.31" fill="#1a1a1a" textLength="141.12" lengthAdjust="spacingAndGlyphs">aCMC3</text></g>
</svg></body></html>
